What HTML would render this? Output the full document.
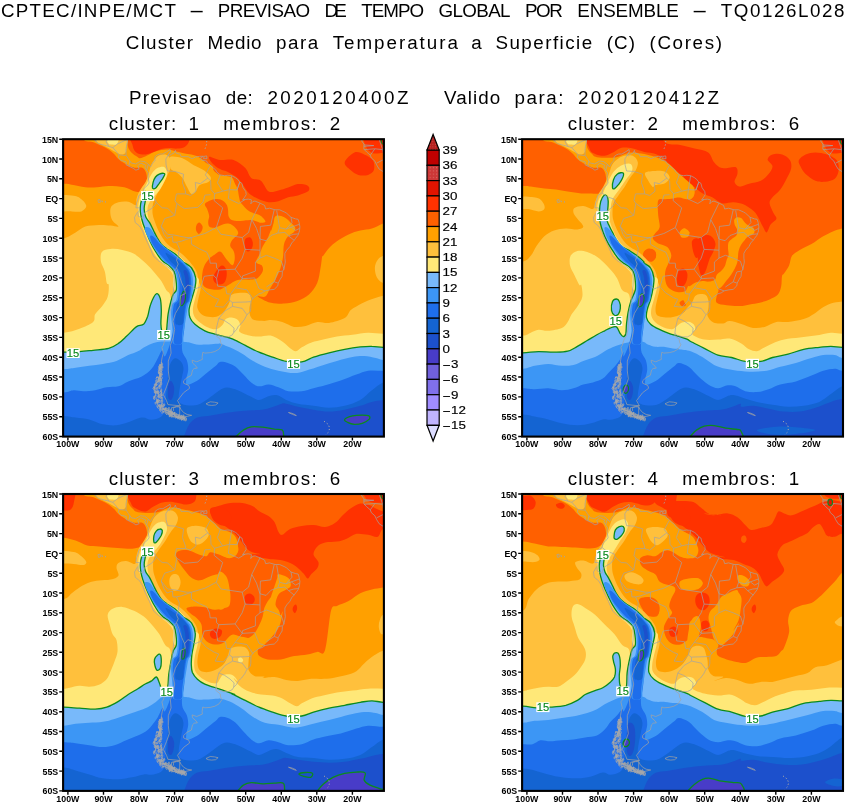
<!DOCTYPE html>
<html lang="pt"><head><meta charset="utf-8"><title>CPTEC/INPE/MCT - PREVISAO DE TEMPO GLOBAL POR ENSEMBLE</title>
<style>html,body{margin:0;padding:0;background:#fff}svg{display:block}text{font-family:"Liberation Sans",sans-serif;fill:#000}.t{font-size:18.8px}.tk{font-size:9.7px;font-weight:bold}.cb{font-size:10.8px;stroke:#000;stroke-width:0.15px}.cl{font-size:11.2px;fill:#0c8a1e;stroke:#0c8a1e;stroke-width:0.15px}</style></head><body>
<svg width="847" height="803" viewBox="0 0 847 803">
<rect width="847" height="803" fill="#fff"/>
<text class="t" x="1" y="16.5" textLength="174.9" lengthAdjust="spacing">CPTEC/INPE/MCT</text>
<text class="t" x="188.6" y="16.5" textLength="16.4" lengthAdjust="spacingAndGlyphs">-</text>
<text class="t" x="217.8" y="16.5" textLength="92.3" lengthAdjust="spacing">PREVISAO</text>
<text class="t" x="324.5" y="16.5" textLength="22.3" lengthAdjust="spacing">DE</text>
<text class="t" x="361.2" y="16.5" textLength="62.9" lengthAdjust="spacing">TEMPO</text>
<text class="t" x="438.5" y="16.5" textLength="72" lengthAdjust="spacing">GLOBAL</text>
<text class="t" x="524.9" y="16.5" textLength="38" lengthAdjust="spacing">POR</text>
<text class="t" x="577.3" y="16.5" textLength="101.5" lengthAdjust="spacing">ENSEMBLE</text>
<text class="t" x="691.6" y="16.5" textLength="16.4" lengthAdjust="spacingAndGlyphs">-</text>
<text class="t" x="720.7" y="16.5" textLength="123.8" lengthAdjust="spacing">TQ0126L028</text>
<text class="t" x="125.8" y="49" textLength="67.2" lengthAdjust="spacing">Cluster</text>
<text class="t" x="207.5" y="49" textLength="54" lengthAdjust="spacing">Medio</text>
<text class="t" x="276" y="49" textLength="42.2" lengthAdjust="spacing">para</text>
<text class="t" x="332.7" y="49" textLength="125.2" lengthAdjust="spacing">Temperatura</text>
<text class="t" x="476.6" y="49" text-anchor="middle">a</text>
<text class="t" x="495.4" y="49" textLength="96.8" lengthAdjust="spacing">Superficie</text>
<text class="t" x="606.7" y="49" textLength="28.3" lengthAdjust="spacing">(C)</text>
<text class="t" x="649.5" y="49" textLength="72.5" lengthAdjust="spacing">(Cores)</text>
<text class="t" x="128.9" y="104.2" textLength="82.4" lengthAdjust="spacing">Previsao</text>
<text class="t" x="225.8" y="104.2" textLength="27" lengthAdjust="spacing">de:</text>
<text class="t" x="267.4" y="104.2" textLength="141.1" lengthAdjust="spacing">2020120400Z</text>
<text class="t" x="444.1" y="104.2" textLength="56" lengthAdjust="spacing">Valido</text>
<text class="t" x="514.6" y="104.2" textLength="48.8" lengthAdjust="spacing">para:</text>
<text class="t" x="577.9" y="104.2" textLength="141.1" lengthAdjust="spacing">2020120412Z</text>
<text class="t" x="108.8" y="130.2" textLength="67.5" lengthAdjust="spacing">cluster:</text>
<text class="t" x="193.8" y="130.2" text-anchor="middle">1</text>
<text class="t" x="223.2" y="130.2" textLength="93.6" lengthAdjust="spacing">membros:</text>
<text class="t" x="334.9" y="130.2" text-anchor="middle">2</text>
<text class="t" x="567.8" y="130.2" textLength="67.5" lengthAdjust="spacing">cluster:</text>
<text class="t" x="652.8" y="130.2" text-anchor="middle">2</text>
<text class="t" x="682.2" y="130.2" textLength="93.6" lengthAdjust="spacing">membros:</text>
<text class="t" x="793.9" y="130.2" text-anchor="middle">6</text>
<text class="t" x="108.8" y="484.9" textLength="67.5" lengthAdjust="spacing">cluster:</text>
<text class="t" x="193.8" y="484.9" text-anchor="middle">3</text>
<text class="t" x="223.2" y="484.9" textLength="93.6" lengthAdjust="spacing">membros:</text>
<text class="t" x="334.9" y="484.9" text-anchor="middle">6</text>
<text class="t" x="567.8" y="484.9" textLength="67.5" lengthAdjust="spacing">cluster:</text>
<text class="t" x="652.8" y="484.9" text-anchor="middle">4</text>
<text class="t" x="682.2" y="484.9" textLength="93.6" lengthAdjust="spacing">membros:</text>
<text class="t" x="793.9" y="484.9" text-anchor="middle">1</text>
<clipPath id="cp1"><rect x="63.1" y="139.2" width="320.8" height="297.4"/></clipPath>
<g clip-path="url(#cp1)">
<rect x="60" y="135" width="330" height="310" fill="#ffa000"/>
<path d="M48.3,123.3C55.1,118.1 77.5,120.6 83.4,123.3C89.2,126 81.6,136.1 83.4,139.3C85.2,142.5 90.5,141 94.1,142.4C97.7,143.8 102,145.7 105.2,147.5C108.3,149.2 110.7,150.9 113,152.9C115.3,154.9 116.7,157.6 119,159.5C121.3,161.5 124.3,163.2 126.8,164.6C129.4,166 131.9,167.2 134.4,167.7C137,168.2 140.3,166.9 142.2,167.7C144.2,168.6 145.3,170.6 146.1,173C146.9,175.3 147.1,179 147.1,181.8C147,184.5 146.6,187.9 145.7,189.5C144.8,191.2 143.6,191.6 141.8,191.9C140,192.2 137.9,192.3 135,191.5C132.1,190.7 128.7,188.1 124.3,187.2C119.9,186.3 113.2,186 108.7,186C104.2,186 100.9,187 97,187.2C93.1,187.4 89.5,187.6 85.3,187.2C81.1,186.8 75.3,185.3 71.7,184.7C68.1,184.1 67.8,183.9 63.9,183.7C60,183.5 51.9,188.2 48.3,183.3C44.7,178.4 42.5,164.5 42.5,154.5C42.5,144.5 41.5,128.5 48.3,123.3Z" fill="#ff6000"/>
<path d="M127.2,123.3C82.6,126.6 127.3,138.4 127.6,142.8C127.9,147.2 128.2,147.7 129.2,149.6C130.1,151.5 131.6,152.8 133.1,154.1C134.5,155.4 136.8,156.5 137.9,157.2C139.1,157.9 138.5,158.5 140,158.3C141.5,158 144.7,156.5 147.1,155.4C149.4,154.4 151.8,152.8 154.2,151.9C156.5,151 158.9,150.4 161.3,150C163.6,149.6 166,149.3 168.3,149.5C170.7,149.7 173.1,150.6 175.4,151.2C177.8,151.7 180.1,152.3 182.5,152.9C184.9,153.4 187.2,153.7 189.6,154.3C191.9,154.8 194.5,155.2 196.7,156.1C198.8,157 200.7,158.5 202.3,159.7C204,160.8 204.9,162.1 206.6,163.2C208.2,164.3 211,164.8 212.3,166C213.5,167.3 212.7,169.2 213.9,170.7C215.1,172.1 217.5,174.1 219.6,174.9C221.6,175.8 224.1,175.5 226.2,175.9C228.2,176.3 230.4,176.1 231.8,177.3C233.3,178.5 233.7,181.1 234.7,182.9C235.6,184.8 236.8,186.4 237.5,188.6C238.2,190.8 238.4,194 238.9,196.2C239.4,198.4 239.6,200.3 240.3,201.8C241,203.4 241.9,204.2 243.2,205.6C244.4,207 246.2,209.1 247.9,210.3C249.6,211.6 251.7,212.4 253.6,213.2C255.4,214 257.7,214.3 259.2,215.1C260.8,215.8 262,216.8 263,217.9C264,219 265.7,220.9 265.4,221.7C265.1,222.5 262.8,222.9 261.1,222.8C259.5,222.7 257.2,221.4 255.4,220.9C253.7,220.4 252.3,220.1 250.7,220C249.2,219.9 247.7,220.2 246,220.3C244.3,220.5 242.2,220.9 240.3,220.9C238.4,221 236.2,220.9 234.7,220.7C233.1,220.5 231.9,220.4 230.9,219.6C229.9,218.8 229,217.5 228.5,216C228.1,214.5 228.3,212.1 228.1,210.3C227.8,208.6 227.7,207 227.1,205.6C226.5,204.2 225.4,202.9 224.3,201.8C223.2,200.8 221.9,199.9 220.5,199.5C219.1,199 217.5,198.8 215.8,199C214,199.2 211.8,199.8 210.1,200.4C208.5,201 206.7,202 205.9,202.8C205,203.6 204.7,204 204.9,205.1C205.2,206.2 206.6,207.6 207.3,209.4C208,211.2 209,214 209.2,216C209.3,218 208.2,219.9 208.2,221.7C208.2,223.4 208.2,225.4 209.2,226.4C210.1,227.4 212.3,227.8 213.9,227.8C215.5,227.8 217,226.8 218.6,226.2C220.2,225.6 221.8,224.8 223.3,224.3C224.9,223.9 226.5,223.4 228.1,223.6C229.6,223.7 231.4,224.5 232.8,225.4C234.2,226.4 235.7,227.8 236.6,229.2C237.4,230.6 238.7,232.2 238,233.9C237.3,235.7 233.7,237.8 232.4,239.8C231.1,241.7 229.9,243.8 230.2,245.8C230.4,247.7 233.2,249.5 233.9,251.7C234.7,254 234.9,257 234.7,259.2C234.4,261.4 233.8,265.2 232.4,265.2C231,265.2 228.4,261.4 226.4,259.2C224.4,257 222.5,252.5 220.5,251.7C218.5,251 216.2,253.7 214.5,254.7C212.7,255.7 210.8,257.2 210,257.7C209.2,258.2 210.8,256.6 210,257.8C209.1,258.9 206.1,262.2 204.8,264.7C203.6,267.2 202.8,269.9 202.4,273C201.9,276 201.7,280.4 202.4,282.9C203,285.4 203.9,286.7 206.5,287.9C209.1,289 214.8,290.1 218.1,289.8C221.4,289.6 223.6,287.6 226.3,286.2C229.1,284.8 232.1,282.3 234.6,281.2C237.1,280.1 238.4,279.9 241.2,279.6C244,279.3 248.4,279.9 251.1,279.6C253.9,279.3 255.8,279.3 257.7,277.9C259.7,276.6 262,273.4 262.7,271.3C263.4,269.3 263,267.1 261.9,265.5C260.8,264 256.5,264 256.1,262.2C255.7,260.4 258.3,257.4 259.4,254.8C260.5,252.2 261.3,249.3 262.7,246.5C264.1,243.8 266.3,241 267.6,238.3C269,235.5 270.3,231.2 271,230C271.6,228.8 270.8,231.9 271.3,230.8C271.7,229.7 272.8,225.8 273.5,223.3C274.3,220.8 273.9,216.9 275.8,215.9C277.6,214.9 282.1,216.1 284.7,217.4C287.3,218.6 289.7,221.6 291.4,223.3C293.2,225.1 294.8,226.3 295.2,227.8C295.6,229.3 294.9,230.8 293.7,232.3C292.4,233.8 289.3,234.8 287.7,236.8C286.1,238.8 284.7,241.3 284,244.3C283.2,247.2 283.6,251.5 283.2,254.7C282.9,258 282.5,260.7 281.7,263.7C281,266.7 280,269.7 278.7,272.7C277.5,275.6 275.8,278.9 274.3,281.6C272.8,284.4 271.3,286.6 269.8,289.1C268.3,291.6 267.3,295.4 265.3,296.6C263.3,297.7 258.2,295.6 257.7,296.1C257.3,296.6 260.5,298.3 262.7,299.4C264.9,300.5 267.4,302 271,302.7C274.5,303.4 279.8,303.8 284.2,303.6C288.6,303.3 293.3,302.6 297.4,301.1C301.5,299.6 305.7,297.5 309,294.5C312.3,291.4 315.3,287.3 317.2,282.9C319.2,278.5 319.7,272.4 320.5,268C321.4,263.6 321.7,258.5 322.2,256.4C322.6,254.4 322.1,257.2 323.2,255.8C324.4,254.4 326.8,250.4 329.1,248C331.4,245.6 333.6,243.4 336.9,241.2C340.1,238.9 344.7,236.1 348.6,234.4C352.5,232.6 356.4,231.4 360.3,230.5C364.2,229.5 368.1,229.6 371.9,228.5C375.7,227.4 379.2,225.3 383.1,223.6C386.9,222 391.3,227 395.3,218.8C399.3,210.5 407,189.9 407,174C407,158.1 442,131.8 395.3,123.3C348.7,114.9 171.8,120.1 127.2,123.3Z" fill="#ff6000"/>
<path d="M199.3,222.6C200.3,222.8 202.2,225 202.6,226.4C202.9,227.8 202.2,229.9 201.6,231.1C201,232.4 199.7,234.1 198.8,233.9C197.9,233.8 196.5,231.6 196.1,230.2C195.7,228.8 195.9,226.7 196.4,225.4C196.9,224.2 198.2,222.5 199.3,222.6Z" fill="#ff6000"/>
<path d="M133.1,129.2C123.6,131.9 132,141.8 132.7,145.7C133.3,149.7 134.8,151.5 136.9,152.9C139.1,154.4 143,154.6 145.7,154.5C148.5,154.4 150.9,153.1 153.5,152.1C156.1,151.2 158.7,149.7 161.3,149C163.9,148.3 166.5,147.9 169.1,147.9C171.7,147.8 174.3,148.8 176.9,148.6C179.5,148.5 182.6,148.5 184.7,147.1C186.8,145.6 188.7,142.9 189.5,139.9C190.4,136.9 199,130.9 189.5,129.2C180.1,127.4 142.5,126.4 133.1,129.2Z" fill="#ff3200"/>
<path d="M209.3,156.8C210.6,156.3 215.9,159.4 220,159.9C224.1,160.5 229.4,158.6 233.6,159.9C237.9,161.3 242.4,165.1 245.3,168.1C248.2,171.1 248.6,175.7 251.2,177.9C253.8,180 258,178.5 260.9,180.8C263.8,183.1 265.8,189.9 268.7,191.5C271.6,193.1 275.2,191.2 278.4,190.5C281.7,189.9 284.9,188.7 288.2,187.6C291.4,186.5 295,184.6 297.9,184.1C300.8,183.6 303.8,184.1 305.7,184.7C307.6,185.3 308.9,186.5 309.2,187.6C309.5,188.7 309.5,190.2 307.7,191.5C305.8,192.8 301.2,194.4 297.9,195.4C294.7,196.4 291.4,196.4 288.2,197.3C284.9,198.3 281.7,200.4 278.4,201.2C275.2,202 271.9,202.5 268.7,202.2C265.5,201.9 262.2,200.7 259,199.3C255.7,197.8 251.8,195.7 249.2,193.4C246.6,191.2 245.3,188.2 243.4,185.6C241.4,183.1 240.1,180.1 237.5,177.9C234.9,175.6 230.7,173.5 227.8,172C224.9,170.6 222.6,170.6 220,169.1C217.4,167.6 214,165.3 212.2,163.2C210.4,161.2 208,157.4 209.3,156.8Z" fill="#ff3200"/>
<path d="M344.7,162.3C345.3,159.4 351.2,153.8 354.4,152.5C357.7,151.2 361.1,153.2 364.2,154.5C367.2,155.8 371.3,157.7 372.9,160.3C374.5,162.9 374.7,167.6 373.9,170.1C373.1,172.5 370.6,174.1 368.1,174.9C365.5,175.7 361.2,175.7 358.3,174.9C355.4,174.1 352.8,172.2 350.5,170.1C348.2,168 344,165.2 344.7,162.3Z" fill="#ff3200"/>
<path d="M365.1,135C370,133.1 390.3,132.7 395.3,135C400.4,137.3 398.6,145.6 395.3,148.6C392.1,151.7 380.1,153 375.8,153.5C371.6,154 371.6,152.7 370,151.6C368.4,150.4 366.9,149.4 366.1,146.7C365.3,143.9 360.3,136.9 365.1,135Z" fill="#ff3200"/>
<path d="M213.1,277.9C213.2,275.6 215.7,271.7 217.2,269.7C218.7,267.6 220.7,265.5 222.2,265.5C223.7,265.5 225.6,267.6 226.3,269.7C227,271.7 226.9,275.6 226.3,277.9C225.8,280.3 224.7,282.8 223,283.7C221.4,284.7 218.1,284.7 216.4,283.7C214.8,282.8 213,280.3 213.1,277.9Z" fill="#ff3200"/>
<path d="M245.3,239.1C246.2,237.6 249,236.9 250.3,237.4C251.5,238 252.5,240.6 252.8,242.4C253,244.2 252.8,246.7 251.9,248.2C251.1,249.7 249,251.8 247.8,251.5C246.6,251.2 245.2,248.6 244.8,246.5C244.4,244.5 244.4,240.6 245.3,239.1Z" fill="#ff3200"/>
<path d="M395.3,251.9C393.3,246.7 386,254.5 383.1,255.8C380.1,257.1 379.2,257.7 377.8,259.7C376.4,261.6 375,264.5 374.9,267.5C374.7,270.4 375.5,274.6 376.8,277.2C378.2,279.8 380,281.4 383.1,283.1C386.1,284.7 393.3,292.1 395.3,286.9C397.4,281.8 397.4,257.1 395.3,251.9Z" fill="#ffc03c"/>
<path d="M91.2,129.2C86.1,131.1 94.3,138.2 96,140.8C97.8,143.4 99.8,143.5 101.9,144.7C104,146 106.4,147 108.7,148.2C111,149.5 113.5,151.1 115.5,152.1C117.5,153.2 119.2,154.4 120.8,154.5C122.4,154.6 124.3,154.2 125.3,152.9C126.2,151.6 126.5,150.6 126.6,146.7C126.8,142.7 132.1,132.1 126.2,129.2C120.3,126.2 96.2,127.2 91.2,129.2Z" fill="#ffc03c"/>
<path d="M105.2,129.2C103.2,131.4 106.5,139.9 107.7,142.4C109,144.9 111,144.2 112.6,144.4C114.2,144.5 116.3,145.7 117.5,143.2C118.6,140.6 121.5,131.5 119.4,129.2C117.4,126.8 107.1,126.9 105.2,129.2Z" fill="#ffe878"/>
<path d="M170.5,156.8C172.5,155.9 178.6,156.8 182.5,158.3C186.4,159.7 190.3,163.3 193.8,165.3C197.4,167.3 200.9,168.3 203.8,170.3C206.6,172.3 210.1,175.4 210.8,177.4C211.5,179.4 209.9,181 208,182.3C206.1,183.6 201.6,183.5 199.5,185.2C197.4,186.8 196.7,190.8 195.3,192.3C193.8,193.7 192.4,194.6 191,193.7C189.6,192.7 188.2,189.2 186.8,186.6C185.3,184 184.2,180.4 182.5,178.1C180.9,175.7 178.7,173.8 176.8,172.4C174.9,171 172.2,171 171.2,169.6C170.1,168.2 170.6,166 170.5,163.9C170.3,161.8 168.5,157.8 170.5,156.8Z" fill="#ffc03c"/>
<path d="M56.1,196.4C59,194 69.4,195.3 73.6,195.8C77.9,196.3 79.3,197.6 81.4,199.3C83.5,201 86.3,204.1 86.3,206.1C86.3,208.1 83.9,210.5 81.4,211.4C79,212.2 75.9,211.6 71.7,211.4C67.5,211.1 58.7,212.5 56.1,210C53.5,207.5 53.2,198.7 56.1,196.4Z" fill="#ffc03c"/>
<path d="M42.5,241.2C52.9,235.6 58.4,239.7 63.9,238.2C69.4,236.8 72,234.4 75.6,232.4C79.2,230.5 81.4,227.8 85.3,226.6C89.2,225.3 94.7,225.2 99,225C103.2,224.8 107.4,225.3 110.6,225.6C113.9,225.8 118.1,227.4 118.4,226.6C118.8,225.7 114,223 112.6,220.7C111.2,218.4 110.4,215.4 110.3,212.9C110.1,210.5 110.3,207.9 111.6,206.1C113,204.3 115.7,202.9 118.4,202.2C121.2,201.5 125.3,201.3 128.2,201.8C131.1,202.3 134.6,205.6 136,205.1C137.3,204.7 136,201.2 136.4,199.3C136.8,197.3 137.4,195.4 138.3,193.4C139.2,191.5 140.6,189.5 141.8,187.6C143.1,185.6 144.6,184 145.7,181.8C146.9,179.5 147.7,176.9 148.6,174C149.6,171 150.1,167.1 151.6,164.2C153,161.3 155.1,158.1 157.4,156.4C159.7,154.8 163.1,154.2 165.2,154.5C167.3,154.8 169.1,156.4 170.1,158.4C171,160.3 171.5,163.2 171,166.2C170.6,169.1 168.8,172.3 167.1,175.9C165.5,179.5 163.1,184.4 161.3,187.6C159.5,190.8 157.8,192.8 156.4,195.4C155.1,198 153.8,200.3 153.1,203.2C152.5,206.1 152.3,210 152.5,212.9C152.8,215.8 153.5,217.8 154.5,220.7C155.5,223.6 156.8,227.2 158.4,230.5C160,233.7 162.1,237.4 164.2,240.2C166.3,243 168.3,244.9 171,247C173.8,249.1 177.7,250.4 180.8,252.9C183.9,255.3 186.9,258.5 189.5,261.6C192.1,264.7 194.8,268.1 196.4,271.4C197.9,274.6 198,278.4 198.7,281.1C199.4,283.9 200.8,284.8 200.7,287.9C200.6,290.9 198.8,296.1 198.2,299.4C197.7,302.7 196.8,305.2 197.4,307.7C197.9,310.2 199.7,312.8 201.5,314.3C203.3,315.8 205.7,316.4 208.1,316.8C210.6,317.2 213.8,317.6 216.4,316.8C219,316 221.7,314.2 223.8,311.8C226,309.5 228.2,305.3 229.3,302.7C230.4,300.1 229.6,297.6 230.5,296.1C231.3,294.6 232.5,294.2 234.6,293.6C236.7,293.1 240.4,292.7 242.9,292.8C245.3,292.9 248.1,293.1 249.5,294.5C250.8,295.8 251.1,298.9 251.1,301.1C251.1,303.3 249.6,305.2 249.5,307.7C249.3,310.2 249.5,313.9 250.3,316C251.1,318 252.1,319.3 254.4,320.1C256.8,320.9 261.6,320.9 264.3,320.9C267,320.9 267.6,319.9 270.6,320.1C273.6,320.2 278.4,320.9 282.3,322C286.2,323.1 290.1,326.2 294,326.9C297.9,327.5 301.8,326.7 305.7,325.9C309.6,325.1 313.5,322.5 317.4,322C321.3,321.5 324.5,323.6 329.1,323C333.6,322.3 341.1,320.2 344.7,318.1C348.2,316 348.6,312.3 350.5,310.3C352.5,308.4 353.4,308.1 356.4,306.4C359.3,304.8 363.6,302.4 368.1,300.6C372.5,298.8 377.9,297 383.1,295.7C388.2,294.4 393.9,278.3 399.2,292.8C404.5,307.2 415.5,354.5 414.8,382.4C414.2,410.3 457,447.3 395.3,460.3C333.6,473.3 110.3,491.8 44.7,460.3C-21,428.8 1.9,307.9 1.6,271.4C1.2,234.8 32.1,246.7 42.5,241.2Z" fill="#ffc03c"/>
<path d="M101.9,251.9C103.5,249.8 107.2,249.3 110.6,249C114.1,248.6 118.4,249.1 122.3,249.9C126.2,250.7 130.5,251.9 134,253.8C137.6,255.8 140.5,258.7 143.8,261.6C147,264.5 150.6,268.1 153.5,271.4C156.4,274.6 159.2,278 161.3,281.1C163.4,284.2 164.7,287.8 166.2,290.1C167.6,292.3 169.3,291.7 170.1,294.7C170.9,297.8 171.2,303.5 171,308.4C170.9,313.2 169.7,319.4 169.1,324C168.4,328.5 167.5,329.2 167.1,335.6C166.8,342.1 184.4,358.4 167.1,362.9C149.9,367.5 84.7,362.9 63.9,362.9C43.1,362.9 46,368 42.5,362.9C38.9,357.9 38.9,337.8 42.5,332.7C46,327.7 57.7,333.4 63.9,332.7C70.1,332.1 74.6,330.6 79.5,328.8C84.4,327 90.5,324.4 93.1,322C95.7,319.6 93.6,316.8 95.1,314.2C96.5,311.6 99.8,309.4 101.9,306.4C104,303.5 106.6,300.3 107.7,296.7C108.9,293.1 108.9,287.3 108.7,285C108.5,282.7 107.4,285.3 106.8,283.1C106.1,280.8 105.8,274.9 104.8,271.4C103.8,267.8 101.4,264.9 100.9,261.6C100.4,258.4 100.3,254 101.9,251.9Z" fill="#ffe878"/>
<path d="M197.9,277.9C200,279.3 198.4,284.3 197.9,287.9C197.4,291.4 195.7,296 194.9,299.4C194.1,302.9 193.1,305.8 192.9,308.5C192.8,311.3 193.1,313.7 194.1,316C195.1,318.2 196.7,319.8 199,321.7C201.4,323.7 205.2,326.3 208.1,327.5C211,328.8 213.9,329.7 216.4,329.2C218.9,328.6 221.5,325.9 223,324.2C224.5,322.6 224.1,320.4 225.5,319.3C226.9,318.2 229.2,317.5 231.3,317.6C233.3,317.7 236.4,318.7 237.9,320.1C239.4,321.5 240.1,323.9 240.4,325.9C240.6,327.8 238,330.1 239.5,331.8C241,333.4 246,334.8 249.2,335.6C252.5,336.5 255.4,336.6 259,336.6C262.5,336.6 266.8,334.8 270.6,335.6C274.5,336.5 279.1,339.4 282.3,341.5C285.6,343.6 287.9,346.7 290.1,348.3C292.4,349.9 294,351.4 296,351.2C297.9,351.1 299.2,348.8 301.8,347.3C304.4,345.9 308,343.8 311.6,342.5C315.1,341.2 319,340.5 323.2,339.5C327.5,338.6 332,337.4 336.9,336.6C341.8,335.8 347.3,335.3 352.5,334.7C357.7,334 363,332.9 368.1,332.7C373.1,332.6 377.9,333.5 383.1,333.7C388.2,333.9 396.5,325.6 399.2,333.7C401.9,341.8 429.1,374.3 399.2,382.4C369.4,390.5 255.7,394 220,382.4C184.3,370.8 190.8,329.8 185,312.6C179.2,295.5 182.9,285.4 185,279.6C187.1,273.8 195.7,276.6 197.9,277.9Z" fill="#ffe878"/>
<path d="M142.8,191.5C144,188.9 145.2,186.6 146.7,183.7C148.1,180.8 149.8,176.6 151.6,174C153.3,171.4 155.3,169.3 157.4,168.1C159.5,167 162.6,166.2 164.2,167.1C165.8,168.1 167.3,171.2 167.1,174C167,176.7 164.7,180.8 163.2,183.7C161.8,186.6 160.3,188.9 158.4,191.5C156.4,194.1 153.3,196.7 151.6,199.3C149.8,201.9 148.2,204.2 147.7,207.1C147.1,210 147.4,213.6 148.1,216.8C148.7,220.1 150.3,223.3 151.6,226.6C152.9,229.8 154.1,233.4 155.8,236.3C157.6,239.2 160.1,242 162.3,244.1C164.5,246.2 166.7,247.3 169.1,249C171.5,250.6 174.3,251.7 176.9,253.8C179.5,255.9 182.2,259 184.7,261.6C187.1,264.2 189.7,266.5 191.5,269.4C193.3,272.3 194.6,275.7 195.4,279.2C196.2,282.6 199.8,288.2 196.4,290.1C193,291.9 178.8,292.5 174.9,290.1C171,287.6 174.1,278.9 173,275.3C171.9,271.7 169.9,270.4 168.1,268.4C166.3,266.5 164.2,265.5 162.3,263.6C160.3,261.6 158.2,259.2 156.4,256.8C154.6,254.3 153,251.7 151.6,249C150.1,246.2 148.9,243.1 147.7,240.2C146.4,237.3 145.2,234.2 144.2,231.4C143.1,228.7 142.3,226.4 141.4,223.6C140.6,220.9 139.4,217.6 138.9,214.9C138.4,212.1 138.2,209.7 138.3,207.1C138.4,204.5 138.7,201.9 139.5,199.3C140.2,196.7 141.6,194.1 142.8,191.5Z" fill="#ffe878"/>
<path d="M144.9,191.5C144.1,192.1 142.6,196.7 141.8,199.3C141,201.9 140.4,204.5 140.3,207.1C140.1,209.7 140.4,212.3 140.8,214.9C141.3,217.5 142,220.1 142.8,222.7C143.6,225.3 144.6,227.5 145.7,230.5C146.9,233.4 148.3,237.3 149.6,240.2C150.9,243.1 152,245.4 153.5,248C155,250.6 156.8,253.5 158.4,255.8C160,258.1 161.5,260 163.2,261.6C165,263.2 167.3,263.9 169.1,265.5C170.9,267.1 172.8,269.1 174,271.4C175.1,273.6 175.5,276 175.9,279.2C176.3,282.3 176.8,287.5 176.3,290.1C175.8,292.7 174,292.3 173,294.7C171.9,297.1 170.9,301.2 170.1,304.5C169.3,307.7 168.6,311 168.1,314.2C167.6,317.5 167.4,321.2 167.1,324C166.9,326.7 166.9,329.1 166.4,330.8C165.9,332.5 165,334 164.2,334.1C163.5,334.2 162.4,333.1 161.9,331.4C161.3,329.7 161,327.5 160.9,324C160.8,320.5 161.4,314.5 161.3,310.3C161.2,306.1 161.1,301.4 160.3,298.6C159.5,295.9 158.1,292.8 156.4,293.8C154.8,294.7 152,300.7 150.6,304.5C149.1,308.2 148.8,312.9 147.7,316.2C146.5,319.4 145.4,322.3 143.8,324C142.1,325.6 139.5,325.1 137.9,325.9C136.3,326.7 136,327 134,328.8C132.1,330.6 128.8,334.2 126.2,336.6C123.6,339.1 121.4,341.5 118.4,343.4C115.5,345.4 112.9,347.2 108.7,348.3C104.5,349.4 98,349.7 93.1,350.3C88.2,350.8 84.4,351.3 79.5,351.6C74.6,351.9 70.1,352 63.9,352.2C57.7,352.4 52.9,344.3 42.5,352.6C32.1,360.9 1.6,383.9 1.6,401.9C1.6,419.8 3.5,450.6 42.5,460.3C81.4,470.1 173.3,470.1 235.3,460.3C297.4,450.6 387.5,420.6 414.8,401.9C442.1,383.1 404.5,356.8 399.2,347.7C393.9,338.6 387.6,347.6 383.1,347.3C378.5,347.1 375.7,346.4 371.9,346.4C368.1,346.3 364.8,346.5 360.3,346.9C355.7,347.4 349.9,348.3 344.7,349.3C339.5,350.3 334.3,351.5 329.1,352.8C323.9,354.1 318.1,355.6 313.5,357.1C309,358.6 306.4,361.2 301.8,361.9C297.3,362.7 291.1,362.2 286.2,361.4C281.4,360.6 277.1,358.6 272.6,357.1C268.1,355.6 263.5,354.2 259,352.2C254.4,350.3 249.7,347.6 245.3,345.4C241,343.2 236.4,340.6 232.9,339.1C229.5,337.6 227.7,337.4 224.7,336.6C221.6,335.8 218.1,335.1 214.8,334.1C211.4,333.2 208.1,332.5 204.8,330.8C201.5,329.2 197.4,326.4 194.9,324.2C192.4,322 190.9,320.1 190,317.6C189,315.1 188.9,312.4 189.1,309.3C189.4,306.3 190.6,303 191.6,299.4C192.6,295.8 194.2,291.4 194.9,287.9C195.6,284.3 196.3,281.2 195.7,277.9C195.2,274.6 193.4,270.5 191.6,268C189.8,265.5 186.5,264.1 185,263.1C183.5,262 184.4,263.2 182.7,261.6C181,260.1 177.5,255.9 174.9,253.8C172.3,251.7 169.4,250.6 167.1,249C164.9,247.3 162.9,245.9 161.3,244.1C159.7,242.3 158.7,240.5 157.4,238.2C156.1,236 154.8,233.1 153.5,230.5C152.2,227.9 150.9,224.9 149.6,222.7C148.3,220.4 146.6,219.1 145.7,216.8C144.8,214.5 144.2,211.6 144.2,209C144.1,206.4 144.8,203.5 145.3,201.2C145.8,199 147.1,197 147.1,195.4C147,193.8 145.8,190.8 144.9,191.5Z" fill="#78b9fa" stroke="#0c8a1e" stroke-width="1.3"/>
<path d="M152.5,188C152.2,187 152.6,184.2 153.1,182.3C153.6,180.5 154.5,178.3 155.5,177C156.6,175.6 158,174.7 159.3,174.1C160.7,173.5 162.7,173.2 163.6,173.3C164.5,173.4 164.9,173.7 164.7,174.7C164.5,175.6 163.4,177.4 162.5,178.9C161.5,180.4 160.1,182.2 158.9,183.8C157.7,185.3 156.4,187.6 155.4,188.3C154.3,189 152.9,189 152.5,188Z" fill="#78b9fa" stroke="#0c8a1e" stroke-width="1.3"/>
<path d="M42.5,369.2C52.9,363.7 58.4,369.4 63.9,369.2C69.4,368.9 71.4,368.3 75.6,367.8C79.8,367.2 84.7,366.5 89.2,365.8C93.8,365.2 98.3,364.7 102.9,363.9C107.4,363.1 112.3,362.4 116.5,361C120.7,359.5 124.6,356.8 128.2,355.1C131.8,353.5 135,352.7 137.9,351.2C140.8,349.8 143.1,347.7 145.7,346.4C148.3,345 150.9,343.9 153.5,343.1C156.1,342.2 158.7,341.8 161.3,341.5C163.9,341.2 166.5,341.6 169.1,341.5C171.7,341.4 174.3,341 176.9,341.1C179.5,341.2 182.6,341.7 184.7,341.9C186.8,342.1 187.6,342 189.5,342.5C191.5,342.9 193.6,344.1 196.4,344.4C199.1,344.8 202.9,344.7 206.1,344.6C209.4,344.5 213.5,344 215.8,343.8C218.1,343.6 219.2,343.5 219.9,343.4C220.6,343.4 218.4,342.8 220,343.4C221.6,344.1 226.2,345.7 229.7,347.3C233.3,349 237.5,350.9 241.4,353.2C245.3,355.5 249.2,358.7 253.1,361C257,363.2 260.6,365.2 264.8,366.8C269,368.4 273.6,369.7 278.4,370.7C283.3,371.8 289.5,373.1 294,373.1C298.6,373.1 301.2,371.9 305.7,370.7C310.3,369.5 316.1,367.5 321.3,365.8C326.5,364.2 331.7,362.4 336.9,361C342.1,359.5 347.9,357.9 352.5,357.1C357,356.3 360.3,355.9 364.2,356.1C368.1,356.3 372.7,357.4 375.8,358.1C379,358.7 379.2,359.5 383.1,360C386.9,360.5 393.9,350.7 399.2,361C404.5,371.2 415.5,404.8 414.8,421.4C414.2,437.9 457,453.8 395.3,460.3C333.6,466.8 110.3,470.1 44.7,460.3C-21,450.6 1.9,417.1 1.6,401.9C1.2,386.7 32.1,374.6 42.5,369.2Z" fill="#3c96f5"/>
<path d="M42.5,393.1C52.9,388.3 58.7,393 63.9,392.5C69.1,392 70.4,390.4 73.6,390.2C76.9,390 79.8,391.2 83.4,391.2C86.9,391.2 91.2,390.8 95.1,390.2C99,389.5 102.9,387.9 106.8,387.3C110.6,386.6 114.9,387.3 118.4,386.3C122,385.3 124.3,383.1 128.2,381.4C132.1,379.8 137.9,378.7 141.8,376.6C145.7,374.4 149,371.7 151.6,368.8C154.2,365.8 155.6,362.1 157.4,359C159.2,355.9 161.1,350.7 162.3,350.3C163.5,349.8 163.5,356.7 164.6,356.4C165.6,356.2 167.2,351.7 168.3,348.9C169.4,346.1 170.4,342.6 171.2,339.4C172,336.3 172.6,332.8 173.1,330C173.5,327.2 172.3,323.7 174,322.4C175.7,321.2 181.7,321.2 183.4,322.4C185.1,323.7 184.3,327.5 184.2,330C184.1,332.5 183.4,335 183.1,337.6C182.7,340.1 182,342.6 181.9,345.1C181.9,347.6 181.9,350.1 182.7,352.7C183.5,355.2 185.9,357.4 186.8,360.2C187.8,363.1 188.3,366.5 188.2,369.7C188.1,372.8 186.4,376.6 186.3,379.1C186.1,381.6 185.5,384.5 187.2,384.8C189,385.1 193.5,382.9 196.7,381C199.8,379.1 203,376 206.1,373.4C209.3,370.9 213.2,367.8 215.6,365.9C217.9,364 218,362.4 220,361.9C222,361.5 225.2,362.1 227.8,362.9C230.4,363.7 233,364.9 235.6,366.8C238.2,368.8 240.8,372 243.4,374.6C246,377.2 248.6,380.5 251.2,382.4C253.8,384.4 256,386 259,386.3C261.9,386.6 265.5,384.2 268.7,384.4C271.9,384.5 275.2,386.1 278.4,387.3C281.7,388.4 284.3,390.5 288.2,391.2C292.1,391.8 297.6,391.7 301.8,391.2C306,390.7 309.6,389.2 313.5,388.2C317.4,387.3 320.6,386.6 325.2,385.3C329.7,384 335.6,382.2 340.8,380.5C346,378.7 351.8,376.2 356.4,374.6C360.9,373 363.6,371.4 368.1,370.7C372.5,370.1 377.9,370.7 383.1,370.7C388.2,370.7 393.9,362.3 399.2,370.7C404.5,379.2 415.5,406.4 414.8,421.4C414.2,436.3 457,453.8 395.3,460.3C333.6,466.8 110.3,466.8 44.7,460.3C-21,453.8 1.9,432.6 1.6,421.4C1.2,410.2 32.1,397.9 42.5,393.1Z" fill="#1e6eeb"/>
<path d="M42.5,415.9C52.9,411.8 58.4,415.6 63.9,415.9C69.4,416.2 71.4,416.9 75.6,417.5C79.8,418.1 84.7,418.3 89.2,419.4C93.8,420.6 98.3,423.3 102.9,424.3C107.4,425.3 112.3,425.6 116.5,425.3C120.7,424.9 124,423.6 128.2,422.3C132.4,421 138,417.9 141.8,417.5C145.7,417 148.2,419.8 151.3,419.7C154.5,419.6 158.6,418.3 160.8,416.9C163,415.5 163.8,413.7 164.6,411.2C165.3,408.7 165.2,404.9 165.5,401.8C165.8,398.6 166.1,395.5 166.4,392.3C166.8,389.2 167.1,386 167.4,382.9C167.7,379.7 167.9,376.6 168.3,373.4C168.8,370.3 169.1,366.5 170.2,364C171.3,361.5 173.2,358.8 174.9,358.3C176.7,357.9 179.2,359.6 180.6,361.2C182,362.7 183.2,365.1 183.4,367.8C183.7,370.5 182.5,374.1 181.9,377.2C181.4,380.4 180.6,383.5 180,386.7C179.5,389.8 178.8,393.4 178.7,396.1C178.7,398.8 177.9,401.2 179.7,402.7C181.4,404.3 185.7,405.4 189.1,405.6C192.6,405.7 196.7,405.2 200.4,403.7C204.2,402.1 208.6,398.3 211.8,396.1C214.9,393.9 216.8,391.9 219.3,390.4C221.9,389 223.7,387.6 226.9,387.6C230,387.6 234.5,389 238.2,390.4C242,391.9 246.1,394.5 249.6,396.1C253,397.7 255.9,399.9 259,399.9C262,400 264.8,397.2 267.7,396.4C270.6,395.6 273.4,394.5 276.5,395.1C279.6,395.6 282.7,398.5 286.2,399.9C289.8,401.4 293.4,402.9 297.9,403.8C302.5,404.8 308.3,405.1 313.5,405.8C318.7,406.4 323.9,407.7 329.1,407.7C334.3,407.7 339.5,407.1 344.7,405.8C349.9,404.5 355.7,402.5 360.3,399.9C364.8,397.3 368.1,393.1 371.9,390.2C375.7,387.3 378.5,384.4 383.1,382.4C387.6,380.5 393.9,368.8 399.2,378.5C404.5,388.2 415.5,427.2 414.8,440.8C414.2,454.5 457,457.1 395.3,460.3C333.6,463.6 110.3,463.6 44.7,460.3C-21,457.1 1.9,448.2 1.6,440.8C1.2,433.4 32.1,420.1 42.5,415.9Z" fill="#1464d2"/>
<path d="M177.8,450.9C178.7,440.5 181.6,442.1 183.4,437.7C185.3,433.3 186.9,427.8 189.1,424.5C191.3,421.1 193.5,419.3 196.7,417.8C199.8,416.4 204.2,416.6 208,416C211.8,415.3 215.6,414.7 219.3,414.1C223.1,413.4 226.9,412.7 230.7,412.2C234.5,411.6 238.2,411.2 242,410.9C245.8,410.5 249.6,410.5 253.3,410.3C257.1,410 261.2,410 264.7,409.3C268.1,408.7 271.3,407.4 274.1,406.5C277,405.6 279.7,404.1 281.7,403.7C283.7,403.2 283.5,403.3 286.2,403.8C288.9,404.3 293.4,405.8 297.9,406.8C302.5,407.7 308.3,408.9 313.5,409.7C318.7,410.5 323.9,411.6 329.1,411.6C334.3,411.6 339.5,410.6 344.7,409.7C349.9,408.7 355.7,407.1 360.3,405.8C364.8,404.5 368.1,402.9 371.9,401.9C375.7,400.9 378.5,400.4 383.1,399.9C387.6,399.4 393.9,392.1 399.2,399C404.5,405.8 415.5,430.6 414.8,440.8C414.2,451.1 434.8,450.5 395.3,460.3C355.8,470.2 214,501.6 177.8,500C141.5,498.4 176.8,461.3 177.8,450.9Z" fill="#1c50cc"/>
<path d="M171.2,381C172.1,381.5 173.6,384.5 174,386.7C174.4,388.9 174.1,392 173.6,394.2C173.2,396.4 172.1,399.3 171.2,399.9C170.3,400.5 168.9,399.6 168.3,398C167.8,396.4 167.9,392.8 168,390.4C168,388.1 168.2,385.4 168.7,383.8C169.2,382.3 170.3,380.5 171.2,381Z" fill="#1c50cc"/>
<path d="M231.7,440.8C228,438.4 234.6,437.8 236.6,436C238.5,434.2 240.9,431.7 243.4,430.1C245.8,428.6 247.9,427.3 251.2,426.8C254.4,426.3 259,426.8 262.9,427.2C266.8,427.6 271.3,428.7 274.5,429.2C277.8,429.6 280.8,429 282.3,430.1C283.9,431.3 283.4,434.2 283.7,436C284,437.8 288.4,438.4 284.3,440.8C280.2,443.3 267.7,450.6 259,450.6C250.2,450.6 235.4,443.3 231.7,440.8Z" fill="#483cc8" stroke="#0c8a1e" stroke-width="1.3"/>
<path d="M344.7,419.4C345.5,418.3 349.5,416.6 352.5,415.9C355.4,415.2 359.4,415.1 362.2,415.1C365,415.1 367.9,415.2 369,415.9C370.2,416.6 370.2,418.2 369,419.4C367.9,420.6 364.6,422.5 362.2,423.3C359.8,424.1 356.9,424.4 354.4,424.3C352,424.1 349.2,423.1 347.6,422.3C346,421.5 343.9,420.5 344.7,419.4Z" fill="#483cc8" stroke="#0c8a1e" stroke-width="1.3"/>
<path d="M144.6,228C144.2,229.4 146.3,233.7 147.5,236.6C148.8,239.4 150.3,242.3 152.1,245.1C153.8,248 155.8,251.1 157.8,253.7C159.8,256.4 161.8,258.9 163.9,260.9C165.9,262.9 168.2,264.2 170.1,265.9C171.9,267.6 173.8,268.9 175,270.9C176.1,273 176.6,275.2 177.1,278.1C177.5,281 177.9,284.5 177.7,288.1C177.6,291.8 177.2,297.3 176.3,300C175.3,302.7 173,302.1 172.1,304.5C171.2,306.9 171.1,311 171,314.2C171,317.5 171.6,320.7 171.9,324C172.2,327.2 172.5,330.5 172.8,333.7C173,336.9 171.6,341.8 173.2,343.4C174.8,345.1 180.8,345.1 182.5,343.4C184.2,341.8 182.9,336.9 183.4,333.7C183.8,330.5 184.4,327.2 185,324C185.5,320.7 186,317.5 186.6,314.2C187.2,311 187.7,306.9 188.5,304.5C189.2,302.1 190.4,302.7 191.2,300C191.9,297.3 192.6,291.8 192.8,288.1C193.1,284.5 193.1,281 192.8,278.1C192.5,275.2 191.9,273 191,270.9C190.1,268.9 188.7,267.6 187.3,265.9C185.9,264.2 185,262.9 182.8,260.9C180.5,258.9 177.2,256.4 173.8,253.7C170.4,251.1 165.4,248 162.4,245.1C159.4,242.3 158,239.4 155.9,236.6C153.8,233.7 151.6,229.4 149.8,228C147.9,226.5 145,226.5 144.6,228Z" fill="#3c96f5"/>
<path d="M150.1,236.6C150,238 151.6,242.3 153.2,245.1C154.8,248 157.5,251.1 159.6,253.7C161.7,256.4 163.9,258.9 166,260.9C168.1,262.9 170.2,264.2 172,265.9C173.8,267.6 175.6,268.9 176.8,270.9C177.9,273 178.4,275.2 178.8,278.1C179.3,281 179.6,284.5 179.4,288.1C179.3,291.8 178.8,297.3 177.9,300C177,302.7 174.8,302.1 174,304.5C173.1,306.9 172.9,311 172.8,314.2C172.7,317.5 173.2,320.7 173.4,324C173.6,327.2 173.8,330.5 173.9,333.7C174.1,336.9 173,341.8 174.2,343.4C175.5,345.1 180.2,345.1 181.5,343.4C182.8,341.8 181.8,336.9 182.2,333.7C182.5,330.5 183.1,327.2 183.5,324C184,320.7 184.4,317.5 184.9,314.2C185.4,311 185.9,306.9 186.6,304.5C187.4,302.1 188.7,302.7 189.5,300C190.2,297.3 190.9,291.8 191.1,288.1C191.4,284.5 191.3,281 191,278.1C190.7,275.2 190.1,273 189.2,270.9C188.3,268.9 186.8,267.6 185.4,265.9C183.9,264.2 182.9,262.9 180.6,260.9C178.4,258.9 175.3,256.4 172,253.7C168.8,251.1 164.3,248 161.2,245.1C158.1,242.3 155.2,238 153.3,236.6C151.5,235.1 150.1,235.1 150.1,236.6Z" fill="#1e6eeb"/>
<path d="M165.7,253.7C166,254.9 168.6,258.9 170.2,260.9C171.8,262.9 173.7,264.2 175.3,265.9C176.9,267.6 178.7,268.9 179.8,270.9C180.9,273 181.4,275.2 181.8,278.1C182.2,281 182.4,284.5 182.3,288.1C182.1,291.8 181.6,297.3 180.7,300C179.9,302.7 177.9,302.1 177,304.5C176.2,306.9 175.9,311 175.7,314.2C175.5,317.5 174.7,322.3 175.8,324C177,325.6 181.4,325.6 182.7,324C184,322.3 183.4,317.5 183.9,314.2C184.4,311 184.8,306.9 185.6,304.5C186.4,302.1 187.8,302.7 188.5,300C189.3,297.3 189.9,291.8 190.2,288.1C190.4,284.5 190.4,281 190,278.1C189.7,275.2 189.2,273 188.2,270.9C187.2,268.9 185.8,267.6 184.3,265.9C182.7,264.2 181.5,262.9 178.8,260.9C176.1,258.9 170.1,254.9 167.9,253.7C165.8,252.5 165.3,252.5 165.7,253.7Z" fill="#1464d2"/>
<path d="M183.4,270.9C183.2,272.1 184.8,275.2 185.1,278.1C185.5,281 185.7,284.5 185.5,288.1C185.3,291.8 184.7,297.3 183.9,300C183.1,302.7 180.4,303.7 180.5,304.5C180.5,305.2 183.1,305.2 184.2,304.5C185.3,303.7 186.5,302.7 187.2,300C188,297.3 188.6,291.8 188.9,288.1C189.1,284.5 189,281 188.7,278.1C188.3,275.2 187.4,272.1 186.6,270.9C185.7,269.7 183.7,269.7 183.4,270.9Z" fill="#1c50cc"/>
<path d="M180.4,304.5C180.2,303 180.6,298.9 181.2,296.7C181.7,294.5 183,291.6 183.7,291.2C184.4,290.9 185.5,293 185.6,294.7C185.8,296.5 185.2,299.8 184.7,301.6C184.1,303.3 183.1,305 182.3,305.5C181.6,305.9 180.6,305.9 180.4,304.5Z" fill="#483cc8" stroke="#0c8a1e" stroke-width="1.1"/>
<path d="M148.4,164.3L150.5,167.0L152.6,163.1L154.8,160.7L155.1,156.7L157.6,154.8L159.7,154.0L162.9,154.0L166.9,151.6L170.1,149.6L170.4,152.0L167.9,155.2L169.3,155.9L171.1,154.4L174.0,153.2L175.4,150.4L176.1,153.2L180.4,154.4L181.1,156.7L188.2,156.7L192.1,158.7L195.3,157.1L199.6,156.3L203.5,156.3L200.6,157.9L201.3,159.9L206.7,161.1L207.4,163.1L210.2,165.0L211.0,166.2L215.6,169.8L216.6,171.8L220.2,174.9L224.5,175.7L227.7,175.3L231.6,175.7L235.5,177.7L237.6,179.3L239.8,182.1L241.9,183.3L243.0,187.6L245.8,191.6L246.2,194.7L244.4,197.5L242.6,199.9L245.1,199.5L248.3,199.1L251.5,199.9L250.8,203.8L252.9,201.5L255.0,201.1L260.0,203.1L264.6,205.4L265.7,209.0L269.6,208.2L275.0,209.8L279.6,209.8L284.9,212.2L286.7,213.3L291.0,217.3L295.6,218.9L298.1,219.3L299.1,222.5L299.9,226.8L299.5,230.8L298.1,235.1L295.6,238.3L294.2,240.3L291.7,243.0L289.9,246.6L286.7,250.2L284.9,253.3L284.9,258.1L285.3,262.0L284.2,268.0L282.4,271.9L282.1,276.3L280.3,279.1L278.2,283.0L277.8,285.8L274.2,289.4L270.0,289.8L265.0,290.9L262.2,292.9L259.0,293.7L253.6,297.7L251.1,300.8L250.8,304.8L250.8,308.8L250.1,311.9L246.9,314.7L244.7,319.1L241.5,323.4L238.3,326.2L236.6,329.7L233.7,332.5L232.3,334.9L228.4,336.9L223.8,336.9L218.1,335.3L215.9,333.3L215.9,335.7L220.2,339.2L220.6,342.4L222.0,344.8L219.1,349.1L214.9,351.5L210.2,352.7L204.9,353.1L202.8,352.3L202.1,357.1L202.4,359.4L196.7,361.8L192.1,360.2L192.5,363.0L196.0,366.2L197.4,368.1L194.2,368.5L192.5,370.1L191.4,375.3L187.1,377.6L183.6,380.8L183.6,383.2L188.9,385.6L189.6,388.3L183.6,392.7L180.0,397.4L177.5,400.6L180.4,405.8L176.5,406.5L171.5,407.7L171.5,411.7L167.6,410.9L162.9,408.5L158.7,405.8L156.9,400.6L155.8,396.6L155.1,390.7L154.8,384.8L158.7,380.8L160.5,374.9L162.2,368.9L161.2,365.0L161.5,361.0L162.2,357.1L163.3,353.1L161.9,347.2L163.3,345.2L164.7,340.4L167.6,335.3L169.0,329.3L169.3,321.4L169.7,317.1L170.1,311.5L171.5,305.6L172.5,299.7L173.3,292.1L174.0,285.8L174.3,278.7L173.6,271.9L170.1,268.8L165.1,264.8L158.7,260.9L153.7,256.5L152.3,253.3L149.4,246.6L147.3,242.2L144.5,236.3L142.7,231.2L139.5,226.0L135.2,222.5L134.5,217.3L137.3,212.6L139.1,210.6L139.5,207.8L135.9,207.8L136.6,202.7L137.7,200.3L138.8,195.5L143.0,192.8L144.1,188.4L148.0,184.8L149.1,182.9L148.0,176.9L148.4,173.0L146.6,170.2ZM146.6,170.2L144.8,167.0L145.9,165.4L140.9,163.1L137.7,165.8L139.1,169.0L135.9,170.2L133.1,168.2L128.8,166.2L126.0,164.7L126.3,161.9L122.4,160.7L121.0,160.7L118.5,157.5L118.9,154.8L116.0,151.2L112.8,147.6L108.9,146.4L104.3,145.3L98.6,143.7L95.7,141.3L91.1,136.9L87.6,134.6M148.4,164.3L144.5,161.5L140.5,161.1L135.6,163.9L131.3,163.1L128.5,159.1L126.0,155.2L126.0,149.2L127.0,143.3L127.7,139.3L124.9,136.9L121.3,135.8M179.7,406.9L181.1,409.7L183.6,412.5L187.1,414.5L191.7,415.3L187.1,416.4L181.8,417.6L176.5,417.6L171.1,415.7L167.6,413.7L171.1,412.5L173.6,410.5L173.3,407.7L176.5,406.9L179.7,406.9M206.0,403.8L210.2,401.8L214.5,402.2L218.1,403.0L215.6,405.0L211.7,405.4L208.1,405.0L206.0,403.8M288.5,412.5L292.0,413.3L295.6,414.9L296.3,415.7L292.7,414.5L288.5,412.5M364.9,135.4L363.9,139.3L361.4,140.5L363.9,144.1L363.9,149.2L366.7,152.0L370.3,155.2L371.3,157.9L374.9,161.1L376.7,165.0L379.1,169.0L382.7,171.4L386.3,174.2M203.5,158.7L207.0,158.7L206.7,155.9L204.2,156.3L203.5,158.7M97.9,199.9L100.0,199.5L100.4,202.3L98.6,202.7L97.9,199.9M101.8,200.7L102.8,201.5L102.1,201.9L101.8,200.7M105.0,201.5L106.0,201.9L105.0,202.3M170.1,152.0L165.8,159.1L166.1,165.0L167.6,171.0L174.7,171.4L183.6,174.2L182.5,182.9L185.3,190.8L185.7,193.9M185.7,193.9L176.5,193.9L175.0,200.7L176.8,203.5L174.7,215.3M143.0,192.8L148.0,196.7L155.1,199.1L156.2,202.3L162.2,207.8L167.6,208.2L174.7,215.3M138.1,212.2L138.1,216.1L142.7,218.5L144.8,212.6L151.6,208.6L155.1,204.6L156.2,202.3M174.7,215.3L164.7,218.5L161.2,226.4L164.0,234.3L166.9,238.3L172.5,236.3L172.9,242.2L176.5,242.2M176.5,242.2L179.3,248.2L178.2,256.1L176.5,260.1L178.2,264.0L176.5,268.0L173.6,271.1M176.5,242.2L181.8,241.1L191.4,237.5L191.4,244.2L199.6,249.0L206.7,252.1L209.5,258.1L210.2,263.2L216.3,263.2L216.6,268.0L218.8,270.0L217.0,277.1L216.6,278.7M216.6,278.7L213.4,275.1L204.2,276.3L201.0,286.6M201.0,286.6L194.9,289.0L191.7,286.2L187.8,285.0L184.6,289.0M184.6,289.0L181.8,283.0L180.0,277.9L178.9,273.9L176.5,268.0M184.6,289.0L185.3,293.7L180.4,295.7L180.0,305.6L175.4,313.5L172.9,321.4L174.7,329.3L173.3,337.3L170.4,345.2L171.1,353.1L168.3,361.0L168.3,370.9L169.3,378.8L166.5,386.8L163.3,394.7L166.5,400.6L167.9,404.6L180.4,405.8M201.0,286.6L206.7,292.9L214.5,297.7L218.8,299.3L215.2,306.4L223.4,307.2L229.4,300.1M216.6,278.7L217.7,286.2L225.5,287.0L226.6,293.7L230.5,294.1L229.4,300.1M229.4,300.1L232.3,302.4L232.6,306.4L225.2,310.7L218.8,318.3M218.8,318.3L224.5,320.6L229.8,324.2L234.1,328.2L233.7,332.5M218.8,318.3L216.6,327.4L215.9,333.3M185.7,193.9L190.7,195.5L196.0,191.2L195.3,182.5L200.3,183.7L207.8,178.1M207.8,178.1L205.3,174.9L210.2,165.8M207.8,178.1L210.6,180.9L211.0,189.6L214.5,193.6L222.7,191.2M222.7,191.2L217.4,182.9L220.2,174.9M222.7,191.2L229.4,189.6M229.4,189.6L231.6,175.7M229.4,189.6L236.9,190.0L239.8,182.1M179.7,406.9L179.7,416.0M128.8,166.2L129.9,161.1M118.9,154.8L126.0,155.5M112.8,147.6L117.8,143.7L127.7,139.3M108.9,146.4L106.0,141.7L110.0,136.5M95.7,141.3L98.2,135.0M239.8,182.1L236.9,190.0M229.4,189.6L228.4,198.7L238.7,203.5L245.1,199.5M214.5,193.6L214.2,200.7L222.7,207.8L216.3,227.6L204.9,233.5L191.4,237.5M216.3,227.6L220.9,234.3L242.2,237.5L245.1,249.4L242.2,258.1L235.1,269.2L218.8,270.0M242.2,237.5L248.6,232.4L251.8,219.7L260.0,203.1M251.8,219.7L256.5,228.4L260.0,239.1L260.0,250.2L245.1,249.4M260.0,239.1L266.1,240.7L271.0,235.5L277.8,233.1L279.6,227.6L276.7,210.6M260.0,239.1L260.4,226.4L270.7,225.2L274.2,209.8M277.8,233.1L284.9,232.4L288.5,235.9L294.2,240.3M279.6,227.6L286.0,229.2L291.3,227.2L299.1,224.4M286.0,229.2L292.0,222.5L291.0,217.3M291.3,227.2L295.6,230.4L299.5,228.4M288.5,235.9L293.8,234.3L298.4,233.9M260.0,250.2L260.0,258.1L266.4,255.3L274.2,258.1L281.4,261.3L284.2,269.6M260.0,258.1L255.4,262.0L255.4,271.1L242.6,275.9L242.2,278.7M235.1,269.2L242.2,278.7L235.1,287.8L230.5,294.1M242.2,278.7L254.7,277.9L259.0,288.6L265.0,290.9M266.4,287.0L274.2,281.8L277.8,283.0M274.2,281.8L277.8,271.9L282.4,271.1M235.1,287.8L246.9,289.8L252.9,298.9M232.3,302.4L245.8,302.0L250.8,301.6M232.6,306.4L242.2,308.4L246.9,314.7M161.2,226.4L167.6,234.3L174.7,235.1L186.1,237.5L191.4,237.5M176.8,203.5L184.3,208.6L197.8,207.4L203.1,201.9L204.9,195.1L210.6,194.7M364.9,135.4L372.0,133.0L379.1,139.3L382.7,149.6L374.9,148.8L370.3,155.2M363.9,144.9L373.8,145.6L363.9,146.4M374.9,148.8L364.2,149.6M376.7,163.1L384.5,159.1L386.3,165.8L382.7,171.4M384.5,159.1L382.7,149.6" fill="none" stroke="#a4a4a4" stroke-width="0.7" stroke-linejoin="round"/><path d="M204.6,134.6L205.3,137.7L206.7,140.9L206.7,143.7L206.0,146.4L204.2,150.8M324.0,421.2L328.3,424.4L329.7,428.3L328.3,432.3L325.8,434.7" fill="none" stroke="#a8a8a8" stroke-width="1" stroke-dasharray="1.2,2.2"/><path d="M161.1,365.2L160.6,365.7L160.4,364.8L160.6,364.3L161.1,364.3ZM161.3,362.3L162.5,363.2L161.7,364.8ZM161.0,365.7L160.5,365.7L160.4,364.4L161.1,364.8ZM161.2,364.7L162.7,364.5L162.1,366.7ZM161.5,366.2L161.7,368.1L160.7,367.8ZM163.1,367.9L162.0,367.6L162.8,366.4ZM160.0,365.4L160.5,367.3L160.0,368.8L158.9,368.5L158.7,366.3ZM160.8,367.1L159.0,367.6L159.6,364.3ZM161.0,367.0L160.2,369.2L159.6,366.6ZM160.8,369.3L159.9,369.9L159.5,368.0L160.7,367.5ZM160.5,368.3L160.2,369.3L159.6,368.7L159.9,367.6ZM160.8,368.2L161.3,367.7L161.5,368.4L161.1,369.1ZM161.5,369.2L162.0,370.3L161.5,371.2L160.7,371.2L160.9,369.9ZM160.1,369.4L159.0,369.1L159.7,367.2ZM158.8,370.5L158.3,369.8L158.6,368.8L159.3,368.3L159.7,370.0ZM160.4,368.7L161.0,369.4L160.5,370.3L160.1,369.5ZM159.4,373.9L159.0,372.0L159.4,369.7L160.7,370.8L160.9,373.4ZM159.3,373.3L158.2,372.6L158.5,370.5L159.6,370.2L160.1,371.9ZM159.8,372.2L158.7,373.3L158.7,371.6ZM160.2,373.2L159.6,374.9L158.7,374.0L159.2,372.4ZM161.4,373.3L161.3,375.9L159.6,375.4L160.3,373.1ZM161.2,371.1L162.2,373.2L160.6,375.1L160.0,372.3ZM162.6,374.9L161.7,375.4L161.8,373.8ZM159.5,374.2L160.8,373.8L160.6,377.1ZM160.1,375.6L160.1,377.4L159.2,376.5ZM160.8,375.3L159.4,375.7L160.0,373.4ZM158.5,376.9L160.0,376.4L159.9,378.9ZM156.6,376.9L157.1,376.9L157.3,378.0L156.5,378.0ZM160.7,379.1L160.5,377.8L161.2,378.0ZM161.0,376.8L161.7,376.4L162.4,377.6L161.8,379.3L160.8,378.4ZM160.0,378.2L160.2,380.1L159.1,380.8L158.3,379.2L159.0,377.6ZM159.0,377.3L158.7,379.0L158.0,377.3ZM160.8,380.9L161.1,379.0L161.8,380.8ZM158.3,379.9L158.3,378.4L159.1,379.5ZM159.5,379.3L160.1,377.6L160.9,379.5L159.9,381.2ZM157.4,376.5L158.6,378.7L157.3,380.5L156.1,378.5ZM159.3,381.0L158.4,381.8L158.3,379.8L159.1,379.7ZM159.8,382.3L159.0,382.4L159.3,381.3ZM160.9,379.5L161.6,380.0L161.4,381.0L160.9,381.2L160.4,380.5ZM158.8,381.8L158.2,381.3L158.0,380.3L158.6,380.0L159.4,380.6ZM155.7,380.2L157.5,381.8L155.8,383.7ZM160.8,382.9L160.9,380.9L161.7,382.0ZM156.7,380.6L157.6,381.2L157.1,381.9ZM157.3,384.8L156.2,383.9L156.7,382.0L157.8,381.6L158.1,383.6ZM161.1,384.5L160.5,384.0L160.9,383.1L161.4,383.6ZM156.5,385.4L155.7,384.8L156.3,384.1ZM154.3,383.9L156.3,385.5L154.5,387.1ZM161.6,385.1L160.3,385.0L160.0,383.0L160.9,381.9L161.9,382.8ZM160.8,384.4L161.0,387.3L159.5,385.8ZM156.2,383.9L155.9,384.9L155.4,384.3L155.7,383.6ZM155.8,383.9L156.5,385.8L155.1,385.9ZM159.3,386.3L158.9,385.5L159.2,384.6L159.7,385.3ZM154.1,387.4L155.0,387.9L154.5,388.9ZM158.5,386.7L159.8,384.8L159.7,387.3ZM157.1,388.3L157.4,386.9L158.0,388.0L157.7,389.5ZM155.0,388.1L154.2,390.5L152.8,388.3L154.1,387.0ZM159.7,386.6L160.2,387.8L159.6,389.0L159.0,388.1L158.8,386.7ZM153.4,388.4L153.7,386.5L154.7,386.8L154.4,388.3ZM156.1,387.4L156.9,389.2L155.9,389.6ZM161.4,388.7L161.9,390.1L161.3,390.9L160.6,390.1ZM155.2,392.9L154.1,392.4L154.6,390.3L155.8,391.2ZM161.7,393.1L160.6,393.4L159.9,392.4L160.5,391.2L161.5,391.0ZM160.5,392.0L160.3,390.8L161.2,390.4L161.1,391.8ZM155.8,391.3L156.7,391.7L155.8,393.3ZM157.7,392.6L156.8,392.4L156.7,390.5L157.8,390.9ZM156.4,391.4L156.9,393.6L155.7,394.1L154.9,392.9L155.2,390.7ZM157.5,391.1L158.6,391.4L159.0,392.8L158.4,393.8L157.6,393.2ZM162.0,395.6L160.1,394.9L161.7,392.2ZM158.6,390.7L158.6,393.2L157.7,394.1L157.0,393.1L157.1,391.1ZM162.3,395.9L161.1,395.8L160.8,394.4L161.9,393.6ZM159.0,394.5L159.9,394.9L160.2,396.1L159.7,397.3L158.8,396.4ZM156.0,395.3L155.7,395.9L155.2,395.3L155.7,394.8ZM158.2,394.8L157.7,394.0L158.2,392.8L158.9,393.4L158.8,394.7ZM161.4,394.5L161.9,395.0L161.5,395.6L161.2,395.3ZM154.6,397.2L154.0,396.0L154.9,396.0ZM158.4,395.6L158.4,396.9L157.5,396.7L157.9,395.4ZM158.0,398.0L158.8,394.7L159.9,397.4ZM161.8,396.7L162.3,396.9L162.1,397.9L161.5,398.0L161.4,397.0ZM153.4,396.7L154.6,396.6L154.2,398.5ZM160.0,398.6L160.6,395.9L161.6,397.5ZM155.1,399.0L154.3,399.8L153.2,398.1L154.7,397.3ZM162.6,399.1L161.9,400.0L161.2,399.3L161.6,398.1L162.3,397.8ZM161.7,401.5L160.9,401.2L161.3,400.0ZM162.6,401.9L161.9,401.4L162.1,400.0L162.9,400.6ZM157.9,400.2L157.3,401.1L156.9,399.9L157.3,399.1L157.8,399.3ZM157.5,403.4L156.9,401.4L158.5,401.4ZM159.2,399.7L159.4,401.0L158.5,401.7L157.9,400.4L158.4,399.0ZM157.5,401.4L156.9,400.9L157.2,399.9L158.1,400.2ZM156.7,401.1L157.8,400.1L158.9,400.6L158.4,402.4L157.6,402.6ZM157.3,402.9L156.5,402.3L157.1,400.7L157.7,402.0ZM160.3,401.1L160.3,402.6L159.3,402.7L159.1,401.1L159.8,400.1ZM158.0,401.1L157.9,403.2L156.8,403.3L156.4,401.9L156.9,400.5ZM156.2,403.8L155.2,404.2L155.0,402.2L156.0,402.4ZM161.5,403.6L161.5,402.2L162.5,402.6L162.1,404.1ZM162.6,403.6L163.2,404.6L162.8,406.7L161.8,404.9ZM159.9,406.3L159.0,405.9L159.8,404.1ZM161.7,407.1L160.3,406.2L161.7,404.0ZM160.2,408.1L160.1,404.8L162.0,405.3ZM161.6,405.0L162.1,405.1L162.5,405.8L162.1,406.3L161.6,406.0ZM164.8,404.5L164.6,405.6L164.1,405.0L164.2,403.6ZM159.8,407.7L158.7,408.4L157.6,407.9L157.9,405.7L159.2,405.5ZM160.4,407.3L160.4,406.0L160.9,405.6L161.8,406.0L161.2,407.4ZM162.5,408.1L162.5,406.2L163.8,406.5L163.8,409.2ZM163.4,406.3L163.3,405.4L163.5,404.5L164.2,404.9L164.0,406.0ZM158.1,404.8L159.0,406.1L158.0,407.3L156.9,406.9L157.0,404.6ZM165.0,408.2L165.5,408.1L165.6,409.1L164.9,409.3ZM160.3,410.4L159.8,409.3L160.1,408.3L160.8,408.3L160.9,409.4ZM165.3,409.9L164.5,410.0L164.5,408.8L165.3,408.4ZM163.7,408.9L164.3,408.6L164.4,409.6L164.1,410.5L163.6,409.8ZM166.4,408.2L166.3,409.1L165.7,409.0L165.4,407.9L166.0,407.2ZM168.3,411.2L166.8,409.9L168.1,408.2ZM161.2,409.0L159.8,409.3L160.2,406.9ZM163.0,408.2L163.6,408.4L163.8,409.6L163.0,409.3ZM159.7,410.8L160.0,409.0L161.3,408.8L161.0,411.5ZM165.3,409.7L165.9,408.5L166.7,408.8L166.8,410.3L165.9,411.0ZM169.6,408.4L169.4,409.6L168.5,410.1L168.2,408.4L169.0,407.1ZM163.1,409.6L162.1,410.6L162.0,408.8ZM164.7,411.8L164.9,411.2L165.3,411.1L165.3,411.8L165.1,412.3ZM167.3,410.3L168.8,410.5L168.8,413.3L167.1,413.1ZM170.8,412.0L170.5,412.6L170.0,412.4L170.0,411.3L170.6,411.1ZM170.9,409.8L170.8,411.3L170.0,411.4L169.7,410.3L170.2,409.5ZM162.4,411.6L162.9,412.7L162.1,413.5L161.9,412.3ZM163.3,411.1L163.8,411.8L163.1,412.4ZM163.8,412.4L162.3,410.7L163.0,408.2L164.6,409.4ZM170.3,411.9L169.3,411.9L170.1,410.3ZM171.8,413.4L170.7,412.7L171.5,411.6ZM166.0,410.0L167.1,412.2L165.1,413.4ZM172.5,412.9L172.1,413.2L171.7,412.6L172.2,412.3ZM171.4,414.4L170.6,414.1L170.7,412.1L172.1,412.6ZM170.2,412.3L168.8,414.8L168.6,411.3ZM165.9,413.9L167.3,412.0L167.1,415.0ZM172.9,415.1L171.3,415.6L171.1,413.0L172.4,412.8ZM168.7,412.7L169.0,411.2L169.8,412.1L169.8,413.4L169.1,413.9ZM172.2,413.7L173.1,412.8L173.7,414.1L172.9,414.9ZM172.0,413.2L172.5,412.1L173.1,412.7L172.8,413.7ZM174.3,411.9L174.8,413.1L174.0,413.2ZM170.5,415.1L169.4,417.1L168.7,413.5ZM174.4,413.6L174.5,414.8L173.8,414.8L173.7,413.9L173.8,412.9ZM170.3,416.6L169.4,415.9L170.2,414.6ZM172.7,413.2L173.0,415.8L171.4,416.5L171.3,413.7ZM170.5,414.5L170.4,413.5L170.9,413.0L171.2,414.1ZM175.2,414.3L174.2,415.3L173.5,413.9L174.4,412.6ZM173.3,414.0L171.7,414.6L171.9,411.5ZM174.3,415.4L173.7,414.6L173.3,413.0L174.3,412.8L174.8,414.1ZM173.9,416.2L174.6,416.5L174.1,417.5L173.7,417.3L173.5,416.5ZM170.4,414.0L171.1,414.6L171.3,415.7L170.6,416.3L169.8,415.4ZM179.3,418.1L177.9,417.4L179.0,415.7ZM175.0,412.8L176.8,413.7L176.2,416.4L174.4,416.2ZM176.7,417.9L176.3,416.1L177.4,416.2ZM171.9,415.8L172.8,416.5L171.9,417.6ZM179.7,415.4L178.7,416.3L178.3,414.5L179.2,414.2ZM177.5,414.3L178.0,414.7L177.6,415.2ZM178.9,415.2L179.4,416.1L178.7,416.7L178.3,415.5ZM179.3,417.4L180.4,416.2L180.8,419.2ZM174.5,415.6L175.4,414.3L175.8,416.7ZM177.5,415.8L176.7,417.1L175.7,416.5L175.7,414.7L176.8,414.0ZM177.5,418.8L177.6,418.0L177.9,417.7L178.3,417.9L178.2,419.1ZM177.3,417.3L175.6,418.3L176.0,415.5ZM178.3,418.2L177.9,416.3L178.9,416.7ZM178.9,416.4L178.8,417.7L178.1,417.9L178.2,416.6ZM181.2,414.9L182.0,417.7L179.7,416.9ZM177.6,416.1L177.7,417.4L177.1,416.7ZM180.5,416.1L181.1,416.4L181.0,417.4L180.5,417.9L180.2,417.0ZM178.9,416.1L178.5,417.1L178.0,416.0ZM181.8,416.9L181.2,417.8L180.8,416.5L181.6,415.4ZM180.2,417.5L181.8,417.0L181.9,419.0L181.0,419.9ZM183.4,418.7L184.1,417.8L184.8,419.5L183.6,420.4ZM179.4,419.5L178.2,417.5L180.0,417.0ZM182.1,416.2L183.2,418.7L181.7,420.6L181.1,418.2ZM184.1,416.9L183.8,418.7L182.8,418.3L182.7,415.5ZM183.7,418.6L182.9,418.2L182.9,417.1L183.4,416.5L183.9,417.2ZM184.5,416.4L184.1,418.8L182.8,417.2L183.4,414.7ZM183.0,419.2L182.0,419.8L181.5,418.1L182.5,417.7ZM184.6,417.9L186.0,417.9L186.3,419.6L185.2,420.1ZM182.8,419.3L181.9,417.7L182.9,415.9L184.0,418.0ZM186.2,420.9L184.6,420.7L184.3,418.4L185.3,416.7L186.3,418.3Z" fill="none" stroke="#a9a9a9" stroke-width="0.65" stroke-linejoin="round"/>
<circle cx="385.3" cy="140.6" r="4.2" fill="#e11400" stroke="#0c8a1e" stroke-width="1.2"/>
<rect x="141" y="191" width="13.2" height="9.8" fill="#fff"/><text class="cl" x="147.6" y="199.9" text-anchor="middle">15</text>
<rect x="157.1" y="330" width="13.2" height="9.8" fill="#fff"/><text class="cl" x="163.7" y="338.9" text-anchor="middle">15</text>
<rect x="66.5" y="348.2" width="13.2" height="9.8" fill="#fff"/><text class="cl" x="73.1" y="357.1" text-anchor="middle">15</text>
<rect x="286.9" y="359" width="13.2" height="9.8" fill="#fff"/><text class="cl" x="293.5" y="367.9" text-anchor="middle">15</text>
</g>
<rect x="63.1" y="139.2" width="320.8" height="297.4" fill="none" stroke="#000" stroke-width="2.1"/>
<text class="tk" text-anchor="end" transform="translate(58.2,142.7) scale(0.91,1)">15N</text>
<text class="tk" text-anchor="end" transform="translate(58.2,162.5) scale(0.91,1)">10N</text>
<text class="tk" text-anchor="end" transform="translate(58.2,182.3) scale(0.91,1)">5N</text>
<text class="tk" text-anchor="end" transform="translate(58.2,202.1) scale(0.91,1)">EQ</text>
<text class="tk" text-anchor="end" transform="translate(58.2,221.9) scale(0.91,1)">5S</text>
<text class="tk" text-anchor="end" transform="translate(58.2,241.8) scale(0.91,1)">10S</text>
<text class="tk" text-anchor="end" transform="translate(58.2,261.6) scale(0.91,1)">15S</text>
<text class="tk" text-anchor="end" transform="translate(58.2,281.4) scale(0.91,1)">20S</text>
<text class="tk" text-anchor="end" transform="translate(58.2,301.2) scale(0.91,1)">25S</text>
<text class="tk" text-anchor="end" transform="translate(58.2,321.1) scale(0.91,1)">30S</text>
<text class="tk" text-anchor="end" transform="translate(58.2,340.9) scale(0.91,1)">35S</text>
<text class="tk" text-anchor="end" transform="translate(58.2,360.7) scale(0.91,1)">40S</text>
<text class="tk" text-anchor="end" transform="translate(58.2,380.5) scale(0.91,1)">45S</text>
<text class="tk" text-anchor="end" transform="translate(58.2,400.4) scale(0.91,1)">50S</text>
<text class="tk" text-anchor="end" transform="translate(58.2,420.2) scale(0.91,1)">55S</text>
<text class="tk" text-anchor="end" transform="translate(58.2,440) scale(0.91,1)">60S</text>
<text class="tk" text-anchor="middle" transform="translate(67.9,447.4) scale(0.91,1)">100W</text>
<text class="tk" text-anchor="middle" transform="translate(103.5,447.4) scale(0.91,1)">90W</text>
<text class="tk" text-anchor="middle" transform="translate(139,447.4) scale(0.91,1)">80W</text>
<text class="tk" text-anchor="middle" transform="translate(174.6,447.4) scale(0.91,1)">70W</text>
<text class="tk" text-anchor="middle" transform="translate(210.1,447.4) scale(0.91,1)">60W</text>
<text class="tk" text-anchor="middle" transform="translate(245.7,447.4) scale(0.91,1)">50W</text>
<text class="tk" text-anchor="middle" transform="translate(281.3,447.4) scale(0.91,1)">40W</text>
<text class="tk" text-anchor="middle" transform="translate(316.8,447.4) scale(0.91,1)">30W</text>
<text class="tk" text-anchor="middle" transform="translate(352.4,447.4) scale(0.91,1)">20W</text>
<path d="M62.2,139.2h-3.0M62.2,159h-3.0M62.2,178.8h-3.0M62.2,198.6h-3.0M62.2,218.4h-3.0M62.2,238.3h-3.0M62.2,258.1h-3.0M62.2,277.9h-3.0M62.2,297.7h-3.0M62.2,317.6h-3.0M62.2,337.4h-3.0M62.2,357.2h-3.0M62.2,377h-3.0M62.2,396.9h-3.0M62.2,416.7h-3.0M62.2,436.5h-3.0M67.9,437.4v3.0M103.5,437.4v3.0M139,437.4v3.0M174.6,437.4v3.0M210.1,437.4v3.0M245.7,437.4v3.0M281.3,437.4v3.0M316.8,437.4v3.0M352.4,437.4v3.0" stroke="#000" stroke-width="1.4" fill="none"/>
<clipPath id="cp2"><rect x="522.1" y="139.2" width="320.9" height="297.4"/></clipPath>
<g clip-path="url(#cp2)">
<rect x="519" y="135" width="330" height="310" fill="#ffa000"/>
<path d="M507.3,123.3C514.1,118.1 536.5,120.6 542.4,123.3C548.2,126 540.6,136.1 542.4,139.3C544.2,142.5 549.5,141 553.1,142.4C556.7,143.8 561,145.7 564.2,147.5C567.3,149.2 569.7,150.9 572,152.9C574.3,154.9 575.7,157.6 578,159.5C580.3,161.5 583.3,163.2 585.8,164.6C588.4,166 590.9,167.2 593.4,167.7C596,168.2 599.3,166.9 601.2,167.7C603.2,168.6 604.3,170.6 605.1,173C605.9,175.3 606.3,179 606.1,181.8C605.9,184.5 604.9,187.6 603.7,189.5C602.5,191.5 601,192.8 598.9,193.4C596.8,194.1 594,193.4 591.1,193.4C588.2,193.4 585.2,193.8 581.3,193.4C577.4,193.1 571.9,192.1 567.7,191.5C563.5,190.8 559.9,190 556,189.5C552.1,189.1 548.5,189.1 544.3,188.6C540.1,188.1 534.3,187 530.7,186.6C527.1,186.2 526.8,186.2 522.9,186C519,185.9 510.9,190.9 507.3,185.6C503.7,180.4 501.5,164.9 501.5,154.5C501.5,144.1 500.5,128.5 507.3,123.3Z" fill="#ff6000"/>
<path d="M586.2,123.3C541.6,126.6 586.3,138.4 586.6,142.8C586.9,147.2 587.2,147.7 588.2,149.6C589.1,151.5 590.6,152.8 592.1,154.1C593.5,155.4 593.1,156.6 596.9,157.2C600.8,157.8 609.7,158.2 615.1,157.5C620.5,156.7 624.8,153.3 629.1,152.7C633.5,152 637.2,152.9 641.2,153.5C645.2,154.1 649.5,155.1 653.2,156.3C656.9,157.4 659.9,158.5 663.3,160.3C666.6,162.1 670.3,164.6 673.3,167.1C676.3,169.6 678.6,172.8 681.3,175.1C684,177.5 687.2,178.8 689.4,181.2C691.5,183.5 693.7,186.6 694.4,189.2C695,191.8 694.5,195.1 693.4,196.8C692.2,198.5 689.7,199.1 687.3,199.2C685,199.4 681.7,197.8 679.3,197.6C677,197.5 675.6,198.2 673.3,198.4C671,198.7 667.8,198.9 665.3,199.2C662.8,199.6 659.4,197.8 658.2,200.4C657.1,203.1 658,210.8 658.2,215.3C658.5,219.8 660.2,224.3 659.6,227.3C659.1,230.3 656.4,231.5 655.2,233.3C654.1,235.2 652.3,236.7 652.8,238.4C653.3,240 655.8,241.9 658.2,243.4C660.7,244.8 665.1,245 667.3,247C669.5,249 671.1,252.7 671.3,255.4C671.5,258.2 669.3,260.8 668.3,263.5C667.3,266.1 665.7,268.5 665.3,271.5C664.8,274.4 664.9,278.5 665.5,281.2C666.1,284 666.9,286.1 668.8,287.9C670.7,289.6 674.3,291.4 677.1,292C679.8,292.5 682.6,292.1 685.3,291.2C688.1,290.2 691.4,287.5 693.6,286.2C695.8,284.9 696.3,283.5 698.5,283.2C700.7,282.9 704.3,284.3 706.8,284.5C709.3,284.8 711.5,283.7 713.4,284.5C715.3,285.4 717.8,287.6 718.4,289.5C718.9,291.4 717,293.9 716.7,296.1C716.5,298.3 715.1,301.2 716.7,302.7C718.4,304.2 722.8,304.7 726.6,305.2C730.5,305.8 736,306.2 739.9,306C743.7,305.9 746.5,304.9 749.8,304.4C753.1,303.8 756.4,303.6 759.7,302.7C763,301.9 766.6,300.8 769.6,299.4C772.7,298 776,296.7 777.9,294.5C779.8,292.3 780.5,289.2 781.2,286.2C781.9,283.2 781.5,278.4 782,276.3C782.5,274.1 783,275.1 784.2,273.3C785.4,271.5 787.8,268.4 789.1,265.5C790.4,262.6 790.2,258.4 792,255.8C793.8,253.2 796.5,251.9 799.8,249.9C803,248 807.6,246.4 811.5,244.1C815.4,241.8 819.6,238.4 823.2,236.3C826.7,234.2 829.7,232.7 832.9,231.4C836,230.1 838.5,229.6 842.1,228.5C845.6,227.4 850.3,233.7 854.3,224.6C858.3,215.5 866,190.8 866,174C866,157.1 901,131.8 854.3,123.3C807.7,114.9 630.8,120.1 586.2,123.3Z" fill="#ff6000"/>
<path d="M644.2,252.4C644.9,251 647.4,249.2 649.2,249C651.1,248.8 654.2,250 655.2,251.4C656.3,252.8 656.5,256 655.6,257.4C654.8,258.8 652,259.8 650.2,259.8C648.5,259.8 646.2,258.7 645.2,257.4C644.2,256.2 643.5,253.8 644.2,252.4Z" fill="#ff6000"/>
<path d="M644,251.5C645,250.2 647.2,248.7 649,248.5C650.7,248.4 653.6,249.2 654.7,250.7C655.9,252.1 656.3,255.5 655.9,257.3C655.5,259.1 653.8,260.9 652.3,261.4C650.7,262 648,261.4 646.5,260.6C645,259.8 643.6,258 643.2,256.4C642.8,254.9 643,252.8 644,251.5Z" fill="#ff6000"/>
<path d="M679.5,302.7C679.7,301.8 681.7,300.2 682.8,300.2C683.9,300.2 685.7,301.8 686.1,302.7C686.6,303.6 686.1,305.2 685.3,305.7C684.6,306.3 682.7,306.5 681.7,306C680.7,305.5 679.3,303.7 679.5,302.7Z" fill="#ff6000"/>
<path d="M736.7,217.4C737.8,217.1 739.7,217.2 741.1,218.1C742.4,218.9 743.5,221.2 744.8,222.4C746,223.7 747.1,224.6 748.5,225.5C750,226.5 752.6,226.8 753.5,228C754.4,229.3 755,231.7 754.1,233C753.3,234.4 750.1,235 748.5,236.1C747,237.3 746,238.4 744.8,239.9C743.5,241.3 742.1,243 741.1,244.8C740,246.7 739.1,249 738.6,251.1C738,253.1 738.2,255.4 737.9,257.3C737.7,259.2 737.8,260.4 737.3,262.3C736.8,264.1 735.9,266.4 734.8,268.5C733.8,270.6 732.5,272.6 731.1,274.7C729.6,276.8 727.8,278.9 726.1,280.9C724.5,283 722.6,285.7 721.1,287.2C719.7,288.6 718.4,288.4 717.4,289.7C716.4,290.9 715.7,292.9 714.9,294.6C714.1,296.4 713.5,297.9 712.4,300C711.4,302.1 712.4,305.9 708.7,307.1C704.9,308.3 694.2,308.3 690,307.1C685.8,305.9 684.2,302.9 683.8,299.6C683.4,296.3 686.5,289.5 687.5,287.2C688.5,284.9 688.5,286.8 690,285.9C691.5,285.1 694.2,283 696.2,282.2C698.3,281.4 700.4,281.1 702.5,280.9C704.5,280.8 706.6,281.8 708.7,281.6C710.8,281.4 713.6,280.8 714.9,279.7C716.3,278.6 715.7,276.2 716.8,274.7C717.8,273.3 719.8,272.4 721.1,271C722.5,269.5 723.9,267.9 724.9,266C725.8,264.1 726.1,261.6 726.7,259.8C727.4,257.9 728.4,256.7 728.6,254.8C728.8,252.9 728,250.6 728,248.6C728,246.5 727.9,244 728.6,242.3C729.3,240.7 731,239.9 732.3,238.6C733.7,237.4 735.9,236.3 736.7,234.9C737.5,233.4 737.6,231.5 737.3,229.9C737,228.2 735.4,226.6 734.8,224.9C734.3,223.2 733.9,221.2 734.2,219.9C734.5,218.7 735.6,217.7 736.7,217.4Z" fill="#ffa000"/>
<path d="M679.7,232.3C680.2,230.8 682.7,228.3 684.3,228.3C685.9,228.3 688.8,230.9 689.4,232.3C689.9,233.8 689,236.1 687.7,237C686.5,237.8 683.1,238.1 681.7,237.4C680.4,236.6 679.3,233.8 679.7,232.3Z" fill="#ffa000"/>
<path d="M679,178.8C680.6,176.9 684.5,177.1 686.8,178.2C689.1,179.4 691.4,183.1 692.6,185.6C693.9,188.2 694.5,191.2 694.2,193.4C693.9,195.7 692.2,198.6 690.7,199.3C689.1,199.9 686.5,198.6 684.8,197.3C683.2,196 682.2,192.8 680.9,191.5C679.6,190.2 677.4,191.7 677.1,189.5C676.7,187.4 677.4,180.7 679,178.8Z" fill="#ffa000"/>
<path d="M589.4,129.3C577.2,132.5 588.5,144.1 589.4,148.2C590.4,152.3 592.6,152.6 595.1,153.9C597.6,155.1 601.4,156.1 604.6,155.8C607.7,155.5 611.2,153.3 614,152C616.8,150.7 618.4,148.4 621.6,147.8C624.7,147.3 629.1,147.9 632.9,148.6C636.7,149.3 640.4,151.1 644.2,152C648,152.9 652.4,152.8 655.6,153.9C658.7,155 660.6,156.7 663.1,158.6C665.6,160.5 668.2,162.9 670.7,165.2C673.2,167.6 675.7,170.4 678.2,172.8C680.7,175.1 683.3,177.2 685.8,179.4C688.3,181.6 690.5,183.6 693.3,186C696.2,188.4 699.6,191.7 702.8,193.6C705.9,195.4 709.1,195.7 712.2,197.3C715.4,198.9 718.3,202.4 721.9,203.2C725.4,204 730,202 733.5,202.2C737.1,202.4 740.4,203 743.3,204.2C746.2,205.3 748.8,207.2 751.1,209C753.4,210.8 755,211.9 756.9,214.9C758.9,217.8 761.1,223.6 762.8,226.6C764.4,229.5 765.4,232.7 766.7,232.4C768,232.1 768.9,226.9 770.6,224.6C772.2,222.3 775.9,220.7 776.4,218.8C776.9,216.8 774.6,215.5 773.5,212.9C772.3,210.3 769.7,205.8 769.6,203.2C769.4,200.6 770.7,199.6 772.5,197.3C774.3,195.1 778,192.5 780.3,189.5C782.6,186.6 784.4,183.2 786.1,179.8C787.9,176.4 790.4,172.3 791,169.1C791.7,165.8 791.5,162.8 790,160.3C788.6,157.9 785.2,155.5 782.2,154.5C779.3,153.5 774.9,153.7 772.5,154.5C770.1,155.3 767.6,157.4 767.6,159.4C767.6,161.3 772.3,163.7 772.5,166.2C772.7,168.6 770.6,171.5 768.6,174C766.7,176.4 764.1,179.2 760.8,180.8C757.6,182.4 752.7,182.7 749.1,183.7C745.6,184.7 741.8,186.9 739.4,186.6C737,186.3 734.8,183.9 734.5,181.8C734.2,179.6 737.3,176.4 737.4,174C737.6,171.5 738.1,168.1 735.5,167.1C732.9,166.2 725.4,168.9 721.9,168.1C718.3,167.3 716.3,164.9 714.1,162.3C711.8,159.7 711.5,154.8 708.2,152.5C705,150.3 699.5,149.9 694.6,148.6C689.7,147.3 683.3,145.5 679,144.7C674.7,144 671.4,144.9 668.8,144.1C666.1,143.2 664.1,142.2 663.1,139.7C662.2,137.3 675.4,131.1 663.1,129.3C650.8,127.6 601.7,126.2 589.4,129.3Z" fill="#ff3200"/>
<path d="M798.8,160.3C799.6,158.2 802.9,155.8 805.6,154.5C808.4,153.2 811.8,152.5 815.4,152.5C818.9,152.5 823.5,153.2 827.1,154.5C830.6,155.8 834.8,157.7 836.8,160.3C838.7,162.9 839.1,167 838.7,170.1C838.4,173.1 837.1,176.9 834.8,178.8C832.6,180.8 828.4,181.4 825.1,181.8C821.9,182.1 818.6,182.1 815.4,180.8C812.1,179.5 808.1,176.2 805.6,174C803.2,171.7 801.9,169.4 800.8,167.1C799.6,164.9 798,162.4 798.8,160.3Z" fill="#ff3200"/>
<path d="M824.1,135C829,133.1 849.3,132.7 854.3,135C859.4,137.3 857.6,145.6 854.3,148.6C851.1,151.7 839.1,153 834.8,153.5C830.6,154 830.6,152.7 829,151.6C827.4,150.4 825.9,149.4 825.1,146.7C824.3,143.9 819.3,136.9 824.1,135Z" fill="#ff3200"/>
<path d="M704.4,235.4C707.1,234.5 709.6,235 711.4,236.4C713.3,237.7 715.1,240.9 715.4,243.4C715.8,245.9 714.4,248.7 713.4,251.4C712.4,254.1 710.8,256.1 709.4,259.4C708.1,262.8 706.7,268.8 705.4,271.5C704.1,274.2 702.6,276.5 701.4,275.5C700.2,274.5 699.1,268.8 698.4,265.5C697.7,262.1 698.2,258.4 697.4,255.4C696.5,252.4 693.7,249.7 693.4,247.4C693,245.1 693.5,243.4 695.4,241.4C697.2,239.4 701.7,236.2 704.4,235.4Z" fill="#ff3200"/>
<path d="M678.3,271.5C679.3,269 681.8,268.1 683.3,268.5C684.8,268.8 686.8,271.3 687.3,273.5C687.8,275.7 687.2,279.3 686.3,281.5C685.5,283.7 683.8,286.2 682.3,286.5C680.8,286.9 678,286 677.3,283.5C676.6,281 677.3,274 678.3,271.5Z" fill="#ff3200"/>
<path d="M691.9,241.6C692.5,239.1 695.4,238 696.9,238.3C698.4,238.5 700.5,241 701,243.2C701.6,245.4 700.9,249 700.2,251.5C699.5,254 698,257.8 696.9,258.1C695.8,258.4 694.4,255.9 693.6,253.1C692.8,250.4 691.4,244 691.9,241.6Z" fill="#ff3200"/>
<path d="M550.2,129.2C545.1,131.1 553.3,138.2 555,140.8C556.8,143.4 558.8,143.5 560.9,144.7C563,146 565.4,147 567.7,148.2C570,149.5 572.5,151.1 574.5,152.1C576.5,153.2 578.2,154.4 579.8,154.5C581.4,154.6 583.3,154.2 584.3,152.9C585.2,151.6 585.5,150.6 585.6,146.7C585.8,142.7 591.1,132.1 585.2,129.2C579.3,126.2 555.2,127.2 550.2,129.2Z" fill="#ffc03c"/>
<path d="M564.2,129.2C562.2,131.4 565.5,139.9 566.7,142.4C568,144.9 570,144.2 571.6,144.4C573.2,144.5 575.3,145.7 576.5,143.2C577.6,140.6 580.5,131.5 578.4,129.2C576.4,126.8 566.1,126.9 564.2,129.2Z" fill="#ffe878"/>
<path d="M645.2,172.8C646.4,171.2 652.3,171 655.6,170.9C658.9,170.7 662.6,170.7 665,171.8C667.4,172.9 669.7,175.6 669.7,177.5C669.7,179.4 667.4,181.9 665,183.2C662.6,184.4 657.6,184.4 655.6,185.1C653.5,185.7 654,187.7 652.7,186.9C651.5,186.2 649.3,182.7 648,180.3C646.7,178 643.9,174.4 645.2,172.8Z" fill="#ffc03c"/>
<path d="M515.1,197.3C518.7,195.6 531.8,196.8 536.5,197.7C541.2,198.7 542.1,201.3 543.4,203.2C544.6,205.1 545.1,207.7 544.3,209C543.5,210.4 541.1,211.4 538.5,211.4C535.9,211.4 532.6,209.6 528.7,209C524.8,208.5 517.4,210 515.1,208.1C512.8,206.1 511.5,199.1 515.1,197.3Z" fill="#ffc03c"/>
<path d="M501.5,263.6C511.9,258.7 518,262.9 522.9,261.6C527.8,260.3 528.4,258.4 530.7,255.8C533,253.2 534.3,249.3 536.5,246C538.8,242.8 541.4,238.9 544.3,236.3C547.2,233.7 550.5,231.8 554.1,230.5C557.6,229.2 561.9,228.7 565.8,228.5C569.6,228.3 574.5,229.8 577.4,229.5C580.4,229.2 583.3,228.3 583.3,226.6C583.3,224.8 579.1,221 577.4,218.8C575.8,216.5 574,214.7 573.5,212.9C573.1,211.1 572.9,209.2 574.5,208.1C576.1,206.9 580.2,205.9 583.3,206.1C586.4,206.3 591,209.8 593,209C595,208.2 594.4,203.8 595.4,201.2C596.3,198.6 597.6,195.7 598.9,193.4C600.1,191.2 601.5,189.9 602.8,187.6C604.1,185.3 605.5,182.4 606.7,179.8C607.8,177.2 608.6,174.6 609.6,172C610.6,169.4 611,166.5 612.5,164.2C614,161.9 616.1,159.8 618.4,158.4C620.6,156.9 623.5,155.8 626.1,155.5C628.7,155.1 632,155.3 633.9,156.4C635.9,157.6 637.5,160 637.8,162.3C638.2,164.5 637.2,167.5 635.9,170.1C634.6,172.7 632,174.9 630,177.9C628.1,180.8 626.1,184.7 624.2,187.6C622.2,190.5 620.1,192.8 618.4,195.4C616.6,198 614.5,200.3 613.5,203.2C612.5,206.1 612.5,210 612.5,212.9C612.5,215.8 612.7,217.8 613.5,220.7C614.3,223.6 615.8,227.2 617.4,230.5C619,233.7 621.1,237.4 623.2,240.2C625.3,243 627.3,244.9 630,247C632.8,249.1 636.7,250.4 639.8,252.9C642.9,255.3 645.9,258.5 648.5,261.6C651.1,264.7 653.8,268.1 655.4,271.4C656.9,274.6 657,278.4 657.7,281.1C658.4,283.9 659.8,284.8 659.7,287.9C659.6,290.9 657.9,296.1 657.2,299.4C656.5,302.7 655.7,305.2 655.6,307.7C655.4,310.2 655.6,312.8 656.4,314.3C657.2,315.8 658.5,316.2 660.5,316.8C662.6,317.3 666,317.7 668.8,317.6C671.5,317.5 674.6,316.8 677.1,316C679.5,315.1 682,314 683.7,312.6C685.4,311.3 685.9,309.3 687.3,307.7C688.7,306 690.6,304.7 691.9,302.7C693.3,300.8 693.9,297.5 695.2,296.1C696.6,294.7 698.4,294.3 700.2,294.1C702,294 704.6,294.1 706,295.3C707.4,296.4 708,299 708.5,301.1C708.9,303.1 708.6,305.2 708.5,307.7C708.3,310.2 706.8,313.5 707.6,316C708.5,318.4 710.8,321.3 713.4,322.6C716,323.8 720.6,323.6 723.3,323.4C726,323.1 726.6,320.9 729.6,321C732.6,321.1 737.4,322.8 741.3,324C745.2,325.1 749.1,327.4 753,327.9C756.9,328.3 760.8,327.9 764.7,326.9C768.6,325.9 772.5,322.8 776.4,322C780.3,321.2 783.5,322.5 788.1,322C792.6,321.5 799.5,320.4 803.7,319.1C807.9,317.8 810.5,316 813.4,314.2C816.3,312.4 818.3,310.2 821.2,308.4C824.1,306.6 827.5,304.6 830.9,303.5C834.4,302.4 837.5,302.4 842.1,301.6C846.6,300.7 852.9,285.2 858.2,298.6C863.5,312.1 874.5,355.5 873.8,382.4C873.2,409.4 916,447.3 854.3,460.3C792.6,473.3 569.3,488.6 503.7,460.3C438,432.1 460.9,323.6 460.6,290.8C460.2,258.1 491.1,268.4 501.5,263.6Z" fill="#ffc03c"/>
<path d="M570.6,255.8C571.9,253.3 574.7,251.6 577.4,250.9C580.2,250.3 583.9,250.9 587.2,251.9C590.4,252.9 593.7,254.5 596.9,256.8C600.2,259 603.4,262.1 606.7,265.5C609.9,268.9 613.8,273.1 616.4,277.2C619,281.3 620.1,287.1 622.2,290.1C624.4,293 627.8,291.7 629.1,294.7C630.4,297.8 630.2,303.5 630,308.4C629.9,313.2 628.7,319.4 628.1,324C627.4,328.5 626.5,329.2 626.1,335.6C625.8,342.1 643.4,358.4 626.1,362.9C608.9,367.5 543.7,362.9 522.9,362.9C502.1,362.9 505,367.4 501.5,362.9C497.9,358.4 497.9,340.6 501.5,336C505,331.5 518,336.2 522.9,335.6C527.8,335.1 528.1,333.7 530.7,332.7C533.3,331.8 535.6,330.1 538.5,329.8C541.4,329.5 544.3,331.1 548.2,330.8C552.1,330.5 558.6,329.3 561.9,327.9C565.1,326.4 566.1,324.3 567.7,322C569.3,319.7 570,316.8 571.6,314.2C573.2,311.6 575.7,309.4 577.4,306.4C579.2,303.5 581.7,300.3 582.3,296.7C583,293.1 581.8,286.9 581.3,285C580.9,283.1 580.5,286.6 579.4,285C578.3,283.4 576.1,278.5 574.5,275.3C573,272 570.7,268.8 570,265.5C569.4,262.3 569.4,258.2 570.6,255.8Z" fill="#ffe878"/>
<path d="M656.9,277.9C659,279.3 657.4,284.3 656.9,287.9C656.4,291.4 654.8,296 653.9,299.4C653,302.9 651.9,305.8 651.4,308.5C651,311.3 650.7,313.6 651.4,316C652.1,318.3 653.5,320.6 655.6,322.6C657.6,324.5 661.1,326.4 663.8,327.5C666.6,328.6 669.9,329.4 672.1,329.2C674.3,328.9 675.4,327 677.1,325.9C678.7,324.8 680.1,323.3 682,322.6C683.9,321.9 686.7,321.5 688.6,321.7C690.6,322 692.5,323 693.6,324.2C694.7,325.5 695.4,327.4 695.2,329.2C695.1,330.9 691.1,332.9 692.6,334.7C694.2,336.4 700.1,338.7 704.3,339.5C708.5,340.4 713.7,339.7 718,339.5C722.2,339.4 725.8,337.9 729.6,338.6C733.5,339.2 738.1,341.7 741.3,343.4C744.6,345.2 746.5,348 749.1,349.3C751.7,350.6 754.6,351.4 756.9,351.2C759.2,351.1 760.2,349.6 762.8,348.3C765.4,347 768.9,344.9 772.5,343.4C776.1,342 779.6,340.5 784.2,339.5C788.7,338.6 794.6,338.2 799.8,337.6C805,336.9 810.2,336.5 815.4,335.6C820.6,334.8 826.5,333.1 830.9,332.7C835.4,332.4 837.5,333.5 842.1,333.7C846.6,333.9 855.5,325.6 858.2,333.7C860.9,341.8 888.1,374.3 858.2,382.4C828.4,390.5 714.7,394 679,382.4C643.3,370.8 649.8,329.8 644,312.6C638.2,295.5 641.9,285.4 644,279.6C646.1,273.8 654.7,276.6 656.9,277.9Z" fill="#ffe878"/>
<path d="M602.8,193.4C604.1,191 605.2,187.8 606.7,184.7C608.1,181.6 609.7,177.7 611.5,174.9C613.3,172.2 615.3,169.9 617.4,168.1C619.5,166.3 621.9,164.9 624.2,164.2C626.5,163.6 629.7,163.1 631,164.2C632.3,165.4 633,168.3 632,171C631,173.8 627.3,177.7 625.2,180.8C623.1,183.9 621.4,186.5 619.3,189.5C617.2,192.6 614,196 612.5,199.3C611,202.5 611,205.8 610.6,209C610.1,212.3 609.4,215.8 609.6,218.8C609.7,221.7 610.6,223.8 611.5,226.6C612.5,229.3 613.8,232.4 615.4,235.3C617.1,238.2 619.2,241.8 621.3,244.1C623.4,246.4 625.7,247.3 628.1,249C630.5,250.6 633.3,251.7 635.9,253.8C638.5,255.9 641.2,259 643.7,261.6C646.1,264.2 648.7,266.5 650.5,269.4C652.3,272.3 653.6,275.7 654.4,279.2C655.2,282.6 658.8,288.2 655.4,290.1C652,291.9 637.8,292.5 633.9,290.1C630,287.6 633.1,278.9 632,275.3C630.9,271.7 628.9,270.4 627.1,268.4C625.3,266.5 623.2,265.5 621.3,263.6C619.3,261.6 617.2,259.2 615.4,256.8C613.6,254.3 612,251.7 610.6,249C609.1,246.2 607.9,243.1 606.7,240.2C605.4,237.3 604.3,234.2 603.2,231.4C602,228.7 600.8,226.4 599.8,223.6C598.9,220.9 597.9,217.6 597.5,214.9C597.1,212.1 597.1,209.7 597.3,207.1C597.5,204.5 598,201.6 598.9,199.3C599.8,197 601.5,195.9 602.8,193.4Z" fill="#ffe878"/>
<path d="M603.9,195.4C602.9,196.2 601.6,198.6 600.8,201.2C600.1,203.8 599.6,207.7 599.5,211C599.3,214.2 599.5,217.8 599.8,220.7C600.2,223.6 601,225.9 601.8,228.5C602.6,231.1 603.6,233.7 604.7,236.3C605.9,238.9 607.1,241.5 608.6,244.1C610.1,246.7 611.9,249.4 613.5,251.9C615.1,254.3 616.6,256.8 618.4,258.7C620.1,260.6 622.2,262.1 624.2,263.6C626.1,265 628.4,265.8 630,267.5C631.7,269.1 633.1,271 633.9,273.3C634.8,275.6 635.1,278.3 635.3,281.1C635.5,283.9 636,286.8 635.3,290.1C634.6,293.3 632.2,296.9 631,300.6C629.8,304.3 628.8,308.4 628.1,312.3C627.3,316.2 626.9,320.4 626.5,324C626.1,327.5 626.3,331.6 625.8,333.7C625.2,335.8 624.1,336.6 623.2,336.6C622.3,336.6 621.4,335.3 620.3,333.7C619.2,332.1 618,327.9 616.4,326.9C614.8,325.9 612.5,327.2 610.6,327.9C608.6,328.5 607,329.6 604.7,330.8C602.4,331.9 599.8,333.1 596.9,334.7C594,336.3 590.4,338.6 587.2,340.5C583.9,342.5 580.7,344.6 577.4,346.4C574.2,348.1 571.6,350.3 567.7,351.2C563.8,352.2 558.9,352.1 554.1,352.2C549.2,352.3 543.7,351.5 538.5,351.6C533.3,351.7 529.1,352.5 522.9,352.8C516.7,353.1 511.9,345 501.5,353.2C491.1,361.4 460.6,384 460.6,401.9C460.6,419.7 462.5,450.6 501.5,460.3C540.4,470.1 632.3,470.1 694.3,460.3C756.4,450.6 846.5,420.6 873.8,401.9C901.1,383.1 863.5,356.8 858.2,347.7C852.9,338.6 846.6,347.6 842.1,347.3C837.5,347.1 834.7,346.4 830.9,346.4C827.1,346.4 823.8,346.9 819.3,347.3C814.7,347.8 808.9,348.1 803.7,349.3C798.5,350.4 793.3,352.8 788.1,354.2C782.9,355.5 777.1,356.3 772.5,357.5C768,358.7 765.4,360.7 760.8,361.4C756.3,362 750.1,362 745.2,361.4C740.4,360.7 736.1,358.5 731.6,357.5C727.1,356.4 722.5,356.7 718,355.1C713.4,353.6 708.9,350.6 704.3,348.3C699.8,346 693.6,343 690.7,341.5C687.8,340 689.2,340 687,339.1C684.7,338.1 680.1,336.7 677.1,335.8C674,334.8 671.8,334.4 668.8,333.3C665.8,332.2 661.9,330.7 658.9,329.2C655.8,327.7 652.7,326.1 650.6,324.2C648.5,322.3 647,320.1 646.5,317.6C645.9,315.1 646.6,312.4 647.3,309.3C648,306.3 649.6,303 650.6,299.4C651.6,295.8 652.5,291.4 653.1,287.9C653.6,284.3 654.3,281.2 653.9,277.9C653.5,274.6 652.3,270.5 650.6,268C649,265.5 645.2,264.1 644,263.1C642.8,262 645,263 643.7,261.6C642.3,260.2 638.5,256.8 635.9,254.8C633.3,252.9 630.5,251.4 628.1,249.9C625.7,248.5 623.2,247.7 621.3,246C619.3,244.4 617.9,242.5 616.4,240.2C614.9,237.9 613.8,235 612.5,232.4C611.2,229.8 609.6,226.9 608.6,224.6C607.6,222.3 606.8,221 606.7,218.8C606.5,216.5 607.4,213.9 607.6,211C607.9,208.1 608.3,203.7 608.2,201.2C608.1,198.8 607.8,197.3 607.1,196.4C606.3,195.4 605,194.6 603.9,195.4Z" fill="#78b9fa" stroke="#0c8a1e" stroke-width="1.3"/>
<path d="M612.5,187.6C612.3,186.1 612.7,182.1 613.5,179.8C614.3,177.5 615.8,175.1 617.4,174C619,172.8 622.4,172.2 623.2,173C624,173.8 623.1,176.9 622.2,178.8C621.4,180.8 619.6,183.1 618.4,184.7C617.1,186.3 615.4,188.1 614.5,188.6C613.5,189.1 612.7,189.1 612.5,187.6Z" fill="#78b9fa" stroke="#0c8a1e" stroke-width="1.3"/>
<path d="M612.5,301.6C613.3,299.7 615.3,299 616.4,299C617.5,299 618.7,300 619.3,301.6C620,303.1 620.5,306.3 620.3,308.4C620.1,310.5 619.3,313.1 618.4,314.2C617.4,315.4 615.6,315.8 614.5,315.2C613.3,314.5 611.9,312.6 611.5,310.3C611.2,308.1 611.7,303.4 612.5,301.6Z" fill="#78b9fa" stroke="#0c8a1e" stroke-width="1.3"/>
<path d="M501.5,369.2C511.9,363.6 517.4,369.3 522.9,368.8C528.4,368.2 530.4,366.7 534.6,365.8C538.8,365 543.7,363.9 548.2,363.9C552.8,363.9 557.6,365.7 561.9,365.8C566.1,366 570,365.7 573.5,364.9C577.1,364.1 579.7,362.3 583.3,361C586.9,359.7 591.4,358.7 595,357.1C598.5,355.5 601.8,352.9 604.7,351.2C607.6,349.6 609.9,348.5 612.5,347.3C615.1,346.2 617.7,345.2 620.3,344.4C622.9,343.6 625.5,343 628.1,342.5C630.7,341.9 633.3,341.2 635.9,341.1C638.5,341 641.6,341.3 643.7,341.9C645.8,342.5 646.6,344 648.5,344.8C650.5,345.6 652.6,346.4 655.4,346.8C658.1,347.1 661.9,346.6 665.1,346.9C668.4,347.3 672.5,348.5 674.8,348.7C677.1,348.9 678.2,348.2 678.9,348.3C679.6,348.4 677,348.8 679,349.3C681,349.8 686.8,349.9 690.7,351.2C694.6,352.5 698.5,354.8 702.4,357.1C706.3,359.4 710.2,362.9 714.1,364.9C718,366.8 721.9,367.8 725.8,368.8C729.6,369.7 732.9,370.2 737.4,370.7C742,371.2 748.2,371.7 753,371.7C757.9,371.7 762.1,371.5 766.7,370.7C771.2,369.9 775.4,368.1 780.3,366.8C785.2,365.5 790.7,364.4 795.9,362.9C801.1,361.5 806.9,359.4 811.5,358.1C816,356.8 819.3,355.6 823.2,355.1C827.1,354.6 831.7,354.6 834.8,355.1C838,355.6 838.2,357.1 842.1,358.1C845.9,359 852.9,350.4 858.2,361C863.5,371.5 874.5,404.8 873.8,421.4C873.2,437.9 916,453.8 854.3,460.3C792.6,466.8 569.3,470.1 503.7,460.3C438,450.6 460.9,417.1 460.6,401.9C460.2,386.7 491.1,374.7 501.5,369.2Z" fill="#3c96f5"/>
<path d="M501.5,388.2C511.9,382.7 517.4,388.1 522.9,388.2C528.4,388.4 530.4,389.2 534.6,389.2C538.8,389.2 543.7,388.1 548.2,388.2C552.8,388.4 557.6,390.2 561.9,390.2C566.1,390.2 570,389.2 573.5,388.2C577.1,387.3 580,385.3 583.3,384.4C586.5,383.4 589.8,383.4 593,382.4C596.3,381.4 600.2,380.1 602.8,378.5C605.4,376.9 606.7,374.6 608.6,372.7C610.6,370.7 612.5,369.1 614.5,366.8C616.4,364.5 618.8,361.5 620.3,359C621.8,356.6 622.7,352.6 623.2,352.2C623.8,351.8 622.9,357 623.6,356.4C624.2,355.9 626.2,351.7 627.3,348.9C628.4,346.1 629.4,342.6 630.2,339.4C631,336.3 631.6,332.8 632.1,330C632.5,327.2 631.3,323.7 633,322.4C634.7,321.2 640.7,321.2 642.4,322.4C644.1,323.7 643.3,327.5 643.2,330C643.1,332.5 642.4,335 642.1,337.6C641.7,340.1 641,342.6 640.9,345.1C640.9,347.6 640.9,350.1 641.7,352.7C642.5,355.2 644.9,357.4 645.8,360.2C646.8,363.1 647.3,366.5 647.2,369.7C647.1,372.8 645.4,376.6 645.3,379.1C645.1,381.6 644.5,384.5 646.2,384.8C648,385.1 652.5,382.9 655.7,381C658.8,379.1 662,376 665.1,373.4C668.3,370.9 672.2,367.6 674.6,365.9C676.9,364.1 676.6,362.8 679,362.9C681.4,363.1 685.5,364.5 688.7,366.8C692,369.1 695.2,373.6 698.5,376.6C701.7,379.5 705,382.4 708.2,384.4C711.5,386.3 714.7,388.1 718,388.2C721.2,388.4 724.8,385.6 727.7,385.3C730.6,385 732.6,385.3 735.5,386.3C738.4,387.3 741.7,390.2 745.2,391.2C748.8,392.1 753,392.5 756.9,392.1C760.8,391.8 764.7,390.5 768.6,389.2C772.5,387.9 775.8,385.6 780.3,384.4C784.8,383.1 790.7,382.9 795.9,381.4C801.1,380 806.9,377.4 811.5,375.6C816,373.8 819.3,371.9 823.2,370.7C827.1,369.6 831.7,368.8 834.8,368.8C838,368.8 838.2,370.4 842.1,370.7C845.9,371 852.9,362.3 858.2,370.7C863.5,379.2 874.5,406.4 873.8,421.4C873.2,436.3 916,453.8 854.3,460.3C792.6,466.8 569.3,466.8 503.7,460.3C438,453.8 460.9,433.4 460.6,421.4C460.2,409.4 491.1,393.8 501.5,388.2Z" fill="#1e6eeb"/>
<path d="M501.5,414.5C511.9,410.2 517.4,414.2 522.9,414.5C528.4,414.9 530.4,415.7 534.6,416.5C538.8,417.3 543.7,418.3 548.2,419.4C552.8,420.6 557,422.3 561.9,423.3C566.7,424.3 572.6,425.3 577.4,425.3C582.3,425.3 586.9,424.3 591.1,423.3C595.3,422.3 599.6,420 602.8,419.4C606,418.8 607.5,420.1 610.3,419.7C613.2,419.3 617.6,418.3 619.8,416.9C622,415.5 622.8,413.7 623.6,411.2C624.3,408.7 624.2,404.9 624.5,401.8C624.8,398.6 625.1,395.5 625.4,392.3C625.8,389.2 626.1,386 626.4,382.9C626.7,379.7 626.9,376.6 627.3,373.4C627.8,370.3 628.1,366.5 629.2,364C630.3,361.5 632.2,358.8 633.9,358.3C635.7,357.9 638.2,359.6 639.6,361.2C641,362.7 642.2,365.1 642.4,367.8C642.7,370.5 641.5,374.1 640.9,377.2C640.4,380.4 639.6,383.5 639,386.7C638.5,389.8 637.8,393.4 637.7,396.1C637.7,398.8 636.9,401.2 638.7,402.7C640.4,404.3 644.7,405.4 648.1,405.6C651.6,405.7 655.7,405.2 659.4,403.7C663.2,402.1 667.6,398.3 670.8,396.1C673.9,393.9 675.8,391.9 678.3,390.4C680.9,389 682.7,387.6 685.9,387.6C689,387.6 693.5,389 697.2,390.4C701,391.9 705.1,394.5 708.6,396.1C712,397.7 714.9,399.9 718,399.9C721,400 724.1,397.2 726.7,396.4C729.3,395.6 730.8,394.8 733.5,395.1C736.3,395.3 739.4,396.9 743.3,398C747.2,399.1 752.1,400.7 756.9,401.9C761.8,403 767.3,404 772.5,404.8C777.7,405.6 782.9,406.6 788.1,406.8C793.3,406.9 798.5,406.6 803.7,405.8C808.9,405 814.7,403.8 819.3,401.9C823.8,399.9 827.1,396.7 830.9,394.1C834.7,391.5 837.5,388.2 842.1,386.3C846.6,384.4 852.9,373.3 858.2,382.4C863.5,391.5 874.5,427.9 873.8,440.8C873.2,453.8 916,457.1 854.3,460.3C792.6,463.6 569.3,463.6 503.7,460.3C438,457.1 460.9,448.5 460.6,440.8C460.2,433.2 491.1,418.9 501.5,414.5Z" fill="#1464d2"/>
<path d="M636.8,450.9C637.7,440.5 640.6,442.1 642.4,437.7C644.3,433.3 645.9,427.8 648.1,424.5C650.3,421.1 652.5,419.3 655.7,417.8C658.8,416.4 663.2,416.6 667,416C670.8,415.3 674.6,414.7 678.3,414.1C682.1,413.4 685.9,412.7 689.7,412.2C693.5,411.6 697.2,411.2 701,410.9C704.8,410.5 708.6,410.5 712.3,410.3C716.1,410 720.2,410 723.7,409.3C727.1,408.7 730.3,407.4 733.1,406.5C736,405.6 739.3,403.6 740.7,403.7C742,403.7 739.3,406.4 741.3,406.8C743.4,407.1 748.5,405.5 753,405.8C757.6,406.1 763.4,407.7 768.6,408.7C773.8,409.7 779,411.1 784.2,411.6C789.4,412.1 794.6,412.3 799.8,411.6C805,411 810.2,409.4 815.4,407.7C820.6,406.1 826.5,403.3 830.9,401.9C835.4,400.4 837.5,399.4 842.1,399C846.6,398.5 852.9,392 858.2,399C863.5,405.9 874.5,430.6 873.8,440.8C873.2,451.1 893.8,450.5 854.3,460.3C814.8,470.2 673,501.6 636.8,500C600.5,498.4 635.8,461.3 636.8,450.9Z" fill="#1c50cc"/>
<path d="M630.2,381C631.1,381.5 632.6,384.5 633,386.7C633.4,388.9 633.1,392 632.6,394.2C632.2,396.4 631.1,399.3 630.2,399.9C629.3,400.5 627.9,399.6 627.3,398C626.8,396.4 626.9,392.8 627,390.4C627,388.1 627.2,385.4 627.7,383.8C628.2,382.3 629.3,380.5 630.2,381Z" fill="#1c50cc"/>
<path d="M623.6,387.3C624.1,386.3 625.3,384.9 626.1,384.9C627,384.9 628.2,386.1 628.5,387.3C628.7,388.4 628.3,390.7 627.7,391.8C627.1,392.8 625.9,393.5 625.2,393.3C624.4,393.1 623.5,391.8 623.2,390.8C623,389.8 623.1,388.2 623.6,387.3Z" fill="#483cc8" stroke="#0c8a1e" stroke-width="1.1"/>
<path d="M756.9,430.1C757.6,428.8 769.9,427.3 776.4,426.8C782.9,426.3 789.4,426.7 795.9,427.2C802.4,427.8 815.4,429 815.4,430.1C815.4,431.3 803,433.3 795.9,434C788.7,434.8 779,435.3 772.5,434.6C766,434 756.3,431.4 756.9,430.1Z" fill="#1464d2"/>
<path d="M686.8,440.8C682.2,438.4 689.1,437.8 690.7,436C692.3,434.2 694.3,431.8 696.5,430.1C698.8,428.5 701.4,427 704.3,426.2C707.2,425.5 710.5,425.3 714.1,425.6C717.6,426 721.9,427.5 725.8,428.2C729.6,428.8 734.9,429.1 737.4,429.5C740,430 740.2,429.2 740.9,431.1C741.7,433 745.6,437.6 741.7,440.8C737.9,444.1 727.1,450.6 718,450.6C708.8,450.6 691.3,443.3 686.8,440.8Z" fill="#483cc8" stroke="#0c8a1e" stroke-width="1.3"/>
<path d="M604.4,228C604.2,229.4 605.4,233.7 606.5,236.6C607.6,239.4 609.3,242.3 611.1,245.1C612.8,248 614.8,251.1 616.8,253.7C618.8,256.4 620.8,258.9 622.9,260.9C624.9,262.9 627.2,264.2 629.1,265.9C630.9,267.6 632.8,268.9 634,270.9C635.1,273 635.6,275.2 636.1,278.1C636.5,281 636.9,284.5 636.7,288.1C636.6,291.8 636.2,297.3 635.3,300C634.3,302.7 632,302.1 631.1,304.5C630.2,306.9 630.1,311 630,314.2C630,317.5 630.6,320.7 630.9,324C631.2,327.2 631.5,330.5 631.8,333.7C632,336.9 630.6,341.8 632.2,343.4C633.8,345.1 639.8,345.1 641.5,343.4C643.2,341.8 641.9,336.9 642.4,333.7C642.8,330.5 643.4,327.2 644,324C644.5,320.7 645,317.5 645.6,314.2C646.2,311 646.7,306.9 647.5,304.5C648.2,302.1 649.4,302.7 650.2,300C650.9,297.3 651.6,291.8 651.8,288.1C652.1,284.5 652.1,281 651.8,278.1C651.5,275.2 650.9,273 650,270.9C649.1,268.9 647.7,267.6 646.3,265.9C644.9,264.2 644,262.9 641.8,260.9C639.5,258.9 636.2,256.4 632.8,253.7C629.4,251.1 624.4,248 621.4,245.1C618.4,242.3 617.1,239.4 614.9,236.6C612.6,233.7 609.7,229.4 607.9,228C606.2,226.5 604.7,226.5 604.4,228Z" fill="#3c96f5"/>
<path d="M609.4,236.6C609.5,238 610.7,242.3 612.2,245.1C613.7,248 616.5,251.1 618.6,253.7C620.7,256.4 622.9,258.9 625,260.9C627.1,262.9 629.2,264.2 631,265.9C632.8,267.6 634.6,268.9 635.8,270.9C636.9,273 637.4,275.2 637.8,278.1C638.3,281 638.6,284.5 638.4,288.1C638.3,291.8 637.8,297.3 636.9,300C636,302.7 633.8,302.1 633,304.5C632.1,306.9 631.9,311 631.8,314.2C631.7,317.5 632.2,320.7 632.4,324C632.6,327.2 632.8,330.5 632.9,333.7C633.1,336.9 632,341.8 633.2,343.4C634.5,345.1 639.2,345.1 640.5,343.4C641.8,341.8 640.8,336.9 641.2,333.7C641.5,330.5 642.1,327.2 642.5,324C643,320.7 643.4,317.5 643.9,314.2C644.4,311 644.9,306.9 645.6,304.5C646.4,302.1 647.7,302.7 648.5,300C649.2,297.3 649.9,291.8 650.1,288.1C650.4,284.5 650.3,281 650,278.1C649.7,275.2 649.1,273 648.2,270.9C647.3,268.9 645.8,267.6 644.4,265.9C642.9,264.2 641.9,262.9 639.6,260.9C637.4,258.9 634.3,256.4 631,253.7C627.8,251.1 623.4,248 620.2,245.1C617,242.3 613.8,238 612,236.6C610.2,235.1 609.4,235.1 609.4,236.6Z" fill="#1e6eeb"/>
<path d="M624.7,253.7C625,254.9 627.6,258.9 629.2,260.9C630.8,262.9 632.7,264.2 634.3,265.9C635.9,267.6 637.7,268.9 638.8,270.9C639.9,273 640.4,275.2 640.8,278.1C641.2,281 641.4,284.5 641.3,288.1C641.1,291.8 640.6,297.3 639.7,300C638.9,302.7 636.9,302.1 636,304.5C635.2,306.9 634.9,311 634.7,314.2C634.5,317.5 633.7,322.3 634.8,324C636,325.6 640.4,325.6 641.7,324C643,322.3 642.4,317.5 642.9,314.2C643.4,311 643.8,306.9 644.6,304.5C645.4,302.1 646.8,302.7 647.5,300C648.3,297.3 648.9,291.8 649.2,288.1C649.4,284.5 649.4,281 649,278.1C648.7,275.2 648.2,273 647.2,270.9C646.2,268.9 644.8,267.6 643.3,265.9C641.7,264.2 640.5,262.9 637.8,260.9C635.1,258.9 629.1,254.9 626.9,253.7C624.8,252.5 624.3,252.5 624.7,253.7Z" fill="#1464d2"/>
<path d="M642.4,270.9C642.2,272.1 643.8,275.2 644.1,278.1C644.5,281 644.7,284.5 644.5,288.1C644.3,291.8 643.7,297.3 642.9,300C642.1,302.7 639.4,303.7 639.5,304.5C639.5,305.2 642.1,305.2 643.2,304.5C644.3,303.7 645.5,302.7 646.2,300C647,297.3 647.6,291.8 647.9,288.1C648.1,284.5 648,281 647.6,278.1C647.3,275.2 646.4,272.1 645.6,270.9C644.7,269.7 642.7,269.7 642.4,270.9Z" fill="#1c50cc"/>
<path d="M638.2,305.5C638.2,303.9 638.7,299.6 639.4,297.7C640,295.7 641.3,293.8 642.1,293.8C642.9,293.8 644,295.9 644.1,297.7C644.2,299.4 643.4,303 642.7,304.5C642,306 640.5,306.7 639.8,306.8C639,307 638.3,307 638.2,305.5Z" fill="#483cc8" stroke="#0c8a1e" stroke-width="1.1"/>
<path d="M607.4,164.3L609.5,167.0L611.6,163.1L613.8,160.7L614.1,156.7L616.6,154.8L618.7,154.0L621.9,154.0L625.9,151.6L629.1,149.6L629.4,152.0L626.9,155.2L628.3,155.9L630.1,154.4L633.0,153.2L634.4,150.4L635.1,153.2L639.4,154.4L640.1,156.7L647.2,156.7L651.1,158.7L654.3,157.1L658.6,156.3L662.5,156.3L659.6,157.9L660.4,159.9L665.7,161.1L666.4,163.1L669.2,165.0L670.0,166.2L674.6,169.8L675.6,171.8L679.2,174.9L683.5,175.7L686.7,175.3L690.6,175.7L694.5,177.7L696.6,179.3L698.8,182.1L700.9,183.3L702.0,187.6L704.8,191.6L705.2,194.7L703.4,197.5L701.6,199.9L704.1,199.5L707.3,199.1L710.5,199.9L709.8,203.8L711.9,201.5L714.0,201.1L719.0,203.1L723.6,205.4L724.7,209.0L728.6,208.2L734.0,209.8L738.6,209.8L743.9,212.2L745.7,213.3L750.0,217.3L754.6,218.9L757.1,219.3L758.1,222.5L758.9,226.8L758.5,230.8L757.1,235.1L754.6,238.3L753.2,240.3L750.7,243.0L748.9,246.6L745.7,250.2L743.9,253.3L743.9,258.1L744.3,262.0L743.2,268.0L741.4,271.9L741.1,276.3L739.3,279.1L737.2,283.0L736.8,285.8L733.2,289.4L729.0,289.8L724.0,290.9L721.2,292.9L718.0,293.7L712.6,297.7L710.1,300.8L709.8,304.8L709.8,308.8L709.1,311.9L705.9,314.7L703.7,319.1L700.5,323.4L697.3,326.2L695.6,329.7L692.7,332.5L691.3,334.9L687.4,336.9L682.8,336.9L677.1,335.3L674.9,333.3L674.9,335.7L679.2,339.2L679.6,342.4L681.0,344.8L678.1,349.1L673.9,351.5L669.2,352.7L663.9,353.1L661.8,352.3L661.1,357.1L661.4,359.4L655.7,361.8L651.1,360.2L651.5,363.0L655.0,366.2L656.4,368.1L653.2,368.5L651.5,370.1L650.4,375.3L646.1,377.6L642.6,380.8L642.6,383.2L647.9,385.6L648.6,388.3L642.6,392.7L639.0,397.4L636.5,400.6L639.4,405.8L635.5,406.5L630.5,407.7L630.5,411.7L626.6,410.9L621.9,408.5L617.7,405.8L615.9,400.6L614.8,396.6L614.1,390.7L613.8,384.8L617.7,380.8L619.5,374.9L621.2,368.9L620.2,365.0L620.5,361.0L621.2,357.1L622.3,353.1L620.9,347.2L622.3,345.2L623.7,340.4L626.6,335.3L628.0,329.3L628.3,321.4L628.7,317.1L629.1,311.5L630.5,305.6L631.5,299.7L632.3,292.1L633.0,285.8L633.3,278.7L632.6,271.9L629.1,268.8L624.1,264.8L617.7,260.9L612.7,256.5L611.3,253.3L608.4,246.6L606.3,242.2L603.5,236.3L601.7,231.2L598.5,226.0L594.2,222.5L593.5,217.3L596.3,212.6L598.1,210.6L598.5,207.8L594.9,207.8L595.6,202.7L596.7,200.3L597.8,195.5L602.0,192.8L603.1,188.4L607.0,184.8L608.1,182.9L607.0,176.9L607.4,173.0L605.6,170.2ZM605.6,170.2L603.8,167.0L604.9,165.4L599.9,163.1L596.7,165.8L598.1,169.0L594.9,170.2L592.1,168.2L587.8,166.2L585.0,164.7L585.3,161.9L581.4,160.7L580.0,160.7L577.5,157.5L577.9,154.8L575.0,151.2L571.8,147.6L567.9,146.4L563.3,145.3L557.6,143.7L554.7,141.3L550.1,136.9L546.6,134.6M607.4,164.3L603.5,161.5L599.5,161.1L594.6,163.9L590.3,163.1L587.5,159.1L585.0,155.2L585.0,149.2L586.0,143.3L586.7,139.3L583.9,136.9L580.3,135.8M638.7,406.9L640.1,409.7L642.6,412.5L646.1,414.5L650.7,415.3L646.1,416.4L640.8,417.6L635.5,417.6L630.1,415.7L626.6,413.7L630.1,412.5L632.6,410.5L632.3,407.7L635.5,406.9L638.7,406.9M665.0,403.8L669.2,401.8L673.5,402.2L677.1,403.0L674.6,405.0L670.7,405.4L667.1,405.0L665.0,403.8M747.5,412.5L751.0,413.3L754.6,414.9L755.3,415.7L751.7,414.5L747.5,412.5M823.9,135.4L822.9,139.3L820.4,140.5L822.9,144.1L822.9,149.2L825.7,152.0L829.3,155.2L830.3,157.9L833.9,161.1L835.7,165.0L838.1,169.0L841.7,171.4L845.3,174.2M662.5,158.7L666.0,158.7L665.7,155.9L663.2,156.3L662.5,158.7M556.9,199.9L559.0,199.5L559.4,202.3L557.6,202.7L556.9,199.9M560.8,200.7L561.8,201.5L561.1,201.9L560.8,200.7M564.0,201.5L565.0,201.9L564.0,202.3M629.1,152.0L624.8,159.1L625.1,165.0L626.6,171.0L633.7,171.4L642.6,174.2L641.5,182.9L644.3,190.8L644.7,193.9M644.7,193.9L635.5,193.9L634.0,200.7L635.8,203.5L633.7,215.3M602.0,192.8L607.0,196.7L614.1,199.1L615.2,202.3L621.2,207.8L626.6,208.2L633.7,215.3M597.1,212.2L597.1,216.1L601.7,218.5L603.8,212.6L610.6,208.6L614.1,204.6L615.2,202.3M633.7,215.3L623.7,218.5L620.2,226.4L623.0,234.3L625.9,238.3L631.5,236.3L631.9,242.2L635.5,242.2M635.5,242.2L638.3,248.2L637.2,256.1L635.5,260.1L637.2,264.0L635.5,268.0L632.6,271.1M635.5,242.2L640.8,241.1L650.4,237.5L650.4,244.2L658.6,249.0L665.7,252.1L668.5,258.1L669.2,263.2L675.3,263.2L675.6,268.0L677.8,270.0L676.0,277.1L675.6,278.7M675.6,278.7L672.4,275.1L663.2,276.3L660.0,286.6M660.0,286.6L653.9,289.0L650.7,286.2L646.8,285.0L643.6,289.0M643.6,289.0L640.8,283.0L639.0,277.9L637.9,273.9L635.5,268.0M643.6,289.0L644.3,293.7L639.4,295.7L639.0,305.6L634.4,313.5L631.9,321.4L633.7,329.3L632.3,337.3L629.4,345.2L630.1,353.1L627.3,361.0L627.3,370.9L628.3,378.8L625.5,386.8L622.3,394.7L625.5,400.6L626.9,404.6L639.4,405.8M660.0,286.6L665.7,292.9L673.5,297.7L677.8,299.3L674.2,306.4L682.4,307.2L688.4,300.1M675.6,278.7L676.7,286.2L684.5,287.0L685.6,293.7L689.5,294.1L688.4,300.1M688.4,300.1L691.3,302.4L691.6,306.4L684.2,310.7L677.8,318.3M677.8,318.3L683.5,320.6L688.8,324.2L693.1,328.2L692.7,332.5M677.8,318.3L675.6,327.4L674.9,333.3M644.7,193.9L649.7,195.5L655.0,191.2L654.3,182.5L659.3,183.7L666.8,178.1M666.8,178.1L664.3,174.9L669.2,165.8M666.8,178.1L669.6,180.9L670.0,189.6L673.5,193.6L681.7,191.2M681.7,191.2L676.4,182.9L679.2,174.9M681.7,191.2L688.4,189.6M688.4,189.6L690.6,175.7M688.4,189.6L695.9,190.0L698.8,182.1M638.7,406.9L638.7,416.0M587.8,166.2L588.9,161.1M577.9,154.8L585.0,155.5M571.8,147.6L576.8,143.7L586.7,139.3M567.9,146.4L565.0,141.7L569.0,136.5M554.7,141.3L557.2,135.0M698.8,182.1L695.9,190.0M688.4,189.6L687.4,198.7L697.7,203.5L704.1,199.5M673.5,193.6L673.2,200.7L681.7,207.8L675.3,227.6L663.9,233.5L650.4,237.5M675.3,227.6L679.9,234.3L701.2,237.5L704.1,249.4L701.2,258.1L694.1,269.2L677.8,270.0M701.2,237.5L707.6,232.4L710.8,219.7L719.0,203.1M710.8,219.7L715.5,228.4L719.0,239.1L719.0,250.2L704.1,249.4M719.0,239.1L725.1,240.7L730.0,235.5L736.8,233.1L738.6,227.6L735.7,210.6M719.0,239.1L719.4,226.4L729.7,225.2L733.2,209.8M736.8,233.1L743.9,232.4L747.5,235.9L753.2,240.3M738.6,227.6L745.0,229.2L750.3,227.2L758.1,224.4M745.0,229.2L751.0,222.5L750.0,217.3M750.3,227.2L754.6,230.4L758.5,228.4M747.5,235.9L752.8,234.3L757.4,233.9M719.0,250.2L719.0,258.1L725.4,255.3L733.2,258.1L740.4,261.3L743.2,269.6M719.0,258.1L714.4,262.0L714.4,271.1L701.6,275.9L701.2,278.7M694.1,269.2L701.2,278.7L694.1,287.8L689.5,294.1M701.2,278.7L713.7,277.9L718.0,288.6L724.0,290.9M725.4,287.0L733.2,281.8L736.8,283.0M733.2,281.8L736.8,271.9L741.4,271.1M694.1,287.8L705.9,289.8L711.9,298.9M691.3,302.4L704.8,302.0L709.8,301.6M691.6,306.4L701.2,308.4L705.9,314.7M620.2,226.4L626.6,234.3L633.7,235.1L645.1,237.5L650.4,237.5M635.8,203.5L643.3,208.6L656.8,207.4L662.1,201.9L663.9,195.1L669.6,194.7M823.9,135.4L831.0,133.0L838.1,139.3L841.7,149.6L833.9,148.8L829.3,155.2M822.9,144.9L832.8,145.6L822.9,146.4M833.9,148.8L823.2,149.6M835.7,163.1L843.5,159.1L845.3,165.8L841.7,171.4M843.5,159.1L841.7,149.6" fill="none" stroke="#a4a4a4" stroke-width="0.7" stroke-linejoin="round"/><path d="M663.6,134.6L664.3,137.7L665.7,140.9L665.7,143.7L665.0,146.4L663.2,150.8M783.0,421.2L787.3,424.4L788.7,428.3L787.3,432.3L784.8,434.7" fill="none" stroke="#a8a8a8" stroke-width="1" stroke-dasharray="1.2,2.2"/><path d="M620.1,365.2L619.6,365.7L619.4,364.8L619.6,364.3L620.1,364.3ZM620.3,362.3L621.5,363.2L620.7,364.8ZM620.0,365.7L619.5,365.7L619.4,364.4L620.1,364.8ZM620.2,364.7L621.7,364.5L621.1,366.7ZM620.5,366.2L620.7,368.1L619.7,367.8ZM622.1,367.9L621.0,367.6L621.8,366.4ZM619.0,365.4L619.5,367.3L619.0,368.8L617.9,368.5L617.7,366.3ZM619.8,367.1L618.0,367.6L618.6,364.3ZM620.0,367.0L619.2,369.2L618.6,366.6ZM619.8,369.3L618.9,369.9L618.5,368.0L619.7,367.5ZM619.5,368.3L619.2,369.3L618.6,368.7L618.9,367.6ZM619.8,368.2L620.3,367.7L620.5,368.4L620.1,369.1ZM620.5,369.2L621.0,370.3L620.5,371.2L619.7,371.2L619.9,369.9ZM619.1,369.4L618.0,369.1L618.7,367.2ZM617.8,370.5L617.3,369.8L617.6,368.8L618.3,368.3L618.7,370.0ZM619.4,368.7L620.0,369.4L619.5,370.3L619.1,369.5ZM618.4,373.9L618.0,372.0L618.4,369.7L619.7,370.8L619.9,373.4ZM618.3,373.3L617.2,372.6L617.5,370.5L618.6,370.2L619.1,371.9ZM618.8,372.2L617.7,373.3L617.7,371.6ZM619.2,373.2L618.6,374.9L617.7,374.0L618.2,372.4ZM620.4,373.3L620.3,375.9L618.6,375.4L619.3,373.1ZM620.2,371.1L621.2,373.2L619.6,375.1L619.0,372.3ZM621.6,374.9L620.7,375.4L620.8,373.8ZM618.5,374.2L619.8,373.8L619.6,377.1ZM619.1,375.6L619.1,377.4L618.2,376.5ZM619.8,375.3L618.4,375.7L619.0,373.4ZM617.5,376.9L619.0,376.4L618.9,378.9ZM615.6,376.9L616.1,376.9L616.3,378.0L615.5,378.0ZM619.7,379.1L619.5,377.8L620.2,378.0ZM620.0,376.8L620.7,376.4L621.4,377.6L620.8,379.3L619.8,378.4ZM619.0,378.2L619.2,380.1L618.1,380.8L617.3,379.2L618.0,377.6ZM618.0,377.3L617.7,379.0L617.0,377.3ZM619.8,380.9L620.1,379.0L620.8,380.8ZM617.3,379.9L617.3,378.4L618.1,379.5ZM618.5,379.3L619.1,377.6L619.9,379.5L618.9,381.2ZM616.4,376.5L617.6,378.7L616.3,380.5L615.1,378.5ZM618.3,381.0L617.4,381.8L617.3,379.8L618.1,379.7ZM618.8,382.3L618.0,382.4L618.3,381.3ZM619.9,379.5L620.6,380.0L620.4,381.0L619.9,381.2L619.4,380.5ZM617.8,381.8L617.2,381.3L617.0,380.3L617.6,380.0L618.4,380.6ZM614.7,380.2L616.5,381.8L614.8,383.7ZM619.8,382.9L619.9,380.9L620.7,382.0ZM615.7,380.6L616.6,381.2L616.1,381.9ZM616.3,384.8L615.2,383.9L615.7,382.0L616.8,381.6L617.1,383.6ZM620.1,384.5L619.5,384.0L619.9,383.1L620.4,383.6ZM615.5,385.4L614.7,384.8L615.3,384.1ZM613.3,383.9L615.3,385.5L613.5,387.1ZM620.6,385.1L619.3,385.0L619.0,383.0L619.9,381.9L620.9,382.8ZM619.8,384.4L620.0,387.3L618.5,385.8ZM615.2,383.9L614.9,384.9L614.4,384.3L614.7,383.6ZM614.8,383.9L615.5,385.8L614.1,385.9ZM618.3,386.3L617.9,385.5L618.2,384.6L618.7,385.3ZM613.1,387.4L614.0,387.9L613.5,388.9ZM617.5,386.7L618.8,384.8L618.7,387.3ZM616.1,388.3L616.4,386.9L617.0,388.0L616.7,389.5ZM614.0,388.1L613.2,390.5L611.8,388.3L613.1,387.0ZM618.7,386.6L619.2,387.8L618.6,389.0L618.0,388.1L617.8,386.7ZM612.4,388.4L612.7,386.5L613.7,386.8L613.4,388.3ZM615.1,387.4L615.9,389.2L614.9,389.6ZM620.4,388.7L620.9,390.1L620.3,390.9L619.6,390.1ZM614.2,392.9L613.1,392.4L613.6,390.3L614.8,391.2ZM620.7,393.1L619.6,393.4L618.9,392.4L619.5,391.2L620.5,391.0ZM619.5,392.0L619.3,390.8L620.2,390.4L620.1,391.8ZM614.8,391.3L615.7,391.7L614.8,393.3ZM616.7,392.6L615.8,392.4L615.7,390.5L616.8,390.9ZM615.4,391.4L615.9,393.6L614.7,394.1L613.9,392.9L614.2,390.7ZM616.5,391.1L617.6,391.4L618.0,392.8L617.4,393.8L616.6,393.2ZM621.0,395.6L619.1,394.9L620.7,392.2ZM617.6,390.7L617.6,393.2L616.7,394.1L616.0,393.1L616.1,391.1ZM621.3,395.9L620.1,395.8L619.8,394.4L620.9,393.6ZM618.0,394.5L618.9,394.9L619.2,396.1L618.7,397.3L617.8,396.4ZM615.0,395.3L614.7,395.9L614.2,395.3L614.7,394.8ZM617.2,394.8L616.7,394.0L617.2,392.8L617.9,393.4L617.8,394.7ZM620.4,394.5L620.9,395.0L620.5,395.6L620.2,395.3ZM613.6,397.2L613.0,396.0L613.9,396.0ZM617.4,395.6L617.4,396.9L616.5,396.7L616.9,395.4ZM617.0,398.0L617.8,394.7L618.9,397.4ZM620.8,396.7L621.3,396.9L621.1,397.9L620.5,398.0L620.4,397.0ZM612.4,396.7L613.6,396.6L613.2,398.5ZM619.0,398.6L619.6,395.9L620.6,397.5ZM614.1,399.0L613.3,399.8L612.2,398.1L613.7,397.3ZM621.6,399.1L620.9,400.0L620.2,399.3L620.6,398.1L621.3,397.8ZM620.7,401.5L619.9,401.2L620.3,400.0ZM621.6,401.9L620.9,401.4L621.1,400.0L621.9,400.6ZM616.9,400.2L616.3,401.1L615.9,399.9L616.3,399.1L616.8,399.3ZM616.5,403.4L615.9,401.4L617.5,401.4ZM618.2,399.7L618.4,401.0L617.5,401.7L616.9,400.4L617.4,399.0ZM616.5,401.4L615.9,400.9L616.2,399.9L617.1,400.2ZM615.7,401.1L616.8,400.1L617.9,400.6L617.4,402.4L616.6,402.6ZM616.3,402.9L615.5,402.3L616.1,400.7L616.7,402.0ZM619.3,401.1L619.3,402.6L618.3,402.7L618.1,401.1L618.8,400.1ZM617.0,401.1L616.9,403.2L615.8,403.3L615.4,401.9L615.9,400.5ZM615.2,403.8L614.2,404.2L614.0,402.2L615.0,402.4ZM620.5,403.6L620.5,402.2L621.5,402.6L621.1,404.1ZM621.6,403.6L622.2,404.6L621.8,406.7L620.8,404.9ZM618.9,406.3L618.0,405.9L618.8,404.1ZM620.7,407.1L619.3,406.2L620.7,404.0ZM619.2,408.1L619.1,404.8L621.0,405.3ZM620.6,405.0L621.1,405.1L621.5,405.8L621.1,406.3L620.6,406.0ZM623.8,404.5L623.6,405.6L623.1,405.0L623.2,403.6ZM618.8,407.7L617.7,408.4L616.6,407.9L616.9,405.7L618.2,405.5ZM619.4,407.3L619.4,406.0L619.9,405.6L620.8,406.0L620.2,407.4ZM621.5,408.1L621.5,406.2L622.8,406.5L622.8,409.2ZM622.4,406.3L622.3,405.4L622.5,404.5L623.2,404.9L623.0,406.0ZM617.1,404.8L618.0,406.1L617.0,407.3L615.9,406.9L616.0,404.6ZM624.0,408.2L624.5,408.1L624.6,409.1L623.9,409.3ZM619.3,410.4L618.8,409.3L619.1,408.3L619.8,408.3L619.9,409.4ZM624.3,409.9L623.5,410.0L623.5,408.8L624.3,408.4ZM622.7,408.9L623.3,408.6L623.4,409.6L623.1,410.5L622.6,409.8ZM625.4,408.2L625.3,409.1L624.7,409.0L624.4,407.9L625.0,407.2ZM627.3,411.2L625.8,409.9L627.1,408.2ZM620.2,409.0L618.8,409.3L619.2,406.9ZM622.0,408.2L622.6,408.4L622.8,409.6L622.0,409.3ZM618.7,410.8L619.0,409.0L620.3,408.8L620.0,411.5ZM624.3,409.7L624.9,408.5L625.7,408.8L625.8,410.3L624.9,411.0ZM628.6,408.4L628.4,409.6L627.5,410.1L627.2,408.4L628.0,407.1ZM622.1,409.6L621.1,410.6L621.0,408.8ZM623.7,411.8L623.9,411.2L624.3,411.1L624.3,411.8L624.1,412.3ZM626.3,410.3L627.8,410.5L627.8,413.3L626.1,413.1ZM629.8,412.0L629.5,412.6L629.0,412.4L629.0,411.3L629.6,411.1ZM629.9,409.8L629.8,411.3L629.0,411.4L628.7,410.3L629.2,409.5ZM621.4,411.6L621.9,412.7L621.1,413.5L620.9,412.3ZM622.3,411.1L622.8,411.8L622.1,412.4ZM622.8,412.4L621.3,410.7L622.0,408.2L623.6,409.4ZM629.3,411.9L628.3,411.9L629.1,410.3ZM630.8,413.4L629.7,412.7L630.5,411.6ZM625.0,410.0L626.1,412.2L624.1,413.4ZM631.5,412.9L631.1,413.2L630.7,412.6L631.2,412.3ZM630.4,414.4L629.6,414.1L629.7,412.1L631.1,412.6ZM629.2,412.3L627.8,414.8L627.6,411.3ZM624.9,413.9L626.3,412.0L626.1,415.0ZM631.9,415.1L630.3,415.6L630.1,413.0L631.4,412.8ZM627.7,412.7L628.0,411.2L628.8,412.1L628.8,413.4L628.1,413.9ZM631.2,413.7L632.1,412.8L632.7,414.1L631.9,414.9ZM631.0,413.2L631.5,412.1L632.1,412.7L631.8,413.7ZM633.3,411.9L633.8,413.1L633.0,413.2ZM629.5,415.1L628.4,417.1L627.7,413.5ZM633.4,413.6L633.5,414.8L632.8,414.8L632.7,413.9L632.8,412.9ZM629.3,416.6L628.4,415.9L629.2,414.6ZM631.7,413.2L632.0,415.8L630.4,416.5L630.3,413.7ZM629.5,414.5L629.4,413.5L629.9,413.0L630.2,414.1ZM634.2,414.3L633.2,415.3L632.5,413.9L633.4,412.6ZM632.3,414.0L630.7,414.6L630.9,411.5ZM633.3,415.4L632.7,414.6L632.3,413.0L633.3,412.8L633.8,414.1ZM632.9,416.2L633.6,416.5L633.1,417.5L632.7,417.3L632.5,416.5ZM629.4,414.0L630.1,414.6L630.3,415.7L629.6,416.3L628.8,415.4ZM638.3,418.1L636.9,417.4L638.0,415.7ZM634.0,412.8L635.8,413.7L635.2,416.4L633.4,416.2ZM635.7,417.9L635.3,416.1L636.4,416.2ZM630.9,415.8L631.8,416.5L630.9,417.6ZM638.7,415.4L637.7,416.3L637.3,414.5L638.2,414.2ZM636.5,414.3L637.0,414.7L636.6,415.2ZM637.9,415.2L638.4,416.1L637.7,416.7L637.3,415.5ZM638.3,417.4L639.4,416.2L639.8,419.2ZM633.5,415.6L634.4,414.3L634.8,416.7ZM636.5,415.8L635.7,417.1L634.7,416.5L634.7,414.7L635.8,414.0ZM636.5,418.8L636.6,418.0L636.9,417.7L637.3,417.9L637.2,419.1ZM636.3,417.3L634.6,418.3L635.0,415.5ZM637.3,418.2L636.9,416.3L637.9,416.7ZM637.9,416.4L637.8,417.7L637.1,417.9L637.2,416.6ZM640.2,414.9L641.0,417.7L638.7,416.9ZM636.6,416.1L636.7,417.4L636.1,416.7ZM639.5,416.1L640.1,416.4L640.0,417.4L639.5,417.9L639.2,417.0ZM637.9,416.1L637.5,417.1L637.0,416.0ZM640.8,416.9L640.2,417.8L639.8,416.5L640.6,415.4ZM639.2,417.5L640.8,417.0L640.9,419.0L640.0,419.9ZM642.4,418.7L643.1,417.8L643.8,419.5L642.6,420.4ZM638.4,419.5L637.2,417.5L639.0,417.0ZM641.1,416.2L642.2,418.7L640.7,420.6L640.1,418.2ZM643.1,416.9L642.8,418.7L641.8,418.3L641.7,415.5ZM642.7,418.6L641.9,418.2L641.9,417.1L642.4,416.5L642.9,417.2ZM643.5,416.4L643.1,418.8L641.8,417.2L642.4,414.7ZM642.0,419.2L641.0,419.8L640.5,418.1L641.5,417.7ZM643.6,417.9L645.0,417.9L645.3,419.6L644.2,420.1ZM641.8,419.3L640.9,417.7L641.9,415.9L643.0,418.0ZM645.2,420.9L643.6,420.7L643.3,418.4L644.3,416.7L645.3,418.3Z" fill="none" stroke="#a9a9a9" stroke-width="0.65" stroke-linejoin="round"/>
<circle cx="844.3" cy="140.6" r="4.2" fill="#e11400" stroke="#0c8a1e" stroke-width="1.2"/>
<rect x="596.2" y="211.3" width="13.2" height="9.8" fill="#fff"/><text class="cl" x="602.8" y="220.2" text-anchor="middle">15</text>
<rect x="609.2" y="316.1" width="13.2" height="9.8" fill="#fff"/><text class="cl" x="615.8" y="325" text-anchor="middle">15</text>
<rect x="745.8" y="358.8" width="13.2" height="9.8" fill="#fff"/><text class="cl" x="752.4" y="367.7" text-anchor="middle">15</text>
</g>
<rect x="522.1" y="139.2" width="320.9" height="297.4" fill="none" stroke="#000" stroke-width="2.1"/>
<text class="tk" text-anchor="end" transform="translate(517.2,142.7) scale(0.91,1)">15N</text>
<text class="tk" text-anchor="end" transform="translate(517.2,162.5) scale(0.91,1)">10N</text>
<text class="tk" text-anchor="end" transform="translate(517.2,182.3) scale(0.91,1)">5N</text>
<text class="tk" text-anchor="end" transform="translate(517.2,202.1) scale(0.91,1)">EQ</text>
<text class="tk" text-anchor="end" transform="translate(517.2,221.9) scale(0.91,1)">5S</text>
<text class="tk" text-anchor="end" transform="translate(517.2,241.8) scale(0.91,1)">10S</text>
<text class="tk" text-anchor="end" transform="translate(517.2,261.6) scale(0.91,1)">15S</text>
<text class="tk" text-anchor="end" transform="translate(517.2,281.4) scale(0.91,1)">20S</text>
<text class="tk" text-anchor="end" transform="translate(517.2,301.2) scale(0.91,1)">25S</text>
<text class="tk" text-anchor="end" transform="translate(517.2,321.1) scale(0.91,1)">30S</text>
<text class="tk" text-anchor="end" transform="translate(517.2,340.9) scale(0.91,1)">35S</text>
<text class="tk" text-anchor="end" transform="translate(517.2,360.7) scale(0.91,1)">40S</text>
<text class="tk" text-anchor="end" transform="translate(517.2,380.5) scale(0.91,1)">45S</text>
<text class="tk" text-anchor="end" transform="translate(517.2,400.4) scale(0.91,1)">50S</text>
<text class="tk" text-anchor="end" transform="translate(517.2,420.2) scale(0.91,1)">55S</text>
<text class="tk" text-anchor="end" transform="translate(517.2,440) scale(0.91,1)">60S</text>
<text class="tk" text-anchor="middle" transform="translate(526.9,447.4) scale(0.91,1)">100W</text>
<text class="tk" text-anchor="middle" transform="translate(562.5,447.4) scale(0.91,1)">90W</text>
<text class="tk" text-anchor="middle" transform="translate(598,447.4) scale(0.91,1)">80W</text>
<text class="tk" text-anchor="middle" transform="translate(633.6,447.4) scale(0.91,1)">70W</text>
<text class="tk" text-anchor="middle" transform="translate(669.1,447.4) scale(0.91,1)">60W</text>
<text class="tk" text-anchor="middle" transform="translate(704.7,447.4) scale(0.91,1)">50W</text>
<text class="tk" text-anchor="middle" transform="translate(740.3,447.4) scale(0.91,1)">40W</text>
<text class="tk" text-anchor="middle" transform="translate(775.8,447.4) scale(0.91,1)">30W</text>
<text class="tk" text-anchor="middle" transform="translate(811.4,447.4) scale(0.91,1)">20W</text>
<path d="M521.2,139.2h-3.0M521.2,159h-3.0M521.2,178.8h-3.0M521.2,198.6h-3.0M521.2,218.4h-3.0M521.2,238.3h-3.0M521.2,258.1h-3.0M521.2,277.9h-3.0M521.2,297.7h-3.0M521.2,317.6h-3.0M521.2,337.4h-3.0M521.2,357.2h-3.0M521.2,377h-3.0M521.2,396.9h-3.0M521.2,416.7h-3.0M521.2,436.5h-3.0M526.9,437.4v3.0M562.5,437.4v3.0M598,437.4v3.0M633.6,437.4v3.0M669.1,437.4v3.0M704.7,437.4v3.0M740.3,437.4v3.0M775.8,437.4v3.0M811.4,437.4v3.0" stroke="#000" stroke-width="1.4" fill="none"/>
<clipPath id="cp3"><rect x="63.1" y="494" width="320.8" height="296.9"/></clipPath>
<g clip-path="url(#cp3)">
<rect x="60" y="490" width="330" height="310" fill="#ffa000"/>
<path d="M48.3,478.3C55.1,473.1 77.5,475.6 83.4,478.3C89.2,481 81.6,491.1 83.4,494.3C85.2,497.5 90.5,496 94.1,497.4C97.7,498.8 102,500.7 105.2,502.5C108.3,504.2 110.7,505.9 113,507.9C115.3,509.9 116.7,512.6 119,514.5C121.3,516.5 124.3,518.2 126.8,519.6C129.4,521 131.9,522.2 134.4,522.7C137,523.2 140.3,521.9 142.2,522.7C144.2,523.6 145.3,525.5 146.1,528C146.9,530.5 147.6,534.8 147.1,537.7C146.5,540.6 145,543.7 142.8,545.5C140.6,547.3 137.1,548 134,548.4C130.9,548.9 128.2,548.6 124.3,548.4C120.4,548.3 114.9,547.8 110.6,547.5C106.4,547.1 102.9,546.8 99,546.5C95.1,546.2 91.2,546.5 87.3,545.5C83.4,544.5 79.5,541.9 75.6,540.6C71.7,539.4 68.4,538.4 63.9,537.7C59.4,537.1 51.9,541.5 48.3,536.8C44.7,532 42.5,519.2 42.5,509.5C42.5,499.7 41.5,483.5 48.3,478.3Z" fill="#ff6000"/>
<path d="M127.2,478.3C82.6,481.6 127.3,493.4 127.6,497.8C127.9,502.2 128.2,502.7 129.2,504.6C130.1,506.5 131.6,507.8 133.1,509.1C134.5,510.4 134.1,511.6 137.9,512.2C141.8,512.8 150.7,513.3 156.1,512.5C161.5,511.7 165.8,508 170.1,507.5C174.5,506.9 177.8,508.5 182.2,509.3C186.5,510.1 192.2,511.1 196.2,512.3C200.2,513.4 203.3,514.5 206.3,516.3C209.3,518.1 211.6,520.8 214.3,523.1C217,525.4 219.6,528.1 222.3,530.1C225,532.1 228,533.2 230.4,535.2C232.7,537.2 235,539.7 236.4,542.2C237.7,544.7 238.7,547.9 238.4,550.2C238,552.6 236.4,555.1 234.4,556.2C232.4,557.4 229,557.6 226.3,557.2C223.7,556.9 221,555.1 218.3,554.2C215.6,553.4 212.3,551.9 210.3,552.2C208.3,552.6 208.3,555.9 206.3,556.2C204.3,556.6 201.3,555.2 198.2,554.2C195.2,553.2 191.6,550.7 188.2,550.2C184.9,549.7 180.2,550.2 178.2,551.2C176.2,552.2 175.8,554.1 176.2,556.2C176.5,558.4 178.5,561.6 180.2,564.3C181.8,566.9 184.2,569.9 186.2,572.3C188.2,574.6 189.9,577 192.2,578.3C194.6,579.6 197.2,580.7 200.2,580.3C203.3,580 207.3,577.3 210.3,576.3C213.3,575.3 216,574 218.3,574.3C220.7,574.6 222.7,576.3 224.3,578.3C226,580.3 227.3,583.7 228.3,586.3C229.4,589 230.2,591.2 230.4,594.4C230.5,597.5 230.6,603.1 229.4,605.4C228.1,607.7 225.4,607.4 223,608.1C220.6,608.9 217.8,609.9 214.8,609.8C211.7,609.7 208.1,607.9 204.8,607.3C201.5,606.8 197.9,606.3 194.9,606.5C191.9,606.6 187.5,607 186.7,608.1C185.8,609.2 188.3,611.4 190,613.1C191.6,614.8 194.6,616.1 196.6,618.1C198.5,620 200.6,621.9 201.5,624.7C202.5,627.4 201.5,631.8 202.4,634.6C203.2,637.3 204.4,639.5 206.5,641.2C208.6,642.9 212,644.2 214.8,644.5C217.5,644.8 220.8,644 223,642.9C225.2,641.7 226.3,639.3 228,637.9C229.6,636.5 231,634.9 232.9,634.6C234.9,634.3 237.1,635.7 239.5,636.2C242,636.8 245.3,637.3 247.8,637.9C250.3,638.4 252.5,638.4 254.4,639.5C256.3,640.6 258.8,642.6 259.4,644.5C259.9,646.4 257.7,649.2 257.7,651.1C257.7,653 257.7,654.7 259.4,656.1C261,657.5 264.1,658.8 267.6,659.4C271.2,659.9 276.5,659.9 280.9,659.4C285.3,658.8 289.7,656.9 294.1,656.1C298.5,655.2 303.5,655.1 307.3,654.4C311.2,653.7 314.3,652.6 317.2,651.9C320.2,651.3 322.7,657.1 325,650.3C327.3,643.4 329.1,618.2 331,610.8C333,603.4 334,607.5 336.9,605.9C339.8,604.3 344.7,603.1 348.6,601C352.5,598.9 356.4,595.2 360.3,593.2C364.2,591.3 368.1,590.3 371.9,589.4C375.7,588.4 379.2,588.1 383.1,587.4C386.9,586.8 391.3,595.2 395.3,585.5C399.3,575.7 407,546.8 407,529C407,511.1 442,486.8 395.3,478.3C348.7,469.9 171.8,475.1 127.2,478.3Z" fill="#ff6000"/>
<path d="M278.5,574.3C280.4,574.3 286.6,576.3 288.6,578.3C290.6,580.3 291.2,584.3 290.6,586.3C289.9,588.3 286.6,589 284.5,590.4C282.5,591.7 280,592 278.5,594.4C277,596.7 275.4,601.7 275.5,604.4C275.6,607.1 278.1,608.1 278.9,610.4C279.8,612.8 280.9,615.4 280.5,618.5C280.1,621.5 276.2,629.7 276.5,628.5C276.8,627.3 281.8,612.6 282.5,611.4C283.2,610.3 281.7,618.3 280.9,621.4C280,624.4 279.2,626.9 277.6,629.6C275.9,632.4 273.4,635.1 271,637.9C268.5,640.6 265.2,644 262.7,646.2C260.2,648.4 257.5,649.2 256.1,651.1C254.7,653 255.8,655.8 254.4,657.7C253,659.7 251.1,661.6 247.8,662.7C244.5,663.8 238.2,664.9 234.6,664.3C231,663.8 228.1,661.6 226.3,659.4C224.5,657.2 224,653.9 223.8,651.1C223.7,648.4 224.8,645.1 225.5,642.9C226.2,640.6 227.1,639.2 228.3,637.9C229.5,636.6 231.1,635.1 232.9,634.9C234.8,634.7 237.1,636 239.5,636.6C242,637.1 245.3,638.8 247.8,638.2C250.3,637.7 252.5,635.5 254.4,633.3C256.3,631 258,627.5 259.4,624.7C260.8,621.9 261.9,619.2 262.7,616.4C263.5,613.7 263.5,610.6 264.3,608.1C265.2,605.7 266.3,603.7 267.6,601.5C269,599.3 271,596.8 272.6,594.9C274.3,593 278.2,587.7 277.6,590C276.9,592.2 269.7,607 268.5,608.4C267.3,609.8 269.5,602.1 270.5,598.4C271.5,594.7 273.4,589.7 274.5,586.3C275.6,583 276.5,580.3 277.1,578.3C277.8,576.3 276.6,574.3 278.5,574.3Z" fill="#ffa000"/>
<path d="M220,531.9C221.6,529 225.4,530.6 227.8,531.3C230.2,531.9 232.9,533.6 234.6,535.8C236.3,538 237.6,541.5 237.9,544.5C238.2,547.6 237.9,552 236.6,554.3C235.2,556.6 232.2,558 229.7,558.2C227.3,558.3 223.9,556.9 221.9,555.3C220,553.6 218.4,552.3 218.1,548.4C217.7,544.5 218.4,534.7 220,531.9Z" fill="#ffa000"/>
<path d="M218.1,573.8C219.4,568.6 224,573.4 225.8,575.7C227.7,578 228.9,583.5 229.4,587.4C229.8,591.3 229.4,595.8 228.8,599.1C228.2,602.3 227.6,605.6 225.8,606.9C224.1,608.2 219.4,612.4 218.1,606.9C216.8,601.4 216.8,579 218.1,573.8Z" fill="#ffa000"/>
<path d="M130.1,484.2C119.3,487.4 129.8,499.4 131.1,503.6C132.4,507.9 135.5,508.2 137.9,509.5C140.4,510.8 143.1,511.9 145.7,511.4C148.3,510.9 150.9,508 153.5,506.6C156.1,505.1 158.7,503.5 161.3,502.7C163.9,501.9 166.5,501.7 169.1,501.7C171.7,501.7 174,502.2 176.9,502.7C179.8,503.1 183.7,504.8 186.6,504.6C189.5,504.4 192.8,503.3 194.4,501.7C196,500.1 196,497.8 196.4,494.9C196.7,491.9 207.4,485.9 196.4,484.2C185.3,482.4 141,480.9 130.1,484.2Z" fill="#ff3200"/>
<path d="M54.2,484.2C57.6,479.9 71.3,481.2 74.6,484.2C77.9,487.1 74.7,497.5 74,501.7C73.4,505.9 72.4,508 70.7,509.5C69,510.9 66.7,510.5 63.9,510.5C61.1,510.5 55.8,513.9 54.2,509.5C52.5,505.1 50.7,488.4 54.2,484.2Z" fill="#ff3200"/>
<path d="M210.3,510.1C211.3,508.4 215,507.2 218.3,506.1C221.7,504.9 226.3,503.5 230.4,503C234.4,502.5 238.7,502.5 242.4,503C246.1,503.5 249.4,504.6 252.4,506.1C255.4,507.6 257.8,510.4 260.5,512.1C263.1,513.8 266.1,514.4 268.5,516.1C270.8,517.8 272.8,519.4 274.5,522.1C276.2,524.8 277.2,530 278.5,532.1C279.8,534.3 280.4,535.3 282.3,534.8C284.3,534.3 286.9,530.4 290.1,529C293.4,527.5 297.9,526.7 301.8,526C305.7,525.4 309.6,524.9 313.5,525.1C317.4,525.2 321.6,527.3 325.2,527C328.8,526.7 332,525.1 334.9,523.1C337.9,521.2 340.1,517.8 342.7,515.3C345.3,512.9 347.6,510.5 350.5,508.5C353.4,506.6 357.3,504.3 360.3,503.6C363.2,503 365.5,503.8 368.1,504.6C370.6,505.4 373.3,507.4 375.8,508.5C378.3,509.6 379.8,510.6 383.1,511.4C386.3,512.2 393.3,510.5 395.3,513.4C397.4,516.3 397.4,526.4 395.3,529C393.3,531.6 386,527.7 383.1,529C380.1,530.3 380.3,535.8 377.8,536.8C375.3,537.7 371.6,535.3 368.1,534.8C364.5,534.3 359.9,533.2 356.4,533.8C352.8,534.5 349.9,537.4 346.6,538.7C343.4,540 340.5,541 336.9,541.6C333.3,542.3 328.4,541.8 325.2,542.6C321.9,543.4 319.4,544.5 317.4,546.5C315.5,548.4 313.3,551.7 313.5,554.3C313.7,556.9 317.7,559.8 318.4,562.1C319,564.4 318.5,566 317.4,567.9C316.3,569.9 313.2,572 311.6,573.8C309.9,575.6 309,578.6 307.7,578.6C306.4,578.6 305.4,575.6 303.8,573.8C302.1,572 300.2,569.7 297.9,567.9C295.6,566.1 293.1,564.4 290.1,563.1C287.2,561.8 283.6,560.8 280.4,560.1C277.1,559.5 274.2,559.6 270.6,559.2C267.1,558.7 262.5,558 259,557.2C255.4,556.4 249,554.8 249.2,554.3C249.5,553.8 259.9,554.6 260.5,554.2C261,553.9 254.8,553.2 252.4,552.2C250.1,551.2 248.4,550.2 246.4,548.2C244.4,546.2 242.4,542.7 240.4,540.2C238.4,537.7 236.7,535.3 234.4,533.2C232,531 229,529 226.3,527.1C223.7,525.3 220.7,524 218.3,522.1C216,520.3 213.6,518.1 212.3,516.1C211,514.1 209.3,511.7 210.3,510.1Z" fill="#ff3200"/>
<path d="M365.1,490C370,488.5 390.3,488.1 395.3,490C400.4,491.9 398.6,499.6 395.3,501.7C392.1,503.8 380.1,502.7 375.8,502.7C371.6,502.7 371.6,502.3 370,501.7C368.4,501 366.9,500.7 366.1,498.8C365.3,496.8 360.3,491.5 365.1,490Z" fill="#ff3200"/>
<path d="M210,509.5C210.5,507.5 213.3,507.3 215.8,507.1C218.3,507 222.4,506.8 225,508.5C227.6,510.2 231,514.5 231.4,517.3C231.9,520 229.5,523.8 227.5,525.1C225.6,526.3 222.2,525.6 219.7,524.7C217.3,523.7 214.5,521.8 212.9,519.2C211.3,516.7 209.5,511.5 210,509.5Z" fill="#ff3200"/>
<path d="M244.8,596.4C245.4,594.7 247.9,593.4 249.4,593.4C251,593.4 253.2,595 254,596.4C254.9,597.7 255,600 254.4,601.4C253.8,602.8 251.8,604.5 250.4,604.8C249,605.1 246.9,604.8 246,603.4C245.1,602 244.2,598 244.8,596.4Z" fill="#ff3200"/>
<path d="M210.7,631.5C211.7,630.2 214.4,628.7 216.3,628.5C218.2,628.3 221.3,629.2 221.9,630.5C222.6,631.8 221.6,635.1 220.3,636.5C219,637.9 216,639 214.3,638.9C212.6,638.9 210.9,637.4 210.3,636.1C209.7,634.9 209.7,632.8 210.7,631.5Z" fill="#ff3200"/>
<path d="M293.1,606.9C293.6,605.8 295.3,604.2 296,604.5C296.7,604.9 297.3,607.4 297.1,608.8C297,610.3 295.7,612.8 295,613.1C294.3,613.4 293.2,611.8 292.9,610.8C292.5,609.7 292.5,607.9 293.1,606.9Z" fill="#ff3200"/>
<path d="M395.3,612.7C393.3,609.2 385.6,613.4 383.1,614.7C380.5,616 380.5,618.6 379.7,620.5C379,622.5 378.7,624.4 378.8,626.4C378.8,628.3 379.4,630.8 380.1,632.2C380.8,633.6 380.5,633.9 383.1,634.5C385.6,635.2 393.3,639.7 395.3,636.1C397.4,632.5 397.4,616.3 395.3,612.7Z" fill="#ffc03c"/>
<path d="M91.2,484.2C86.1,486.1 94.3,493.2 96,495.8C97.8,498.4 99.8,498.5 101.9,499.7C104,501 106.4,502 108.7,503.2C111,504.5 113.5,506.1 115.5,507.1C117.5,508.2 119.2,509.4 120.8,509.5C122.4,509.6 124.3,509.2 125.3,507.9C126.2,506.6 126.5,505.6 126.6,501.7C126.8,497.7 132.1,487.1 126.2,484.2C120.3,481.2 96.2,482.2 91.2,484.2Z" fill="#ffc03c"/>
<path d="M105.2,484.2C103.2,486.4 106.5,494.9 107.7,497.4C109,499.9 111,499.2 112.6,499.4C114.2,499.5 116.3,500.7 117.5,498.2C118.6,495.6 121.5,486.5 119.4,484.2C117.4,481.8 107.1,481.9 105.2,484.2Z" fill="#ffe878"/>
<path d="M187.2,528.1C188.5,526.4 193.1,525.7 196.2,525.7C199.4,525.7 204.2,526.6 206.3,528.1C208.3,529.7 209,533 208.7,535.2C208.3,537.3 206,539.6 204.3,541.2C202.5,542.8 200.2,544.4 198.2,544.6C196.2,544.8 193.9,544 192.2,542.6C190.5,541.2 189,538.6 188.2,536.2C187.4,533.8 185.9,529.9 187.2,528.1Z" fill="#ffc03c"/>
<path d="M169.7,578.3C170.3,576.5 171.7,574.8 173.2,574.3C174.6,573.8 176.9,574 178.2,575.3C179.4,576.6 180.6,580 180.6,582.3C180.6,584.7 179.4,588 178.2,589.4C176.9,590.7 174.6,591 173.2,590.4C171.7,589.7 170.3,587.3 169.7,585.3C169.2,583.3 169.2,580.2 169.7,578.3Z" fill="#ffc03c"/>
<path d="M56.1,551.4C59,549.7 69.4,551.1 73.6,551.9C77.9,552.8 79.3,554.5 81.4,556.2C83.5,557.9 86,560.6 86.3,562.1C86.6,563.5 85.5,564.7 83.4,565C81.3,565.3 78.2,564.5 73.6,564C69.1,563.5 59,564.2 56.1,562.1C53.2,560 53.2,553.1 56.1,551.4Z" fill="#ffc03c"/>
<path d="M42.5,601C52.9,593.2 59,600.4 63.9,599.1C68.8,597.8 69.1,595.2 71.7,593.2C74.3,591.3 76.6,589.2 79.5,587.4C82.4,585.6 86,583.7 89.2,582.5C92.5,581.4 95.4,581.1 99,580.6C102.5,580.1 107.4,580.4 110.6,579.6C113.9,578.8 117.5,577.7 118.4,575.7C119.4,573.8 116.5,570 116.5,567.9C116.5,565.8 116.8,564.2 118.4,563.1C120.1,561.9 123.5,560.9 126.2,561.1C129,561.3 133.3,564.8 135,564C136.7,563.2 135.7,558.8 136.4,556.2C137,553.6 137.8,550.7 138.9,548.4C140,546.2 141.5,544.7 142.8,542.6C144.1,540.5 145.6,538.2 146.7,535.8C147.8,533.3 148.5,530.7 149.6,528C150.7,525.2 151.7,521.7 153.1,519.2C154.6,516.8 156.2,514.8 158.4,513.4C160.6,511.9 163.6,510.8 166.2,510.5C168.8,510.1 172,510.3 174,511.4C175.9,512.6 177.5,515 177.9,517.3C178.2,519.5 177.2,522.5 175.9,525.1C174.6,527.7 172,529.9 170.1,532.9C168.1,535.8 166.2,539.7 164.2,542.6C162.3,545.5 160.1,547.8 158.4,550.4C156.7,553 154.8,555.3 153.9,558.2C153,561.1 153,565 153.1,567.9C153.2,570.8 153.6,572.8 154.5,575.7C155.4,578.6 156.8,582.2 158.4,585.5C160,588.7 162.1,592.4 164.2,595.2C166.3,598 168.3,599.9 171,602C173.8,604.1 177.7,605.4 180.8,607.9C183.9,610.3 186.9,613.5 189.5,616.6C192.1,619.7 194.8,623.1 196.4,626.4C197.9,629.6 198,633.4 198.7,636.1C199.4,638.9 200.8,639.8 200.7,642.9C200.6,645.9 198.8,651.1 198.2,654.4C197.7,657.7 197.3,660.2 197.4,662.7C197.5,665.2 198.1,667.8 199,669.3C200,670.8 201.4,671.4 203.2,671.8C205,672.2 207.3,672.3 209.8,671.8C212.3,671.2 215.6,670 218.1,668.5C220.5,667 223,665 224.7,662.7C226.4,660.3 227.3,656.8 228.3,654.4C229.3,652.1 228.9,650 230.5,648.6C232.1,647.3 235.4,646.7 237.9,646.5C240.4,646.3 243.5,646.4 245.3,647.5C247.2,648.5 248.6,650.5 249.1,652.8C249.7,655 248.7,658.1 248.6,661C248.6,663.9 247.7,667.6 248.6,670.1C249.6,672.6 251.8,674.8 254.4,675.9C257,677 262.9,676.4 264.3,676.7C265.7,677.1 261.2,677.9 262.9,678C264.6,678 270.6,676.7 274.5,677C278.4,677.3 282.3,679.3 286.2,679.9C290.1,680.6 294,681.1 297.9,680.9C301.8,680.7 305.7,679.3 309.6,679C313.5,678.6 317.4,679.1 321.3,679C325.2,678.8 328.8,678.6 333,678C337.2,677.3 342.7,676.2 346.6,675.1C350.5,673.9 353.4,673.1 356.4,671.2C359.3,669.2 361.2,666 364.2,663.4C367.1,660.8 370.7,657.7 373.9,655.6C377,653.5 378.8,652 383.1,650.7C387.3,649.4 393.9,633.3 399.2,647.8C404.5,662.2 415.5,709.5 414.8,737.4C414.2,765.3 457,802.3 395.3,815.3C333.6,828.3 110.3,843.6 44.7,815.3C-21,787.1 1.9,681.6 1.6,645.8C1.2,610.1 32.1,608.8 42.5,601Z" fill="#ffc03c"/>
<path d="M107.7,614.7C108.2,612.1 110.2,610.1 112.6,608.8C115,607.5 118.8,606.6 122.3,606.9C125.9,607.2 130.5,609.2 134,610.8C137.6,612.4 140.8,614.4 143.8,616.6C146.7,618.9 149,621.5 151.6,624.4C154.2,627.3 157.1,630.7 159.4,634.2C161.6,637.6 163.4,642.5 165.2,645.1C167,647.7 169.1,646.7 170.1,649.7C171,652.8 171.2,658.5 171,663.4C170.9,668.2 169.7,674.4 169.1,679C168.4,683.5 167.5,684.2 167.1,690.6C166.8,697.1 184.4,713.4 167.1,717.9C149.9,722.5 84.7,717.9 63.9,717.9C43.1,717.9 46,722.7 42.5,717.9C38.9,713.1 38.9,694 42.5,689.1C46,684.2 59.4,688.9 63.9,688.7C68.4,688.5 67.1,688.2 69.7,687.7C72.3,687.2 76.2,685.9 79.5,685.8C82.7,685.6 86,686.9 89.2,686.8C92.5,686.6 96,686.1 99,684.8C101.9,683.5 104.8,681.2 106.8,679C108.7,676.7 109.4,674.1 110.6,671.2C111.9,668.2 113.4,664.7 114.5,661.4C115.7,658.2 117.1,655.3 117.5,651.7C117.8,648.1 117.3,642.9 116.5,640C115.7,637.1 113.7,636.8 112.6,634.2C111.5,631.6 110.5,627.7 109.7,624.4C108.9,621.2 107.2,617.3 107.7,614.7Z" fill="#ffe878"/>
<path d="M197.9,632.9C200,634.3 198.3,639.3 197.9,642.9C197.5,646.4 195.9,651 195.2,654.4C194.6,657.9 194.1,660.8 194.1,663.5C194.1,666.3 194.3,668.7 195.2,671C196.2,673.2 197.7,674.9 199.9,676.7C202,678.5 205.4,680.6 208.1,681.7C210.9,682.8 214.5,683.8 216.4,683.3C218.3,682.9 218.6,680.6 219.7,679.2C220.8,677.8 221.4,675.9 223,675.1C224.7,674.3 227.7,674 229.6,674.3C231.6,674.5 233.2,675.5 234.6,676.7C236,678 238.1,681.5 237.9,681.7C237.7,681.9 233.4,677.3 233.6,678C233.9,678.7 236.9,683.5 239.5,685.8C242.1,688.1 245.6,690.2 249.2,691.6C252.8,693.1 257,693.9 260.9,694.5C264.8,695.2 269,694.9 272.6,695.5C276.2,696.2 279.4,697.1 282.3,698.4C285.3,699.7 287.7,702 290.1,703.3C292.6,704.6 295,706.2 296.9,706.2C298.9,706.2 299.4,704.6 301.8,703.3C304.3,702 308,699.7 311.6,698.4C315.1,697.1 319,696.5 323.2,695.5C327.5,694.5 332,693.4 336.9,692.6C341.8,691.8 347.3,691.3 352.5,690.6C357.7,690 363,689 368.1,688.7C373.1,688.4 377.9,688.7 383.1,688.7C388.2,688.7 396.5,680.6 399.2,688.7C401.9,696.8 429.1,729.3 399.2,737.4C369.4,745.5 255.7,749 220,737.4C184.3,725.8 190.8,684.8 185,667.6C179.2,650.5 182.9,640.4 185,634.6C187.1,628.8 195.7,631.6 197.9,632.9Z" fill="#ffe878"/>
<path d="M238.2,658.6C238.7,657.8 240.4,657.1 241.2,657.4C242,657.7 243.2,659.3 243.2,660.2C243.2,661.1 242,662.4 241.2,662.7C240.4,663 239,662.5 238.6,661.9C238.1,661.2 237.8,659.3 238.2,658.6Z" fill="#ffe878"/>
<path d="M142.8,546.5C144,543.9 145.2,541.6 146.7,538.7C148.1,535.8 149.8,531.6 151.6,529C153.3,526.4 155.3,524.3 157.4,523.1C159.5,522 162.6,521.2 164.2,522.1C165.8,523.1 167.3,526.2 167.1,529C167,531.7 164.7,535.8 163.2,538.7C161.8,541.6 160.3,543.9 158.4,546.5C156.4,549.1 153.3,551.7 151.6,554.3C149.8,556.9 148.2,559.2 147.7,562.1C147.1,565 147.4,568.6 148.1,571.8C148.7,575.1 150.3,578.3 151.6,581.6C152.9,584.8 154.1,588.4 155.8,591.3C157.6,594.2 160.1,597 162.3,599.1C164.5,601.2 166.7,602.3 169.1,604C171.5,605.6 174.3,606.7 176.9,608.8C179.5,610.9 182.2,614 184.7,616.6C187.1,619.2 189.7,621.5 191.5,624.4C193.3,627.3 194.6,630.7 195.4,634.2C196.2,637.6 199.8,643.2 196.4,645.1C193,646.9 178.8,647.5 174.9,645.1C171,642.6 174.1,633.9 173,630.3C171.9,626.7 169.9,625.4 168.1,623.4C166.3,621.5 164.2,620.5 162.3,618.6C160.3,616.6 158.2,614.2 156.4,611.8C154.6,609.3 153,606.7 151.6,604C150.1,601.2 148.9,598.1 147.7,595.2C146.4,592.3 145.2,589.2 144.2,586.4C143.1,583.7 142.3,581.4 141.4,578.6C140.6,575.9 139.4,572.6 138.9,569.9C138.4,567.1 138.2,564.7 138.3,562.1C138.4,559.5 138.7,556.9 139.5,554.3C140.2,551.7 141.6,549.1 142.8,546.5Z" fill="#ffe878"/>
<path d="M144.9,548.4C144.1,549.3 142.6,553.6 141.8,556.2C141,558.8 140.4,561.4 140.3,564C140.1,566.6 140.4,569.2 140.8,571.8C141.3,574.4 142,577 142.8,579.6C143.6,582.2 144.6,584.6 145.7,587.4C146.9,590.2 148.3,593.4 149.6,596.2C150.9,598.9 152,601.4 153.5,604C155,606.6 156.8,609.6 158.4,611.8C160,613.9 161.5,615.5 163.2,617C165,618.5 167.3,619.4 169.1,620.9C170.9,622.5 172.8,624.2 174,626.4C175.1,628.6 175.5,631 175.9,634.2C176.3,637.3 176.8,642.1 176.3,645.1C175.8,648 173.9,648.6 173,651.7C172,654.7 171.4,659.5 170.6,663.4C169.9,667.3 169.2,671.2 168.7,675.1C168.2,679 168.4,684.1 167.7,686.8C167,689.4 165.5,690.7 164.4,691C163.3,691.4 162.1,690.1 161.3,688.7C160.5,687.3 160.2,684.8 159.4,682.9C158.5,680.9 157.7,677.3 156.4,677C155.1,676.7 153.3,679.8 151.6,680.9C149.8,682 148,682.5 145.7,683.8C143.4,685.1 140.8,686.9 137.9,688.7C135,690.5 131.4,692.4 128.2,694.5C124.9,696.7 122,699.3 118.4,701.4C114.9,703.5 110.6,705.9 106.8,707.2C102.9,708.5 99.6,709 95.1,709.2C90.5,709.3 84.7,708.5 79.5,708.2C74.3,707.9 70.1,707.4 63.9,707.2C57.7,707 52.9,698.9 42.5,707.2C32.1,715.5 1.6,738.9 1.6,756.9C1.6,774.9 3.5,805.6 42.5,815.3C81.4,825.1 173.3,825.1 235.3,815.3C297.4,805.6 387.5,775.6 414.8,756.9C442.1,738.1 404.5,711.8 399.2,702.7C393.9,693.6 387.6,702.7 383.1,702.3C378.5,702 375.7,700.8 371.9,700.8C368.1,700.8 364.8,701.6 360.3,702.3C355.7,703.1 349.9,704.3 344.7,705.3C339.5,706.2 334.3,707 329.1,708.2C323.9,709.3 318.1,710.8 313.5,712.1C309,713.4 306.4,715.3 301.8,716C297.3,716.6 291.1,716.6 286.2,716C281.4,715.3 277.1,713.5 272.6,712.1C268.1,710.6 263.5,709.2 259,707.2C254.4,705.3 249.9,702.7 245.3,700.4C240.8,698.1 233.5,694.6 231.7,693.6C229.9,692.6 235.8,694.9 234.6,694.4C233.4,694 228,691.9 224.7,690.8C221.4,689.6 218.1,688.6 214.8,687.5C211.4,686.4 207.7,685.6 204.8,684.2C201.9,682.8 199.5,681.1 197.4,679.2C195.3,677.3 193.5,675.1 192.4,672.6C191.4,670.1 191.4,667.4 191.3,664.3C191.2,661.3 191.5,658 191.9,654.4C192.4,650.8 193.5,646.4 194.1,642.9C194.6,639.3 195.7,636.2 195.2,632.9C194.8,629.6 193.3,625.5 191.6,623C189.9,620.5 186.5,619.1 185,618.1C183.5,617 184.4,618.2 182.7,616.6C181,615.1 177.5,610.9 174.9,608.8C172.3,606.7 169.4,605.6 167.1,604C164.9,602.3 162.9,600.9 161.3,599.1C159.7,597.3 158.7,595.5 157.4,593.2C156.1,591 154.8,588.1 153.5,585.5C152.2,582.9 150.9,579.9 149.6,577.7C148.3,575.4 146.6,573.9 145.7,571.8C144.8,569.7 144.2,567.4 144.2,565C144.1,562.6 144.8,559.5 145.3,557.2C145.8,554.9 147.1,552.8 147.1,551.4C147,549.9 145.8,547.6 144.9,548.4Z" fill="#78b9fa" stroke="#0c8a1e" stroke-width="1.3"/>
<path d="M153.9,542.2C153.6,541.1 153.5,537.7 153.9,535.8C154.3,533.9 155.5,532 156.4,530.9C157.4,529.8 158.8,529 159.7,529C160.7,528.9 162,529.5 162.3,530.5C162.5,531.6 161.9,533.7 161.3,535.2C160.6,536.7 159.3,538.4 158.4,539.7C157.5,540.9 156.6,542.2 155.8,542.6C155.1,543 154.2,543.3 153.9,542.2Z" fill="#78b9fa" stroke="#0c8a1e" stroke-width="1.3"/>
<path d="M154.5,659.5C154.9,657.8 156.4,656 157.4,655.2C158.4,654.4 159.7,653.6 160.3,654.6C161,655.6 161.3,659.2 161.3,661.4C161.3,663.7 161,666.8 160.3,668.2C159.6,669.7 157.9,670.7 157,670.2C156.1,669.7 155.3,667.1 154.9,665.3C154.4,663.5 154.1,661.2 154.5,659.5Z" fill="#78b9fa" stroke="#0c8a1e" stroke-width="1.3"/>
<path d="M42.5,726.1C52.9,720.9 58.4,726.1 63.9,725.7C69.4,725.3 71.4,724.3 75.6,723.8C79.8,723.3 84.7,723.1 89.2,722.8C93.8,722.5 98.6,722.5 102.9,721.8C107.1,721.2 110.6,720 114.5,718.9C118.4,717.8 122.3,716.3 126.2,715C130.1,713.7 134.4,712.4 137.9,711.1C141.5,709.8 144.7,708.7 147.7,707.2C150.6,705.7 153.2,704 155.5,702.3C157.7,700.7 159,698.4 161.3,697.5C163.6,696.5 166.5,696.7 169.1,696.5C171.7,696.3 174.3,696 176.9,696.1C179.5,696.2 182.6,696.7 184.7,696.9C186.8,697.1 187.6,697 189.5,697.5C191.5,697.9 193.6,699.1 196.4,699.4C199.1,699.8 202.9,699.7 206.1,699.6C209.4,699.5 213.5,699 215.8,698.8C218.1,698.6 219.2,698.5 219.9,698.4C220.6,698.4 218.4,698 220,698.4C221.6,698.9 226.2,699.7 229.7,701.4C233.3,703 237.5,705.6 241.4,708.2C245.3,710.8 249.2,714.5 253.1,716.9C257,719.4 260.6,721.5 264.8,722.8C269,724.1 273.6,723.9 278.4,724.7C283.3,725.6 289.5,727.5 294,727.7C298.6,727.8 301.2,726.7 305.7,725.7C310.3,724.7 316.1,723.1 321.3,721.8C326.5,720.5 331.7,719.2 336.9,717.9C342.1,716.6 347.9,715 352.5,714C357,713.1 360.3,712.2 364.2,712.1C368.1,711.9 372.7,712.6 375.8,713.1C379,713.5 379.2,714.5 383.1,715C386.9,715.5 393.9,705.7 399.2,716C404.5,726.2 415.5,759.8 414.8,776.4C414.2,792.9 457,808.8 395.3,815.3C333.6,821.8 110.3,825.1 44.7,815.3C-21,805.6 1.9,771.8 1.6,756.9C1.2,742 32.1,731.3 42.5,726.1Z" fill="#3c96f5"/>
<path d="M42.5,742.3C52.9,736.6 58.4,742.1 63.9,742.3C69.4,742.4 71.4,742.8 75.6,743.2C79.8,743.7 84.7,744.5 89.2,745.2C93.8,745.8 98.6,747.1 102.9,747.1C107.1,747.1 110.6,746.3 114.5,745.2C118.4,744.1 122.3,741.9 126.2,740.3C130.1,738.7 134.7,736.9 137.9,735.5C141.2,734 143.4,733.2 145.7,731.6C148,729.9 149.6,728 151.6,725.7C153.5,723.4 155.6,720.8 157.4,717.9C159.2,715 161.1,709.3 162.3,708.2C163.5,707.1 163.5,712.2 164.6,711.4C165.6,710.7 167.2,706.7 168.3,703.9C169.4,701.1 170.4,697.6 171.2,694.4C172,691.3 172.6,687.8 173.1,685C173.5,682.2 172.3,678.7 174,677.4C175.7,676.2 181.7,676.2 183.4,677.4C185.1,678.7 184.3,682.5 184.2,685C184.1,687.5 183.4,690 183.1,692.6C182.7,695.1 182,697.6 181.9,700.1C181.9,702.6 181.9,705.1 182.7,707.7C183.5,710.2 185.9,712.4 186.8,715.2C187.8,718.1 188.3,721.5 188.2,724.7C188.1,727.8 186.4,731.6 186.3,734.1C186.1,736.6 185.5,739.5 187.2,739.8C189,740.1 193.5,737.9 196.7,736C199.8,734.1 203,731 206.1,728.4C209.3,725.9 213.2,722.8 215.6,720.9C217.9,719 218,717.4 220,716.9C222,716.5 225.2,716.9 227.8,717.9C230.4,718.9 233,720.5 235.6,722.8C238.2,725.1 240.8,728.8 243.4,731.6C246,734.3 248.6,737.4 251.2,739.4C253.8,741.3 256,743.1 259,743.2C261.9,743.4 265.5,740.5 268.7,740.3C271.9,740.2 275.2,741.5 278.4,742.3C281.7,743.1 284.3,744.9 288.2,745.2C292.1,745.5 297.6,745.2 301.8,744.2C306,743.2 309.6,740.6 313.5,739.4C317.4,738.1 320.6,737.4 325.2,736.4C329.7,735.5 335.6,734.8 340.8,733.5C346,732.2 351.8,729.9 356.4,728.6C360.9,727.3 363.6,726 368.1,725.7C372.5,725.4 377.9,726.7 383.1,726.7C388.2,726.7 393.9,717.4 399.2,725.7C404.5,734 415.5,761.4 414.8,776.4C414.2,791.3 457,808.8 395.3,815.3C333.6,821.8 110.3,821.8 44.7,815.3C-21,808.8 1.9,788.5 1.6,776.4C1.2,764.2 32.1,748 42.5,742.3Z" fill="#1e6eeb"/>
<path d="M42.5,767.6C52.9,762.9 58.4,767.1 63.9,767.6C69.4,768.1 71.4,769.4 75.6,770.5C79.8,771.7 84.7,773.1 89.2,774.4C93.8,775.7 98,777.5 102.9,778.3C107.7,779.1 113.6,779.4 118.4,779.3C123.3,779.1 127.9,778.1 132.1,777.3C136.3,776.5 140.6,774.9 143.8,774.4C147,774 148.5,775.1 151.3,774.7C154.2,774.3 158.6,773.3 160.8,771.9C163,770.5 163.8,768.7 164.6,766.2C165.3,763.7 165.2,759.9 165.5,756.8C165.8,753.6 166.1,750.5 166.4,747.3C166.8,744.2 167.1,741 167.4,737.9C167.7,734.7 167.9,731.6 168.3,728.4C168.8,725.3 169.1,721.5 170.2,719C171.3,716.5 173.2,713.8 174.9,713.3C176.7,712.9 179.2,714.6 180.6,716.2C182,717.7 183.2,720.1 183.4,722.8C183.7,725.5 182.5,729.1 181.9,732.2C181.4,735.4 180.6,738.5 180,741.7C179.5,744.8 178.8,748.4 178.7,751.1C178.7,753.8 177.9,756.2 179.7,757.7C181.4,759.3 185.7,760.4 189.1,760.6C192.6,760.7 196.7,760.2 200.4,758.7C204.2,757.1 208.6,753.3 211.8,751.1C214.9,748.9 216.8,746.9 219.3,745.4C221.9,744 223.7,742.6 226.9,742.6C230,742.6 234.5,744 238.2,745.4C242,746.9 246.1,749.5 249.6,751.1C253,752.7 255.9,754.9 259,754.9C262,755 264.8,752.4 267.7,751.4C270.6,750.5 273.4,748.8 276.5,749.1C279.6,749.4 282.7,751.7 286.2,753C289.8,754.3 293.4,756.1 297.9,756.9C302.5,757.7 308.3,757.4 313.5,757.9C318.7,758.3 323.9,759.6 329.1,759.8C334.3,760 339.5,759.6 344.7,758.8C349.9,758 355.7,756.9 360.3,754.9C364.8,753 368.1,749.7 371.9,747.1C375.7,744.5 378.5,741.3 383.1,739.4C387.6,737.4 393.9,726 399.2,735.5C404.5,744.9 415.5,782.5 414.8,795.8C414.2,809.2 457,812.1 395.3,815.3C333.6,818.6 110.3,818.6 44.7,815.3C-21,812.1 1.9,803.8 1.6,795.8C1.2,787.9 32.1,772.3 42.5,767.6Z" fill="#1464d2"/>
<path d="M177.8,805.9C178.7,795.5 181.6,797.1 183.4,792.7C185.3,788.3 186.9,782.8 189.1,779.5C191.3,776.1 193.5,774.3 196.7,772.8C199.8,771.4 204.2,771.6 208,771C211.8,770.3 215.6,769.7 219.3,769.1C223.1,768.4 226.9,767.7 230.7,767.2C234.5,766.6 238.2,766.2 242,765.9C245.8,765.5 249.6,765.5 253.3,765.3C257.1,765 261.2,765 264.7,764.3C268.1,763.7 271.3,762.4 274.1,761.5C277,760.6 279.7,759.3 281.7,758.7C283.7,758.1 283.5,757.7 286.2,757.9C288.9,758 293.4,759.2 297.9,759.8C302.5,760.5 308.3,761.3 313.5,761.8C318.7,762.2 323.9,762.7 329.1,762.7C334.3,762.7 339.5,762.4 344.7,761.8C349.9,761.1 355.7,759.8 360.3,758.8C364.8,757.9 368.1,756.7 371.9,755.9C375.7,755.1 378.5,754.3 383.1,754C387.6,753.6 393.9,747 399.2,754C404.5,760.9 415.5,785.6 414.8,795.8C414.2,806.1 434.8,805.5 395.3,815.3C355.8,825.2 214,856.6 177.8,855C141.5,853.4 176.8,816.3 177.8,805.9Z" fill="#1c50cc"/>
<path d="M171.2,736C172.1,736.5 173.6,739.5 174,741.7C174.4,743.9 174.1,747 173.6,749.2C173.2,751.4 172.1,754.3 171.2,754.9C170.3,755.5 168.9,754.6 168.3,753C167.8,751.4 167.9,747.8 168,745.4C168,743.1 168.2,740.4 168.7,738.8C169.2,737.3 170.3,735.5 171.2,736Z" fill="#1c50cc"/>
<path d="M231.7,795.8C228.1,793.4 235.6,792.8 237.5,791C239.5,789.2 241.1,786.5 243.4,785.1C245.6,783.7 247.9,782.8 251.2,782.6C254.4,782.4 259,783.7 262.9,783.8C266.8,783.9 271.1,783.3 274.5,783.2C278,783.1 281.6,781.9 283.3,783.2C285,784.5 284.4,788.9 284.7,791C285,793.1 289.5,793.4 285.3,795.8C281,798.3 267.9,805.6 259,805.6C250,805.6 235.3,798.3 231.7,795.8Z" fill="#483cc8" stroke="#0c8a1e" stroke-width="1.3"/>
<path d="M313.5,795.8C310.3,793.4 315.8,792.9 317.4,791C319,789 320.6,786.4 323.2,784.2C325.8,781.9 329.4,779.1 333,777.3C336.6,775.6 340.8,774.3 344.7,773.4C348.6,772.6 353,772.2 356.4,772.1C359.8,772 363.8,771.5 365.1,772.9C366.4,774.2 363.3,778.2 364.2,780.3C365,782.3 366.9,783.6 370,785.1C373.1,786.7 378.8,788.1 383.1,789.6C387.3,791.1 393.3,791.2 395.3,793.9C397.4,796.6 405.1,803.6 395.3,805.6C385.6,807.5 350.5,807.2 336.9,805.6C323.2,804 316.8,798.3 313.5,795.8Z" fill="#483cc8" stroke="#0c8a1e" stroke-width="1.3"/>
<path d="M298.9,774C299.2,773.4 303.4,772.6 305.7,772.5C308,772.4 311.7,772.6 312.5,773.4C313.3,774.3 312,776.9 310.6,777.3C309.1,777.8 305.7,776.9 303.8,776.4C301.8,775.8 298.6,774.7 298.9,774Z" fill="#1c50cc" stroke="#0c8a1e" stroke-width="1.3"/>
<path d="M144.6,583C144.2,584.4 146.3,588.7 147.5,591.6C148.8,594.4 150.3,597.3 152.1,600.1C153.8,603 155.8,606.1 157.8,608.7C159.8,611.4 161.8,613.9 163.9,615.9C165.9,617.9 168.2,619.2 170.1,620.9C171.9,622.6 173.8,623.9 175,625.9C176.1,628 176.6,630.2 177.1,633.1C177.5,636 177.9,639.5 177.7,643.1C177.6,646.8 177.2,652.3 176.3,655C175.3,657.7 173,657.1 172.1,659.5C171.2,661.9 171.1,666 171,669.2C171,672.5 171.6,675.7 171.9,679C172.2,682.2 172.5,685.5 172.8,688.7C173,691.9 171.6,696.8 173.2,698.4C174.8,700.1 180.8,700.1 182.5,698.4C184.2,696.8 182.9,691.9 183.4,688.7C183.8,685.5 184.4,682.2 185,679C185.5,675.7 186,672.5 186.6,669.2C187.2,666 187.7,661.9 188.5,659.5C189.2,657.1 190.4,657.7 191.2,655C191.9,652.3 192.6,646.8 192.8,643.1C193.1,639.5 193.1,636 192.8,633.1C192.5,630.2 191.9,628 191,625.9C190.1,623.9 188.7,622.6 187.3,620.9C185.9,619.2 185,617.9 182.8,615.9C180.5,613.9 177.2,611.4 173.8,608.7C170.4,606.1 165.4,603 162.4,600.1C159.4,597.3 158,594.4 155.9,591.6C153.8,588.7 151.6,584.4 149.8,583C147.9,581.5 145,581.5 144.6,583Z" fill="#3c96f5"/>
<path d="M150.1,591.6C150,593 151.6,597.3 153.2,600.1C154.8,603 157.5,606.1 159.6,608.7C161.7,611.4 163.9,613.9 166,615.9C168.1,617.9 170.2,619.2 172,620.9C173.8,622.6 175.6,623.9 176.8,625.9C177.9,628 178.4,630.2 178.8,633.1C179.3,636 179.6,639.5 179.4,643.1C179.3,646.8 178.8,652.3 177.9,655C177,657.7 174.8,657.1 174,659.5C173.1,661.9 172.9,666 172.8,669.2C172.7,672.5 173.2,675.7 173.4,679C173.6,682.2 173.8,685.5 173.9,688.7C174.1,691.9 173,696.8 174.2,698.4C175.5,700.1 180.2,700.1 181.5,698.4C182.8,696.8 181.8,691.9 182.2,688.7C182.5,685.5 183.1,682.2 183.5,679C184,675.7 184.4,672.5 184.9,669.2C185.4,666 185.9,661.9 186.6,659.5C187.4,657.1 188.7,657.7 189.5,655C190.2,652.3 190.9,646.8 191.1,643.1C191.4,639.5 191.3,636 191,633.1C190.7,630.2 190.1,628 189.2,625.9C188.3,623.9 186.8,622.6 185.4,620.9C183.9,619.2 182.9,617.9 180.6,615.9C178.4,613.9 175.3,611.4 172,608.7C168.8,606.1 164.3,603 161.2,600.1C158.1,597.3 155.2,593 153.3,591.6C151.5,590.1 150.1,590.1 150.1,591.6Z" fill="#1e6eeb"/>
<path d="M165.7,608.7C166,609.9 168.6,613.9 170.2,615.9C171.8,617.9 173.7,619.2 175.3,620.9C176.9,622.6 178.7,623.9 179.8,625.9C180.9,628 181.4,630.2 181.8,633.1C182.2,636 182.4,639.5 182.3,643.1C182.1,646.8 181.6,652.3 180.7,655C179.9,657.7 177.9,657.1 177,659.5C176.2,661.9 175.9,666 175.7,669.2C175.5,672.5 174.7,677.3 175.8,679C177,680.6 181.4,680.6 182.7,679C184,677.3 183.4,672.5 183.9,669.2C184.4,666 184.8,661.9 185.6,659.5C186.4,657.1 187.8,657.7 188.5,655C189.3,652.3 189.9,646.8 190.2,643.1C190.4,639.5 190.4,636 190,633.1C189.7,630.2 189.2,628 188.2,625.9C187.2,623.9 185.8,622.6 184.3,620.9C182.7,619.2 181.5,617.9 178.8,615.9C176.1,613.9 170.1,609.9 167.9,608.7C165.8,607.5 165.3,607.5 165.7,608.7Z" fill="#1464d2"/>
<path d="M183.4,625.9C183.2,627.1 184.8,630.2 185.1,633.1C185.5,636 185.7,639.5 185.5,643.1C185.3,646.8 184.7,652.3 183.9,655C183.1,657.7 180.4,658.7 180.5,659.5C180.5,660.2 183.1,660.2 184.2,659.5C185.3,658.7 186.5,657.7 187.2,655C188,652.3 188.6,646.8 188.9,643.1C189.1,639.5 189,636 188.7,633.1C188.3,630.2 187.4,627.1 186.6,625.9C185.7,624.7 183.7,624.7 183.4,625.9Z" fill="#1c50cc"/>
<path d="M181.8,657.5C181.7,656.3 182,653.2 182.3,651.7C182.7,650.1 183.4,648.2 183.9,648.2C184.4,648.2 185,650.1 185.1,651.7C185.1,653.2 184.7,656.3 184.3,657.5C183.9,658.8 183.1,659.1 182.7,659.1C182.3,659.1 181.8,658.8 181.8,657.5Z" fill="#483cc8" stroke="#0c8a1e" stroke-width="1.1"/>
<path d="M148.4,519.0L150.5,521.7L152.6,517.8L154.8,515.4L155.1,511.4L157.6,509.5L159.7,508.7L162.9,508.7L166.9,506.3L170.1,504.3L170.4,506.7L167.9,509.9L169.3,510.6L171.1,509.1L174.0,507.9L175.4,505.1L176.1,507.9L180.4,509.1L181.1,511.4L188.2,511.4L192.1,513.4L195.3,511.8L199.6,511.0L203.5,511.0L200.6,512.6L201.3,514.6L206.7,515.8L207.4,517.8L210.2,519.7L211.0,520.9L215.6,524.5L216.6,526.5L220.2,529.6L224.5,530.4L227.7,530.0L231.6,530.4L235.5,532.4L237.6,534.0L239.8,536.8L241.9,538.0L243.0,542.3L245.8,546.3L246.2,549.4L244.4,552.2L242.6,554.6L245.1,554.2L248.3,553.8L251.5,554.6L250.8,558.5L252.9,556.2L255.0,555.8L260.0,557.8L264.6,560.1L265.7,563.7L269.6,562.9L275.0,564.5L279.6,564.5L284.9,566.9L286.7,568.0L291.0,572.0L295.6,573.6L298.1,574.0L299.1,577.2L299.9,581.5L299.5,585.5L298.1,589.8L295.6,593.0L294.2,595.0L291.7,597.7L289.9,601.3L286.7,604.9L284.9,608.0L284.9,612.8L285.3,616.7L284.2,622.7L282.4,626.6L282.1,631.0L280.3,633.8L278.2,637.7L277.8,640.5L274.2,644.1L270.0,644.5L265.0,645.6L262.2,647.6L259.0,648.4L253.6,652.4L251.1,655.5L250.8,659.5L250.8,663.5L250.1,666.6L246.9,669.4L244.7,673.8L241.5,678.1L238.3,680.9L236.6,684.4L233.7,687.2L232.3,689.6L228.4,691.6L223.8,691.6L218.1,690.0L215.9,688.0L215.9,690.4L220.2,693.9L220.6,697.1L222.0,699.5L219.1,703.8L214.9,706.2L210.2,707.4L204.9,707.8L202.8,707.0L202.1,711.8L202.4,714.1L196.7,716.5L192.1,714.9L192.5,717.7L196.0,720.9L197.4,722.8L194.2,723.2L192.5,724.8L191.4,730.0L187.1,732.3L183.6,735.5L183.6,737.9L188.9,740.3L189.6,743.0L183.6,747.4L180.0,752.1L177.5,755.3L180.4,760.5L176.5,761.2L171.5,762.4L171.5,766.4L167.6,765.6L162.9,763.2L158.7,760.5L156.9,755.3L155.8,751.4L155.1,745.4L154.8,739.5L158.7,735.5L160.5,729.6L162.2,723.6L161.2,719.7L161.5,715.7L162.2,711.8L163.3,707.8L161.9,701.9L163.3,699.9L164.7,695.1L167.6,690.0L169.0,684.0L169.3,676.1L169.7,671.8L170.1,666.2L171.5,660.3L172.5,654.4L173.3,646.8L174.0,640.5L174.3,633.4L173.6,626.6L170.1,623.5L165.1,619.5L158.7,615.6L153.7,611.2L152.3,608.0L149.4,601.3L147.3,596.9L144.5,591.0L142.7,585.9L139.5,580.7L135.2,577.2L134.5,572.0L137.3,567.3L139.1,565.3L139.5,562.5L135.9,562.5L136.6,557.4L137.7,555.0L138.8,550.2L143.0,547.5L144.1,543.1L148.0,539.5L149.1,537.6L148.0,531.6L148.4,527.7L146.6,524.9ZM146.6,524.9L144.8,521.7L145.9,520.1L140.9,517.8L137.7,520.5L139.1,523.7L135.9,524.9L133.1,522.9L128.8,520.9L126.0,519.4L126.3,516.6L122.4,515.4L121.0,515.4L118.5,512.2L118.9,509.5L116.0,505.9L112.8,502.3L108.9,501.1L104.3,500.0L98.6,498.4L95.7,496.0L91.1,491.6L87.6,489.3M148.4,519.0L144.5,516.2L140.5,515.8L135.6,518.6L131.3,517.8L128.5,513.8L126.0,509.9L126.0,503.9L127.0,498.0L127.7,494.0L124.9,491.6L121.3,490.5M179.7,761.6L181.1,764.4L183.6,767.2L187.1,769.2L191.7,770.0L187.1,771.1L181.8,772.3L176.5,772.3L171.1,770.4L167.6,768.4L171.1,767.2L173.6,765.2L173.3,762.4L176.5,761.6L179.7,761.6M206.0,758.5L210.2,756.5L214.5,756.9L218.1,757.7L215.6,759.7L211.7,760.1L208.1,759.7L206.0,758.5M288.5,767.2L292.0,768.0L295.6,769.6L296.3,770.4L292.7,769.2L288.5,767.2M364.9,490.1L363.9,494.0L361.4,495.2L363.9,498.8L363.9,503.9L366.7,506.7L370.3,509.9L371.3,512.6L374.9,515.8L376.7,519.7L379.1,523.7L382.7,526.1L386.3,528.9M203.5,513.4L207.0,513.4L206.7,510.6L204.2,511.0L203.5,513.4M97.9,554.6L100.0,554.2L100.4,557.0L98.6,557.4L97.9,554.6M101.8,555.4L102.8,556.2L102.1,556.6L101.8,555.4M105.0,556.2L106.0,556.6L105.0,557.0M170.1,506.7L165.8,513.8L166.1,519.7L167.6,525.7L174.7,526.1L183.6,528.9L182.5,537.6L185.3,545.5L185.7,548.6M185.7,548.6L176.5,548.6L175.0,555.4L176.8,558.2L174.7,570.0M143.0,547.5L148.0,551.4L155.1,553.8L156.2,557.0L162.2,562.5L167.6,562.9L174.7,570.0M138.1,566.9L138.1,570.8L142.7,573.2L144.8,567.3L151.6,563.3L155.1,559.3L156.2,557.0M174.7,570.0L164.7,573.2L161.2,581.1L164.0,589.0L166.9,593.0L172.5,591.0L172.9,596.9L176.5,596.9M176.5,596.9L179.3,602.9L178.2,610.8L176.5,614.8L178.2,618.7L176.5,622.7L173.6,625.8M176.5,596.9L181.8,595.8L191.4,592.2L191.4,598.9L199.6,603.7L206.7,606.8L209.5,612.8L210.2,617.9L216.3,617.9L216.6,622.7L218.8,624.7L217.0,631.8L216.6,633.4M216.6,633.4L213.4,629.8L204.2,631.0L201.0,641.3M201.0,641.3L194.9,643.7L191.7,640.9L187.8,639.7L184.6,643.7M184.6,643.7L181.8,637.7L180.0,632.6L178.9,628.6L176.5,622.7M184.6,643.7L185.3,648.4L180.4,650.4L180.0,660.3L175.4,668.2L172.9,676.1L174.7,684.0L173.3,692.0L170.4,699.9L171.1,707.8L168.3,715.7L168.3,725.6L169.3,733.5L166.5,741.5L163.3,749.4L166.5,755.3L167.9,759.3L180.4,760.5M201.0,641.3L206.7,647.6L214.5,652.4L218.8,654.0L215.2,661.1L223.4,661.9L229.4,654.8M216.6,633.4L217.7,640.9L225.5,641.7L226.6,648.4L230.5,648.8L229.4,654.8M229.4,654.8L232.3,657.1L232.6,661.1L225.2,665.4L218.8,673.0M218.8,673.0L224.5,675.3L229.8,678.9L234.1,682.9L233.7,687.2M218.8,673.0L216.6,682.1L215.9,688.0M185.7,548.6L190.7,550.2L196.0,545.9L195.3,537.2L200.3,538.4L207.8,532.8M207.8,532.8L205.3,529.6L210.2,520.5M207.8,532.8L210.6,535.6L211.0,544.3L214.5,548.3L222.7,545.9M222.7,545.9L217.4,537.6L220.2,529.6M222.7,545.9L229.4,544.3M229.4,544.3L231.6,530.4M229.4,544.3L236.9,544.7L239.8,536.8M179.7,761.6L179.7,770.7M128.8,520.9L129.9,515.8M118.9,509.5L126.0,510.2M112.8,502.3L117.8,498.4L127.7,494.0M108.9,501.1L106.0,496.4L110.0,491.2M95.7,496.0L98.2,489.7M239.8,536.8L236.9,544.7M229.4,544.3L228.4,553.4L238.7,558.2L245.1,554.2M214.5,548.3L214.2,555.4L222.7,562.5L216.3,582.3L204.9,588.2L191.4,592.2M216.3,582.3L220.9,589.0L242.2,592.2L245.1,604.1L242.2,612.8L235.1,623.9L218.8,624.7M242.2,592.2L248.6,587.1L251.8,574.4L260.0,557.8M251.8,574.4L256.5,583.1L260.0,593.8L260.0,604.9L245.1,604.1M260.0,593.8L266.1,595.4L271.0,590.2L277.8,587.8L279.6,582.3L276.7,565.3M260.0,593.8L260.4,581.1L270.7,579.9L274.2,564.5M277.8,587.8L284.9,587.1L288.5,590.6L294.2,595.0M279.6,582.3L286.0,583.9L291.3,581.9L299.1,579.1M286.0,583.9L292.0,577.2L291.0,572.0M291.3,581.9L295.6,585.1L299.5,583.1M288.5,590.6L293.8,589.0L298.4,588.6M260.0,604.9L260.0,612.8L266.4,610.0L274.2,612.8L281.4,616.0L284.2,624.3M260.0,612.8L255.4,616.7L255.4,625.8L242.6,630.6L242.2,633.4M235.1,623.9L242.2,633.4L235.1,642.5L230.5,648.8M242.2,633.4L254.7,632.6L259.0,643.3L265.0,645.6M266.4,641.7L274.2,636.5L277.8,637.7M274.2,636.5L277.8,626.6L282.4,625.8M235.1,642.5L246.9,644.5L252.9,653.6M232.3,657.1L245.8,656.7L250.8,656.3M232.6,661.1L242.2,663.1L246.9,669.4M161.2,581.1L167.6,589.0L174.7,589.8L186.1,592.2L191.4,592.2M176.8,558.2L184.3,563.3L197.8,562.1L203.1,556.6L204.9,549.8L210.6,549.4M364.9,490.1L372.0,487.7L379.1,494.0L382.7,504.3L374.9,503.5L370.3,509.9M363.9,499.6L373.8,500.3L363.9,501.1M374.9,503.5L364.2,504.3M376.7,517.8L384.5,513.8L386.3,520.5L382.7,526.1M384.5,513.8L382.7,504.3" fill="none" stroke="#a4a4a4" stroke-width="0.7" stroke-linejoin="round"/><path d="M204.6,489.3L205.3,492.4L206.7,495.6L206.7,498.4L206.0,501.1L204.2,505.5M324.0,775.9L328.3,779.1L329.7,783.0L328.3,787.0L325.8,789.4" fill="none" stroke="#a8a8a8" stroke-width="1" stroke-dasharray="1.2,2.2"/><path d="M161.1,719.9L160.6,720.4L160.4,719.5L160.6,719.0L161.1,719.0ZM161.3,717.0L162.5,717.9L161.7,719.5ZM161.0,720.4L160.5,720.4L160.4,719.1L161.1,719.5ZM161.2,719.4L162.7,719.2L162.1,721.4ZM161.5,720.9L161.7,722.8L160.7,722.5ZM163.1,722.6L162.0,722.3L162.8,721.1ZM160.0,720.1L160.5,722.0L160.0,723.5L158.9,723.2L158.7,721.0ZM160.8,721.8L159.0,722.3L159.6,719.0ZM161.0,721.7L160.2,723.9L159.6,721.3ZM160.8,724.0L159.9,724.6L159.5,722.7L160.7,722.2ZM160.5,723.0L160.2,724.0L159.6,723.4L159.9,722.3ZM160.8,722.9L161.3,722.4L161.5,723.1L161.1,723.8ZM161.5,723.9L162.0,725.0L161.5,725.9L160.7,725.9L160.9,724.6ZM160.1,724.1L159.0,723.8L159.7,721.9ZM158.8,725.2L158.3,724.5L158.6,723.5L159.3,723.0L159.7,724.7ZM160.4,723.4L161.0,724.1L160.5,725.0L160.1,724.2ZM159.4,728.6L159.0,726.7L159.4,724.4L160.7,725.5L160.9,728.1ZM159.3,728.0L158.2,727.3L158.5,725.2L159.6,724.9L160.1,726.6ZM159.8,726.9L158.7,728.0L158.7,726.3ZM160.2,727.9L159.6,729.6L158.7,728.7L159.2,727.1ZM161.4,728.0L161.3,730.6L159.6,730.1L160.3,727.8ZM161.2,725.8L162.2,727.9L160.6,729.8L160.0,727.0ZM162.6,729.6L161.7,730.1L161.8,728.5ZM159.5,728.9L160.8,728.5L160.6,731.8ZM160.1,730.3L160.1,732.1L159.2,731.2ZM160.8,730.0L159.4,730.4L160.0,728.1ZM158.5,731.6L160.0,731.1L159.9,733.6ZM156.6,731.6L157.1,731.6L157.3,732.7L156.5,732.7ZM160.7,733.8L160.5,732.5L161.2,732.7ZM161.0,731.5L161.7,731.1L162.4,732.3L161.8,734.0L160.8,733.1ZM160.0,732.9L160.2,734.8L159.1,735.5L158.3,733.9L159.0,732.3ZM159.0,732.0L158.7,733.7L158.0,732.0ZM160.8,735.6L161.1,733.7L161.8,735.5ZM158.3,734.6L158.3,733.1L159.1,734.2ZM159.5,734.0L160.1,732.3L160.9,734.2L159.9,735.9ZM157.4,731.2L158.6,733.4L157.3,735.2L156.1,733.2ZM159.3,735.7L158.4,736.5L158.3,734.5L159.1,734.4ZM159.8,737.0L159.0,737.1L159.3,736.0ZM160.9,734.2L161.6,734.7L161.4,735.7L160.9,735.9L160.4,735.2ZM158.8,736.5L158.2,736.0L158.0,735.0L158.6,734.7L159.4,735.3ZM155.7,734.9L157.5,736.5L155.8,738.4ZM160.8,737.6L160.9,735.6L161.7,736.7ZM156.7,735.3L157.6,735.9L157.1,736.6ZM157.3,739.5L156.2,738.6L156.7,736.7L157.8,736.3L158.1,738.3ZM161.1,739.2L160.5,738.7L160.9,737.8L161.4,738.3ZM156.5,740.1L155.7,739.5L156.3,738.8ZM154.3,738.6L156.3,740.2L154.5,741.8ZM161.6,739.8L160.3,739.7L160.0,737.7L160.9,736.6L161.9,737.5ZM160.8,739.1L161.0,742.0L159.5,740.5ZM156.2,738.6L155.9,739.6L155.4,739.0L155.7,738.3ZM155.8,738.6L156.5,740.5L155.1,740.6ZM159.3,741.0L158.9,740.2L159.2,739.3L159.7,740.0ZM154.1,742.1L155.0,742.6L154.5,743.6ZM158.5,741.4L159.8,739.5L159.7,742.0ZM157.1,743.0L157.4,741.6L158.0,742.7L157.7,744.2ZM155.0,742.8L154.2,745.2L152.8,743.0L154.1,741.7ZM159.7,741.3L160.2,742.5L159.6,743.7L159.0,742.8L158.8,741.4ZM153.4,743.1L153.7,741.2L154.7,741.5L154.4,743.0ZM156.1,742.1L156.9,743.9L155.9,744.3ZM161.4,743.4L161.9,744.8L161.3,745.6L160.6,744.8ZM155.2,747.6L154.1,747.1L154.6,745.0L155.8,745.9ZM161.7,747.8L160.6,748.1L159.9,747.1L160.5,745.9L161.5,745.7ZM160.5,746.7L160.3,745.5L161.2,745.1L161.1,746.5ZM155.8,746.0L156.7,746.4L155.8,748.0ZM157.7,747.3L156.8,747.1L156.7,745.2L157.8,745.6ZM156.4,746.1L156.9,748.3L155.7,748.8L154.9,747.6L155.2,745.4ZM157.5,745.8L158.6,746.1L159.0,747.5L158.4,748.5L157.6,747.9ZM162.0,750.3L160.1,749.6L161.7,746.9ZM158.6,745.4L158.6,747.9L157.7,748.8L157.0,747.8L157.1,745.8ZM162.3,750.6L161.1,750.5L160.8,749.1L161.9,748.3ZM159.0,749.2L159.9,749.6L160.2,750.8L159.7,752.0L158.8,751.1ZM156.0,750.0L155.7,750.6L155.2,750.0L155.7,749.5ZM158.2,749.5L157.7,748.7L158.2,747.5L158.9,748.1L158.8,749.4ZM161.4,749.2L161.9,749.7L161.5,750.3L161.2,750.0ZM154.6,751.9L154.0,750.7L154.9,750.7ZM158.4,750.3L158.4,751.6L157.5,751.4L157.9,750.1ZM158.0,752.7L158.8,749.4L159.9,752.1ZM161.8,751.4L162.3,751.6L162.1,752.6L161.5,752.7L161.4,751.7ZM153.4,751.4L154.6,751.3L154.2,753.2ZM160.0,753.3L160.6,750.6L161.6,752.2ZM155.1,753.7L154.3,754.5L153.2,752.8L154.7,752.0ZM162.6,753.8L161.9,754.7L161.2,754.0L161.6,752.8L162.3,752.5ZM161.7,756.2L160.9,755.9L161.3,754.7ZM162.6,756.6L161.9,756.1L162.1,754.7L162.9,755.3ZM157.9,754.9L157.3,755.8L156.9,754.6L157.3,753.8L157.8,754.0ZM157.5,758.1L156.9,756.1L158.5,756.1ZM159.2,754.4L159.4,755.7L158.5,756.4L157.9,755.1L158.4,753.7ZM157.5,756.1L156.9,755.6L157.2,754.6L158.1,754.9ZM156.7,755.8L157.8,754.8L158.9,755.3L158.4,757.1L157.6,757.3ZM157.3,757.6L156.5,757.0L157.1,755.4L157.7,756.7ZM160.3,755.8L160.3,757.3L159.3,757.4L159.1,755.8L159.8,754.8ZM158.0,755.8L157.9,757.9L156.8,758.0L156.4,756.6L156.9,755.2ZM156.2,758.5L155.2,758.9L155.0,756.9L156.0,757.1ZM161.5,758.3L161.5,756.9L162.5,757.3L162.1,758.8ZM162.6,758.3L163.2,759.3L162.8,761.4L161.8,759.6ZM159.9,761.0L159.0,760.6L159.8,758.8ZM161.7,761.8L160.3,760.9L161.7,758.7ZM160.2,762.8L160.1,759.5L162.0,760.0ZM161.6,759.7L162.1,759.8L162.5,760.5L162.1,761.0L161.6,760.7ZM164.8,759.2L164.6,760.3L164.1,759.7L164.2,758.3ZM159.8,762.4L158.7,763.1L157.6,762.6L157.9,760.4L159.2,760.2ZM160.4,762.0L160.4,760.7L160.9,760.3L161.8,760.7L161.2,762.1ZM162.5,762.8L162.5,760.9L163.8,761.2L163.8,763.9ZM163.4,761.0L163.3,760.1L163.5,759.2L164.2,759.6L164.0,760.7ZM158.1,759.5L159.0,760.8L158.0,762.0L156.9,761.6L157.0,759.3ZM165.0,762.9L165.5,762.8L165.6,763.8L164.9,764.0ZM160.3,765.1L159.8,764.0L160.1,763.0L160.8,763.0L160.9,764.1ZM165.3,764.6L164.5,764.7L164.5,763.5L165.3,763.1ZM163.7,763.6L164.3,763.3L164.4,764.3L164.1,765.2L163.6,764.5ZM166.4,762.9L166.3,763.8L165.7,763.7L165.4,762.6L166.0,761.9ZM168.3,765.9L166.8,764.6L168.1,762.9ZM161.2,763.7L159.8,764.0L160.2,761.6ZM163.0,762.9L163.6,763.1L163.8,764.3L163.0,764.0ZM159.7,765.5L160.0,763.7L161.3,763.5L161.0,766.2ZM165.3,764.4L165.9,763.2L166.7,763.5L166.8,765.0L165.9,765.7ZM169.6,763.1L169.4,764.3L168.5,764.8L168.2,763.1L169.0,761.8ZM163.1,764.3L162.1,765.3L162.0,763.5ZM164.7,766.5L164.9,765.9L165.3,765.8L165.3,766.5L165.1,767.0ZM167.3,765.0L168.8,765.2L168.8,768.0L167.1,767.8ZM170.8,766.7L170.5,767.3L170.0,767.1L170.0,766.0L170.6,765.8ZM170.9,764.5L170.8,766.0L170.0,766.1L169.7,765.0L170.2,764.2ZM162.4,766.3L162.9,767.4L162.1,768.2L161.9,767.0ZM163.3,765.8L163.8,766.5L163.1,767.1ZM163.8,767.1L162.3,765.4L163.0,762.9L164.6,764.1ZM170.3,766.6L169.3,766.6L170.1,765.0ZM171.8,768.1L170.7,767.4L171.5,766.3ZM166.0,764.7L167.1,766.9L165.1,768.1ZM172.5,767.6L172.1,767.9L171.7,767.3L172.2,767.0ZM171.4,769.1L170.6,768.8L170.7,766.8L172.1,767.3ZM170.2,767.0L168.8,769.5L168.6,766.0ZM165.9,768.6L167.3,766.7L167.1,769.7ZM172.9,769.8L171.3,770.3L171.1,767.7L172.4,767.5ZM168.7,767.4L169.0,765.9L169.8,766.8L169.8,768.1L169.1,768.6ZM172.2,768.4L173.1,767.5L173.7,768.8L172.9,769.6ZM172.0,767.9L172.5,766.8L173.1,767.4L172.8,768.4ZM174.3,766.6L174.8,767.8L174.0,767.9ZM170.5,769.8L169.4,771.8L168.7,768.2ZM174.4,768.3L174.5,769.5L173.8,769.5L173.7,768.6L173.8,767.6ZM170.3,771.3L169.4,770.6L170.2,769.3ZM172.7,767.9L173.0,770.5L171.4,771.2L171.3,768.4ZM170.5,769.2L170.4,768.2L170.9,767.7L171.2,768.8ZM175.2,769.0L174.2,770.0L173.5,768.6L174.4,767.3ZM173.3,768.7L171.7,769.3L171.9,766.2ZM174.3,770.1L173.7,769.3L173.3,767.7L174.3,767.5L174.8,768.8ZM173.9,770.9L174.6,771.2L174.1,772.2L173.7,772.0L173.5,771.2ZM170.4,768.7L171.1,769.3L171.3,770.4L170.6,771.0L169.8,770.1ZM179.3,772.8L177.9,772.1L179.0,770.4ZM175.0,767.5L176.8,768.4L176.2,771.1L174.4,770.9ZM176.7,772.6L176.3,770.8L177.4,770.9ZM171.9,770.5L172.8,771.2L171.9,772.3ZM179.7,770.1L178.7,771.0L178.3,769.2L179.2,768.9ZM177.5,769.0L178.0,769.4L177.6,769.9ZM178.9,769.9L179.4,770.8L178.7,771.4L178.3,770.2ZM179.3,772.1L180.4,770.9L180.8,773.9ZM174.5,770.3L175.4,769.0L175.8,771.4ZM177.5,770.5L176.7,771.8L175.7,771.2L175.7,769.4L176.8,768.7ZM177.5,773.5L177.6,772.7L177.9,772.4L178.3,772.6L178.2,773.8ZM177.3,772.0L175.6,773.0L176.0,770.2ZM178.3,772.9L177.9,771.0L178.9,771.4ZM178.9,771.1L178.8,772.4L178.1,772.6L178.2,771.3ZM181.2,769.6L182.0,772.4L179.7,771.6ZM177.6,770.8L177.7,772.1L177.1,771.4ZM180.5,770.8L181.1,771.1L181.0,772.1L180.5,772.6L180.2,771.7ZM178.9,770.8L178.5,771.8L178.0,770.7ZM181.8,771.6L181.2,772.5L180.8,771.2L181.6,770.1ZM180.2,772.2L181.8,771.7L181.9,773.7L181.0,774.6ZM183.4,773.4L184.1,772.5L184.8,774.2L183.6,775.1ZM179.4,774.2L178.2,772.2L180.0,771.7ZM182.1,770.9L183.2,773.4L181.7,775.3L181.1,772.9ZM184.1,771.6L183.8,773.4L182.8,773.0L182.7,770.2ZM183.7,773.3L182.9,772.9L182.9,771.8L183.4,771.2L183.9,771.9ZM184.5,771.1L184.1,773.5L182.8,771.9L183.4,769.4ZM183.0,773.9L182.0,774.5L181.5,772.8L182.5,772.4ZM184.6,772.6L186.0,772.6L186.3,774.3L185.2,774.8ZM182.8,774.0L181.9,772.4L182.9,770.6L184.0,772.7ZM186.2,775.6L184.6,775.4L184.3,773.1L185.3,771.4L186.3,773.0Z" fill="none" stroke="#a9a9a9" stroke-width="0.65" stroke-linejoin="round"/>
<circle cx="385.3" cy="495.4" r="4.2" fill="#e11400" stroke="#0c8a1e" stroke-width="1.2"/>
<rect x="141" y="546.6" width="13.2" height="9.8" fill="#fff"/><text class="cl" x="147.6" y="555.5" text-anchor="middle">15</text>
<rect x="160.1" y="686.7" width="13.2" height="9.8" fill="#fff"/><text class="cl" x="166.7" y="695.6" text-anchor="middle">15</text>
<rect x="286.9" y="714" width="13.2" height="9.8" fill="#fff"/><text class="cl" x="293.5" y="722.9" text-anchor="middle">15</text>
</g>
<rect x="63.1" y="494" width="320.8" height="296.9" fill="none" stroke="#000" stroke-width="2.1"/>
<text class="tk" text-anchor="end" transform="translate(58.2,497.5) scale(0.91,1)">15N</text>
<text class="tk" text-anchor="end" transform="translate(58.2,517.3) scale(0.91,1)">10N</text>
<text class="tk" text-anchor="end" transform="translate(58.2,537.1) scale(0.91,1)">5N</text>
<text class="tk" text-anchor="end" transform="translate(58.2,556.9) scale(0.91,1)">EQ</text>
<text class="tk" text-anchor="end" transform="translate(58.2,576.7) scale(0.91,1)">5S</text>
<text class="tk" text-anchor="end" transform="translate(58.2,596.5) scale(0.91,1)">10S</text>
<text class="tk" text-anchor="end" transform="translate(58.2,616.3) scale(0.91,1)">15S</text>
<text class="tk" text-anchor="end" transform="translate(58.2,636.1) scale(0.91,1)">20S</text>
<text class="tk" text-anchor="end" transform="translate(58.2,655.8) scale(0.91,1)">25S</text>
<text class="tk" text-anchor="end" transform="translate(58.2,675.6) scale(0.91,1)">30S</text>
<text class="tk" text-anchor="end" transform="translate(58.2,695.4) scale(0.91,1)">35S</text>
<text class="tk" text-anchor="end" transform="translate(58.2,715.2) scale(0.91,1)">40S</text>
<text class="tk" text-anchor="end" transform="translate(58.2,735) scale(0.91,1)">45S</text>
<text class="tk" text-anchor="end" transform="translate(58.2,754.8) scale(0.91,1)">50S</text>
<text class="tk" text-anchor="end" transform="translate(58.2,774.6) scale(0.91,1)">55S</text>
<text class="tk" text-anchor="end" transform="translate(58.2,794.4) scale(0.91,1)">60S</text>
<text class="tk" text-anchor="middle" transform="translate(67.9,801.8) scale(0.91,1)">100W</text>
<text class="tk" text-anchor="middle" transform="translate(103.5,801.8) scale(0.91,1)">90W</text>
<text class="tk" text-anchor="middle" transform="translate(139,801.8) scale(0.91,1)">80W</text>
<text class="tk" text-anchor="middle" transform="translate(174.6,801.8) scale(0.91,1)">70W</text>
<text class="tk" text-anchor="middle" transform="translate(210.1,801.8) scale(0.91,1)">60W</text>
<text class="tk" text-anchor="middle" transform="translate(245.7,801.8) scale(0.91,1)">50W</text>
<text class="tk" text-anchor="middle" transform="translate(281.3,801.8) scale(0.91,1)">40W</text>
<text class="tk" text-anchor="middle" transform="translate(316.8,801.8) scale(0.91,1)">30W</text>
<text class="tk" text-anchor="middle" transform="translate(352.4,801.8) scale(0.91,1)">20W</text>
<path d="M62.2,494h-3.0M62.2,513.8h-3.0M62.2,533.6h-3.0M62.2,553.4h-3.0M62.2,573.2h-3.0M62.2,593h-3.0M62.2,612.8h-3.0M62.2,632.6h-3.0M62.2,652.3h-3.0M62.2,672.1h-3.0M62.2,691.9h-3.0M62.2,711.7h-3.0M62.2,731.5h-3.0M62.2,751.3h-3.0M62.2,771.1h-3.0M62.2,790.9h-3.0M67.9,791.8v3.0M103.5,791.8v3.0M139,791.8v3.0M174.6,791.8v3.0M210.1,791.8v3.0M245.7,791.8v3.0M281.3,791.8v3.0M316.8,791.8v3.0M352.4,791.8v3.0" stroke="#000" stroke-width="1.4" fill="none"/>
<clipPath id="cp4"><rect x="522.1" y="494" width="320.9" height="296.9"/></clipPath>
<g clip-path="url(#cp4)">
<rect x="519" y="490" width="330" height="310" fill="#ffa000"/>
<path d="M507.3,478.3C514.1,473.1 536.5,475.6 542.4,478.3C548.2,481 540.6,491.1 542.4,494.3C544.2,497.5 549.5,496 553.1,497.4C556.7,498.8 561,500.7 564.2,502.5C567.3,504.2 569.7,505.9 572,507.9C574.3,509.9 575.7,512.6 578,514.5C580.3,516.5 583.3,518.2 585.8,519.6C588.4,521 590.9,522.2 593.4,522.7C596,523.2 599.3,521.9 601.2,522.7C603.2,523.6 604.3,525.6 605.1,528C605.9,530.3 606.3,534.3 606.1,536.8C605.9,539.2 605.3,540.8 603.7,542.6C602.2,544.4 599.7,546.5 596.9,547.5C594.2,548.4 590.8,548.4 587.2,548.4C583.6,548.4 579.7,547.7 575.5,547.5C571.3,547.2 566.4,547 561.9,546.9C557.3,546.7 552.8,547 548.2,546.5C543.7,545.9 538.8,544.4 534.6,543.6C530.4,542.8 527.4,542 522.9,541.6C518.4,541.2 510.9,546.4 507.3,541C503.7,535.7 501.5,519.9 501.5,509.5C501.5,499 500.5,483.5 507.3,478.3Z" fill="#ff6000"/>
<path d="M586.2,478.3C541.6,481.6 586.3,493.4 586.6,497.8C586.9,502.2 587.2,502.7 588.2,504.6C589.1,506.5 590.6,507.8 592.1,509.1C593.5,510.4 593.1,511.6 596.9,512.2C600.8,512.8 609.7,513.3 615.1,512.5C620.5,511.7 624.8,508 629.1,507.5C633.5,506.9 636.8,508.5 641.2,509.3C645.5,510.1 651.2,511.1 655.2,512.3C659.2,513.4 662.3,514.5 665.3,516.3C668.3,518.1 670.6,520.8 673.3,523.1C676,525.4 678.6,528.1 681.3,530.1C684,532.1 687,533.2 689.4,535.2C691.7,537.2 693.9,539.7 695.4,542.2C696.9,544.7 698.4,547.7 698.4,550.2C698.4,552.7 697.2,555.9 695.4,557.2C693.5,558.6 690,558.4 687.3,558.2C684.7,558.1 681.7,557.2 679.3,556.2C677,555.2 675.3,553.2 673.3,552.2C671.3,551.2 669.3,550.2 667.3,550.2C665.3,550.2 663.3,551.2 661.3,552.2C659.2,553.2 657.6,555.7 655.2,556.2C652.9,556.7 649.7,554.9 647.2,555.2C644.7,555.6 641.2,556.6 640.2,558.2C639.2,559.9 640,563.3 641.2,565.3C642.4,567.3 644.9,568.8 647.2,570.3C649.5,571.8 653.2,572.5 655.2,574.3C657.2,576.1 657.6,579.6 659.2,581.3C660.9,583 662.9,583.5 665.3,584.3C667.6,585.2 671.6,585.3 673.3,586.3C675,587.3 675.6,588.3 675.3,590.4C675,592.4 672.3,595.7 671.3,598.4C670.3,601.1 669.1,604 669.3,606.4C669.4,608.9 672.5,610.9 672.1,613.1C671.7,615.3 668.5,617.2 667.1,619.7C665.8,622.2 664,624.9 663.8,628C663.7,631 664.9,635.3 666.3,637.9C667.7,640.5 669.8,642.6 672.1,643.7C674.4,644.8 677.9,645.1 680.4,644.5C682.8,644 684.8,641.5 687,640.4C689.2,639.3 691.4,638.4 693.6,637.9C695.8,637.3 698,637 700.2,637.1C702.4,637.1 704.6,637.8 706.8,638.2C709,638.6 711.5,638.5 713.4,639.5C715.3,640.6 717.8,642.6 718.4,644.5C718.9,646.4 716.7,649.2 716.7,651.1C716.7,653 716.7,654.7 718.4,656.1C720,657.5 723.6,658.4 726.6,659.4C729.7,660.3 733.3,661.3 736.6,661.9C739.9,662.4 743.2,663.4 746.5,662.7C749.8,662 753.1,658.7 756.4,657.7C759.7,656.8 763,657.2 766.3,656.9C769.6,656.6 773.8,657 776.2,656.1C778.7,655.1 779.9,652.5 781.2,651.1C782.5,649.7 782.7,651 784,647.8C785.3,644.7 788.4,636.8 789.1,632.2C789.7,627.7 787.8,624.1 788.1,620.5C788.4,616.9 789.1,613.2 791,610.8C793,608.3 796.4,607.2 799.8,605.9C803.2,604.6 808.2,604.4 811.5,603C814.7,601.5 816.7,599.4 819.3,597.1C821.9,594.9 824.5,591.9 827.1,589.4C829.6,586.8 832.3,584.3 834.8,581.6C837.3,578.8 838.8,575.7 842.1,572.8C845.3,569.9 850.3,571.3 854.3,564C858.3,556.7 866,543.2 866,529C866,514.7 901,486.8 854.3,478.3C807.7,469.9 630.8,475.1 586.2,478.3Z" fill="#ff6000"/>
<path d="M639.2,599.4C640,597.5 644.5,596.9 647.2,597.4C649.9,597.9 653.2,600.2 655.2,602.4C657.2,604.6 659.1,608.1 659.2,610.4C659.4,612.8 657.9,615.8 656.2,616.4C654.6,617.1 651.6,615.8 649.2,614.4C646.9,613.1 643.9,610.9 642.2,608.4C640.5,605.9 638.3,601.2 639.2,599.4Z" fill="#ff6000"/>
<path d="M642.3,599.9C643.2,597.2 646.6,596.9 649,596.9C651.3,596.9 654.6,598 656.4,599.9C658.2,601.7 659.6,605.5 659.7,608.1C659.8,610.8 658.7,614.2 657.2,615.6C655.7,617 652.8,616.8 650.6,616.4C648.4,616 645.4,615.9 644,613.1C642.6,610.3 641.5,602.6 642.3,599.9Z" fill="#ff6000"/>
<path d="M680.3,583.3C681,581.7 684.5,580.2 687.3,579.3C690.2,578.5 694.9,577.8 697.4,578.3C699.9,578.8 702.1,580.7 702.4,582.3C702.7,584 701.2,587 699.4,588.3C697.5,589.7 694,590.2 691.4,590.4C688.7,590.5 685.2,590.5 683.3,589.4C681.5,588.2 679.7,585 680.3,583.3Z" fill="#ffa000"/>
<path d="M738.5,575.3C739.6,574.6 742.7,575.3 744.5,576.3C746.4,577.3 749.1,579.6 749.6,581.3C750.1,583 748.9,585.7 747.6,586.3C746.2,587 743.1,586.3 741.5,585.3C739.9,584.3 738.4,582 737.9,580.3C737.4,578.6 737.4,576 738.5,575.3Z" fill="#ffa000"/>
<path d="M738.5,592.4C739.4,593.8 741.2,595.4 741.5,598.4C741.9,601.4 741,606.7 740.5,610.4C740,614.1 739.7,617.1 738.5,620.5C737.4,623.8 733.4,630.1 733.5,630.5C733.6,630.9 738.7,623 739,623C739.4,623 737.3,628 735.7,630.5C734.2,632.9 732.3,635.4 730,637.9C727.6,640.4 723.9,644.6 721.7,645.3C719.5,646 718.1,643.3 716.7,642C715.3,640.8 714.2,639.7 713.4,637.9C712.6,636.1 712.3,633.5 711.8,631.3C711.2,629.1 710.7,626.9 710.1,624.7C709.6,622.5 708.5,620.3 708.5,618.1C708.5,615.9 709,613.4 710.1,611.4C711.2,609.5 713.7,608.1 715.1,606.5C716.5,604.8 717.3,603.2 718.4,601.5C719.5,599.9 719.8,598.1 721.7,596.6C723.6,595.1 727.5,593.5 730,592.4C732.4,591.3 735.1,590 736.6,590C738,589.9 737.7,591 738.5,592.4Z" fill="#ffa000"/>
<path d="M689.5,623C690.1,620.7 692.4,620 693.6,620.5C694.8,621.1 696,624 696.6,626.3C697.2,628.7 697.7,632.5 697.2,634.6C696.7,636.7 694.8,638.7 693.6,638.7C692.4,638.7 690.6,637.2 690,634.6C689.3,632 688.8,625.4 689.5,623Z" fill="#ffa000"/>
<path d="M679,533.8C680.6,531.3 684.4,532.6 686.8,533.2C689.2,533.9 691.9,535.5 693.6,537.7C695.3,539.9 696.6,543.6 696.9,546.5C697.2,549.4 696.9,553.3 695.6,555.3C694.2,557.2 691.2,558 688.7,558.2C686.3,558.3 682.9,557.9 680.9,556.2C679,554.6 677.4,552.2 677.1,548.4C676.7,544.7 677.4,536.4 679,533.8Z" fill="#ffa000"/>
<path d="M680,581.6C681.3,579.9 685.7,579.1 688.7,578.6C691.8,578.1 696.1,577.8 698.5,578.6C700.8,579.4 702.8,581.9 702.8,583.5C702.8,585.1 700.8,587.4 698.5,588.4C696.1,589.4 691.7,589.4 688.7,589.4C685.8,589.4 682.4,589.7 680.9,588.4C679.5,587.1 678.7,583.2 680,581.6Z" fill="#ffa000"/>
<path d="M686.8,645.1C687.1,641.5 687.8,634.7 688.7,630.3C689.7,625.8 691,620.8 692.6,618.6C694.3,616.3 697.1,615.3 698.5,616.6C699.8,617.9 700.8,622.8 700.8,626.4C700.8,629.9 699,633.8 698.5,638.1C697.9,642.3 699.5,649.4 697.5,651.7C695.6,654 688.6,652.8 686.8,651.7C685,650.6 686.5,648.6 686.8,645.1Z" fill="#ffa000"/>
<path d="M588.2,484.2C576.5,487.4 587.7,499.4 589.1,503.6C590.6,507.9 594.3,508.1 596.9,509.5C599.5,510.8 602.1,512.2 604.7,511.8C607.3,511.4 609.9,508.6 612.5,507.1C615.1,505.7 617.7,504.1 620.3,503.2C622.9,502.4 625.5,502.1 628.1,502.1C630.7,502.1 633,502.7 635.9,503.2C638.8,503.8 642.7,505.5 645.6,505.6C648.5,505.6 651.1,505.3 653.4,503.6C655.7,502 658.3,499.1 659.3,495.8C660.2,492.6 671.1,486.1 659.3,484.2C647.4,482.2 599.8,480.9 588.2,484.2Z" fill="#ff3200"/>
<path d="M513.2,493.9C514.8,491.6 520,495.5 522.9,495.8C525.8,496.2 528.6,494.9 530.7,495.8C532.8,496.8 535.1,499.6 535.6,501.7C536,503.8 535.1,507.1 533.6,508.5C532.1,509.9 530.2,509.7 526.8,509.9C523.4,510 515.4,512.1 513.2,509.5C510.9,506.8 511.5,496.2 513.2,493.9Z" fill="#ff3200"/>
<path d="M556,504.6C556.5,503.7 559.4,502.5 560.9,502.7C562.3,502.8 564.5,504.6 564.8,505.6C565.1,506.6 564,508.1 562.8,508.5C561.7,508.9 559.1,508.6 558,507.9C556.8,507.3 555.5,505.5 556,504.6Z" fill="#ff3200"/>
<path d="M667.3,514.1C666.6,511.2 666.9,504.2 669.3,502C671.6,499.9 677.3,501 681.3,501C685.3,501 690,500.9 693.4,502C696.7,503.2 698.7,506.1 701.4,508.1C704.1,510.1 706.1,512.9 709.4,514.1C712.8,515.3 722.3,515.2 721.5,515.1C720.6,515 705.6,513.3 704.3,513.4C703.1,513.4 710.2,515.3 714.1,515.3C718,515.3 723.8,513.1 727.7,513.4C731.6,513.7 734.5,515.3 737.4,517.3C740.4,519.2 743,523 745.2,525.1C747.5,527.2 748.5,529.4 751.1,529.9C753.7,530.4 757.6,528.8 760.8,528C764.1,527.2 768.1,526.9 770.6,525.1C773,523.3 774.1,519.5 775.4,517.3C776.7,515 776.9,512.1 778.4,511.4C779.8,510.8 781.9,512.7 784.2,513.4C786.5,514 788.7,515.8 792,515.3C795.2,514.8 799.8,512.1 803.7,510.5C807.6,508.8 812.1,507 815.4,505.6C818.6,504.1 820.6,502.7 823.2,501.7C825.8,500.7 827.8,499.7 830.9,499.7C834.1,499.7 838.2,501.4 842.1,501.7C845.9,502 852.3,496.2 854.3,501.7C856.4,507.2 856.4,529.4 854.3,534.8C852.3,540.2 845.3,533.5 842.1,533.8C838.8,534.2 837.3,536.4 834.8,536.8C832.3,537.1 829,537.1 827.1,535.8C825.1,534.5 824.5,530.9 823.2,529C821.9,527 820.9,524.4 819.3,524.1C817.6,523.8 815.4,525.6 813.4,527C811.5,528.5 809.8,531.2 807.6,532.9C805.3,534.5 802.7,535.3 799.8,536.8C796.9,538.2 793,540.2 790,541.6C787.1,543.1 784.4,543.4 782.2,545.5C780.1,547.6 777.7,551.5 777.4,554.3C777.1,557 779.2,559.5 780.3,562.1C781.4,564.7 784.2,567.6 784.2,569.9C784.2,572.1 782.2,573.8 780.3,575.7C778.4,577.7 774.8,579.8 772.5,581.6C770.2,583.3 768.3,586.4 766.7,586.4C765,586.4 764.1,583.7 762.8,581.6C761.5,579.4 760.5,576 758.9,573.8C757.2,571.5 755.6,569.5 753,567.9C750.4,566.3 746.5,565.3 743.3,564C740,562.7 736.8,560.9 733.5,560.1C730.3,559.3 727.1,559.8 723.8,559.2C720.6,558.5 713.8,556.6 714.1,556.2C714.3,555.9 724.9,557.4 725.5,557.2C726,557.1 720.1,556.1 717.5,555.2C714.8,554.4 711.8,553.7 709.4,552.2C707.1,550.7 705.4,548.4 703.4,546.2C701.4,544 699.7,541.7 697.4,539.2C695,536.7 692,533.5 689.4,531.1C686.7,528.8 684,527.1 681.3,525.1C678.6,523.1 675.6,520.9 673.3,519.1C671,517.3 667.9,516.9 667.3,514.1Z" fill="#ff3200"/>
<path d="M653.2,484C649.7,486.8 652.9,497.2 654.2,501C655.6,504.9 658.7,505.6 661.3,507.1C663.8,508.6 666.9,510.6 669.3,510.1C671.6,509.6 674.3,508.4 675.3,504C676.3,499.7 679,487.3 675.3,484C671.6,480.6 656.7,481.1 653.2,484Z" fill="#ff3200"/>
<path d="M741.7,536.8C742.4,535.9 744.4,535.3 745.2,535.8C746,536.3 746.8,538.5 746.6,539.7C746.4,540.9 745.1,542.8 744.3,543C743.4,543.2 741.8,542.1 741.3,541C740.9,540 741.1,537.6 741.7,536.8Z" fill="#ff6000"/>
<path d="M824.1,490C829,489 849.3,488.7 854.3,490C859.4,491.3 857.6,496.3 854.3,497.8C851.1,499.3 839.1,498.8 834.8,498.8C830.6,498.8 830.6,498.3 829,497.8C827.4,497.3 825.9,497.1 825.1,495.8C824.3,494.5 819.3,491 824.1,490Z" fill="#ff3200"/>
<path d="M669,508.5C669.5,506.3 672.3,506.1 674.8,506C677.3,505.8 681.4,505.6 684,507.5C686.6,509.4 690,514.4 690.4,517.3C690.9,520.2 688.5,523.8 686.5,525.1C684.6,526.3 681.2,525.6 678.7,524.7C676.3,523.7 673.5,521.9 671.9,519.2C670.3,516.5 668.5,510.7 669,508.5Z" fill="#ff3200"/>
<path d="M696.4,595.4C697.5,593.7 700.4,592.4 702.4,592.4C704.4,592.4 707.3,593.5 708.4,595.4C709.6,597.2 710.1,601 709.4,603.4C708.8,605.8 706.2,609.2 704.4,610C702.6,610.9 699.9,609.7 698.4,608.4C696.9,607.1 695.7,604.6 695.4,602.4C695,600.2 695.2,597 696.4,595.4Z" fill="#ff3200"/>
<path d="M701.4,622.5C702.1,620.9 705.1,620.1 706.4,620.5C707.8,620.8 709.3,622.8 709.4,624.5C709.6,626.1 708.6,629.6 707.4,630.5C706.2,631.4 703.4,631.4 702.4,630.1C701.4,628.8 700.7,624.1 701.4,622.5Z" fill="#ff3200"/>
<path d="M669.7,628.5C670.5,627.4 673,626.1 674.3,626.5C675.6,626.8 677.4,628.9 677.7,630.5C678,632.1 677.4,635.1 676.3,636.1C675.2,637.1 672.5,637.1 671.3,636.5C670.1,636 669.6,634.2 669.3,632.9C669,631.6 668.8,629.6 669.7,628.5Z" fill="#ff3200"/>
<path d="M752.1,606.9C752.6,605.8 754.3,604.2 755,604.5C755.7,604.9 756.3,607.4 756.1,608.8C756,610.3 754.7,612.8 754,613.1C753.3,613.4 752.2,611.8 751.9,610.8C751.5,609.7 751.5,607.9 752.1,606.9Z" fill="#ff3200"/>
<path d="M854.3,614.7C852.3,612.9 845,615.7 842.1,616.6C839.1,617.5 838,619.2 836.8,620.1C835.6,621.1 834.7,621.6 834.8,622.5C835,623.3 836.6,624.7 837.8,625.4C839,626 839.3,626 842.1,626.4C844.8,626.7 852.3,629.3 854.3,627.3C856.4,625.4 856.4,616.5 854.3,614.7Z" fill="#ffc03c"/>
<path d="M550.2,484.2C545.1,486.1 553.3,493.2 555,495.8C556.8,498.4 558.8,498.5 560.9,499.7C563,501 565.4,502 567.7,503.2C570,504.5 572.5,506.1 574.5,507.1C576.5,508.2 578.2,509.4 579.8,509.5C581.4,509.6 583.3,509.2 584.3,507.9C585.2,506.6 585.5,505.6 585.6,501.7C585.8,497.7 591.1,487.1 585.2,484.2C579.3,481.2 555.2,482.2 550.2,484.2Z" fill="#ffc03c"/>
<path d="M564.2,484.2C562.2,486.4 565.5,494.9 566.7,497.4C568,499.9 570,499.2 571.6,499.4C573.2,499.5 575.3,500.7 576.5,498.2C577.6,495.6 580.5,486.5 578.4,484.2C576.4,481.8 566.1,481.9 564.2,484.2Z" fill="#ffe878"/>
<path d="M646.2,529.1C647.4,527.6 652.1,527.1 655.2,527.1C658.4,527.1 663.2,527.7 665.3,529.1C667.3,530.6 668,533.8 667.7,535.8C667.3,537.8 665,539.6 663.3,541.2C661.5,542.8 659.1,545 657.2,545.2C655.4,545.4 653.7,544.1 652.2,542.6C650.7,541.1 649.2,538.4 648.2,536.2C647.2,533.9 645,530.6 646.2,529.1Z" fill="#ffc03c"/>
<path d="M624.7,575.3C625.6,574 628.7,572.3 631.1,572.3C633.6,572.3 637.1,574 639.2,575.3C641.3,576.6 643.4,578.8 643.6,580.3C643.8,581.8 642.1,583.8 640.2,584.3C638.3,584.8 634.5,584 632.2,583.3C629.8,582.7 627.4,581.7 626.1,580.3C624.9,579 623.9,576.6 624.7,575.3Z" fill="#ffc03c"/>
<path d="M515.1,551.4C517.7,549.9 527,551.3 530.7,551.9C534.4,552.6 536,554 537.5,555.3C539,556.6 539.9,558.6 539.5,559.7C539,560.9 536.7,561.8 534.6,562.1C532.5,562.4 530,561.9 526.8,561.7C523.5,561.4 517.1,562.2 515.1,560.5C513.2,558.8 512.5,552.8 515.1,551.4Z" fill="#ffc03c"/>
<path d="M501.5,612.7C511.9,606.9 518.4,613.1 522.9,610.8C527.4,608.5 526.5,602.7 528.7,599.1C531,595.5 533.6,591.9 536.5,589.4C539.5,586.8 542.7,584.8 546.3,583.5C549.8,582.2 554.1,581.9 558,581.6C561.9,581.2 566.1,581.5 569.6,581.2C573.2,580.8 577.4,580.8 579.4,579.6C581.3,578.4 581.8,575.9 581.3,573.8C580.9,571.7 577.4,568.9 576.5,566.9C575.5,565 574.4,563.1 575.5,562.1C576.6,561 580.4,560.3 583.3,560.5C586.2,560.8 591,564.2 593,563.6C595,563.1 594.6,559.4 595.4,557.2C596.2,555 596.8,552.5 597.9,550.4C599,548.3 600.5,546.8 601.8,544.5C603.1,542.3 604.6,539.4 605.7,536.8C606.8,534.2 607.5,531.9 608.6,529C609.7,526 610.7,521.8 612.1,519.2C613.6,516.6 615.2,514.8 617.4,513.4C619.6,511.9 622.6,510.8 625.2,510.5C627.8,510.1 631,510.3 633,511.4C634.9,512.6 636.5,515 636.9,517.3C637.2,519.5 636.2,522.5 634.9,525.1C633.6,527.7 631,529.9 629.1,532.9C627.1,535.8 625.2,539.7 623.2,542.6C621.3,545.5 619.1,547.8 617.4,550.4C615.7,553 613.8,555.3 612.9,558.2C612,561.1 612,565 612.1,567.9C612.2,570.8 612.6,572.8 613.5,575.7C614.4,578.6 615.8,582.2 617.4,585.5C619,588.7 621.1,592.4 623.2,595.2C625.3,598 627.3,599.9 630,602C632.8,604.1 636.7,605.4 639.8,607.9C642.9,610.3 645.9,613.5 648.5,616.6C651.1,619.7 653.8,623.1 655.4,626.4C656.9,629.6 657,633.4 657.7,636.1C658.4,638.9 659.8,639.8 659.7,642.9C659.6,645.9 657.9,651.1 657.2,654.4C656.6,657.7 655.9,660.2 655.9,662.7C655.9,665.2 656.3,667.8 657.2,669.3C658.1,670.8 659.4,671.4 661.4,671.8C663.3,672.2 666.2,672.3 668.8,671.8C671.4,671.2 674.6,670 677.1,668.5C679.5,667 681.7,665 683.7,662.7C685.6,660.3 687.3,656.9 688.6,654.4C690,651.9 690.4,649.2 691.9,647.8C693.4,646.4 695.8,645.8 697.7,645.8C699.6,645.8 702.1,646.4 703.5,647.8C704.9,649.2 705.3,652.2 706,654.4C706.7,656.6 707.2,658.4 707.6,661C708,663.7 707.5,667.6 708.5,670.1C709.4,672.6 710.9,674.8 713.4,675.9C715.9,677 723.2,675.9 723.3,676.7C723.4,677.6 713.7,680.7 714.1,680.9C714.5,681.1 721.9,678.1 725.8,678C729.6,677.8 733.5,679 737.4,679.9C741.3,680.9 745.2,683.5 749.1,683.8C753,684.2 756.9,682.2 760.8,681.9C764.7,681.6 768.6,682.4 772.5,681.9C776.4,681.4 780.3,679.9 784.2,679C788.1,678 792,677 795.9,676C799.8,675.1 804.3,674.6 807.6,673.1C810.8,671.7 812.1,668.6 815.4,667.3C818.6,666 822.6,666.6 827.1,665.3C831.5,664 836.9,661.1 842.1,659.5C847.2,657.9 852.9,642.6 858.2,655.6C863.5,668.6 874.5,710.8 873.8,737.4C873.2,764 916,802.3 854.3,815.3C792.6,828.3 569.3,843.6 503.7,815.3C438,787.1 460.9,679.6 460.6,645.8C460.2,612.1 491.1,618.6 501.5,612.7Z" fill="#ffc03c"/>
<path d="M572.6,606.9C573.5,604.8 575.3,603.8 577.4,604C579.6,604.1 582.3,606.1 585.2,607.9C588.2,609.6 591.7,611.9 595,614.7C598.2,617.4 601.5,621.2 604.7,624.4C608,627.7 611.5,630.7 614.5,634.2C617.4,637.6 619.8,642.5 622.2,645.1C624.7,647.7 627.8,646.7 629.1,649.7C630.4,652.8 630.2,658.5 630,663.4C629.9,668.2 628.7,674.4 628.1,679C627.4,683.5 626.5,684.2 626.1,690.6C625.8,697.1 643.4,713.4 626.1,717.9C608.9,722.5 543.7,717.9 522.9,717.9C502.1,717.9 505,722.3 501.5,717.9C497.9,713.5 497.9,695.9 501.5,691.4C505,686.9 518.4,691.3 522.9,691C527.4,690.7 526.1,690.2 528.7,689.7C531.3,689.1 535.2,688.2 538.5,687.7C541.7,687.2 545,686.9 548.2,686.8C551.5,686.6 555,687.6 558,686.8C560.9,685.9 563.2,683.7 565.8,681.9C568.4,680.1 571.3,678.1 573.5,676C575.8,673.9 577.4,672 579.4,669.2C581.3,666.5 584.3,662.7 585.2,659.5C586.2,656.2 586.2,653 585.2,649.7C584.3,646.5 580.7,642.3 579.4,640C578.1,637.7 578.3,638.4 577.4,636.1C576.6,633.8 575.5,629.6 574.5,626.4C573.5,623.1 571.9,619.9 571.6,616.6C571.3,613.4 571.6,609 572.6,606.9Z" fill="#ffe878"/>
<path d="M656.9,632.9C659,634.3 657.3,639.3 656.9,642.9C656.5,646.4 655,651 654.2,654.4C653.5,657.9 652.5,660.8 652.3,663.5C652,666.3 651.8,668.7 652.6,671C653.4,673.2 655.1,674.9 657.2,676.7C659.4,678.5 662.7,680.5 665.5,681.7C668.2,682.9 671.7,684.1 673.8,683.8C675.8,683.6 676.5,681.1 677.9,680C679.3,679 680.2,678.1 682,677.6C683.8,677 686.7,676.6 688.6,676.7C690.6,676.9 692.3,677.3 693.6,678.4C694.8,679.5 696.2,681.6 696.1,683.3C695.9,685.1 691.3,687 692.6,688.7C694,690.4 700.1,692.4 704.3,693.6C708.5,694.7 713.7,695.4 718,695.5C722.2,695.7 726.1,694.1 729.6,694.5C733.2,695 736.5,697 739.4,698.4C742.3,699.9 744.6,702.2 747.2,703.3C749.8,704.4 752.4,705.4 755,705.3C757.6,705.1 759.8,703.6 762.8,702.3C765.7,701 768.9,698.9 772.5,697.5C776.1,696 780.3,694.7 784.2,693.6C788.1,692.4 791.3,691.3 795.9,690.6C800.4,690 806.3,690.2 811.5,689.7C816.7,689.2 822,688.1 827.1,687.7C832.1,687.4 836.9,687.7 842.1,687.7C847.2,687.7 855.5,679.4 858.2,687.7C860.9,696 888.1,729.1 858.2,737.4C828.4,745.7 714.7,749 679,737.4C643.3,725.8 649.8,684.8 644,667.6C638.2,650.5 641.9,640.4 644,634.6C646.1,628.8 654.7,631.6 656.9,632.9Z" fill="#ffe878"/>
<path d="M601.8,548.4C603,545.8 604.2,542.9 605.7,539.7C607.1,536.4 608.8,531.9 610.6,529C612.3,526 614.1,523.8 616.4,522.1C618.7,520.5 622.2,518.9 624.2,519.2C626.1,519.5 627.8,522 628.1,524.1C628.4,526.2 627.1,529.1 625.8,531.9C624.5,534.6 622,537.9 620.3,540.6C618.6,543.4 617.1,545.8 615.4,548.4C613.8,551 612,553.6 610.6,556.2C609.2,558.8 607.6,561.4 607.1,564C606.5,566.6 606.5,568.9 607.1,571.8C607.6,574.7 609.3,578.3 610.6,581.6C611.9,584.8 613.1,588.4 614.8,591.3C616.6,594.2 619.1,597 621.3,599.1C623.5,601.2 625.7,602.3 628.1,604C630.5,605.6 633.3,606.7 635.9,608.8C638.5,610.9 641.2,614 643.7,616.6C646.1,619.2 648.7,621.5 650.5,624.4C652.3,627.3 653.6,630.7 654.4,634.2C655.2,637.6 658.8,643.2 655.4,645.1C652,646.9 637.8,647.5 633.9,645.1C630,642.6 633.1,633.9 632,630.3C630.9,626.7 628.9,625.4 627.1,623.4C625.3,621.5 623.2,620.5 621.3,618.6C619.3,616.6 617.2,614.2 615.4,611.8C613.6,609.3 612,606.7 610.6,604C609.1,601.2 607.9,598.1 606.7,595.2C605.4,592.3 604.2,589.2 603.2,586.4C602.1,583.7 601.3,581.4 600.4,578.6C599.6,575.9 598.4,572.6 597.9,569.9C597.4,567.1 597.2,564.5 597.3,562.1C597.4,559.6 597.7,557.5 598.5,555.3C599.2,553 600.6,551 601.8,548.4Z" fill="#ffe878"/>
<path d="M602.8,552.3C601.9,553.1 601,556.1 600.4,558.2C599.8,560.3 599.4,562.6 599.3,565C599.2,567.4 599.4,570.2 599.8,572.8C600.3,575.4 601,578 601.8,580.6C602.6,583.2 603.6,585.6 604.7,588.4C605.9,591.1 607.3,594.4 608.6,597.1C609.9,599.9 611,602.4 612.5,604.9C614,607.5 615.8,610.2 617.4,612.3C619,614.4 620.5,616.1 622.2,617.6C624,619.1 626.3,620 628.1,621.5C629.9,623 631.8,624.6 633,626.8C634.1,628.9 634.5,631.5 634.9,634.5C635.3,637.6 635.8,642.5 635.3,645.1C634.8,647.6 633,647 632,649.7C630.9,652.5 629.9,657.5 629.1,661.4C628.3,665.3 627.5,669.1 627.1,673.1C626.7,677.2 627.1,682.9 626.5,685.8C625.9,688.6 624.5,690.4 623.4,690.3C622.3,690.1 620.6,687.3 619.9,684.8C619.2,682.3 619.3,678.3 619.3,675.1C619.4,671.8 620.3,668.6 620.3,665.3C620.3,662.1 620,657.7 619.3,655.6C618.7,653.5 617.5,652.7 616.4,652.7C615.3,652.7 613.4,654.1 612.9,655.6C612.4,657 613.1,659.2 613.5,661.4C613.9,663.7 615.3,666.6 615.4,669.2C615.6,671.8 615.3,674.9 614.5,677C613.6,679.1 612.5,680.1 610.6,681.9C608.6,683.7 605.4,686.3 602.8,687.7C600.2,689.2 597.9,689.5 595,690.6C592.1,691.8 588.2,692.9 585.2,694.5C582.3,696.2 580.7,698.6 577.4,700.4C574.2,702.2 570.3,704.1 565.8,705.3C561.2,706.4 555,706.8 550.2,707.2C545.3,707.6 541.1,708 536.5,707.8C532,707.6 528.7,706.5 522.9,706.2C517.1,706 511.9,697.8 501.5,706.2C491.1,714.7 460.6,738.7 460.6,756.9C460.6,775.1 462.5,805.6 501.5,815.3C540.4,825.1 632.3,825.1 694.3,815.3C756.4,805.6 846.5,776 873.8,756.9C901.1,737.8 863.5,710.1 858.2,700.8C852.9,691.4 846.6,700.8 842.1,700.8C837.5,700.7 834.7,700.3 830.9,700.4C827.1,700.5 823.8,700.9 819.3,701.4C814.7,701.9 808.9,702.1 803.7,703.3C798.5,704.5 793.3,707.1 788.1,708.6C782.9,710 777.1,710.8 772.5,712.1C768,713.3 765.4,715.3 760.8,716C756.3,716.7 750.1,717 745.2,716.4C740.4,715.7 736.1,713.3 731.6,712.1C727.1,710.9 722.5,710.8 718,709.2C713.4,707.5 708.9,704.6 704.3,702.3C699.8,700.1 693.3,696.9 690.7,695.5C688.1,694.1 690.1,694.7 688.6,694.1C687.2,693.4 684.8,692.6 682,691.6C679.3,690.6 675.4,689.5 672.1,688.3C668.8,687.1 665.2,685.7 662.2,684.2C659.2,682.7 656.1,681.1 653.9,679.2C651.7,677.3 649.8,675.1 649,672.6C648.1,670.1 648.7,667.4 649,664.3C649.2,661.3 649.9,658 650.6,654.4C651.3,650.8 652.4,646.4 653.1,642.9C653.8,639.3 655.2,636.2 654.7,632.9C654.3,629.6 652.4,625.5 650.6,623C648.8,620.5 645.3,619.1 644,618.1C642.7,617 644.2,618.1 642.7,616.6C641.2,615.2 637.5,611.2 634.9,609.2C632.3,607.2 629.5,606.2 627.1,604.5C624.7,602.9 622.5,601.3 620.7,599.5C618.9,597.7 617.8,595.9 616.4,593.6C615,591.4 613.8,588.4 612.5,585.8C611.2,583.2 609.8,580.3 608.6,578.1C607.4,575.8 605.9,574.3 605.1,572.2C604.3,570.1 603.7,567.9 603.5,565.6C603.4,563.2 604,560.2 604.3,558.2C604.7,556.1 605.9,554.3 605.7,553.3C605.4,552.3 603.6,551.5 602.8,552.3Z" fill="#78b9fa" stroke="#0c8a1e" stroke-width="1.3"/>
<path d="M614.1,535.8C614.2,534.3 614.6,531.5 615.4,529.9C616.3,528.4 618,527.2 619.3,526.6C620.6,526.1 622.4,525.9 623.2,526.6C624,527.3 624.5,529.4 624.2,530.9C623.9,532.4 622.4,534.4 621.3,535.8C620.1,537.1 618.5,538.6 617.4,539.1C616.2,539.6 615,539.3 614.5,538.7C613.9,538.1 613.9,537.2 614.1,535.8Z" fill="#78b9fa" stroke="#0c8a1e" stroke-width="1.3"/>
<path d="M501.5,722.8C511.9,717.1 517.4,723.1 522.9,722.8C528.4,722.5 530.4,721.3 534.6,720.8C538.8,720.4 543.7,720.4 548.2,719.9C552.8,719.4 557.3,718.6 561.9,717.9C566.4,717.3 571.3,716.8 575.5,716C579.7,715.2 583.6,714.2 587.2,713.1C590.8,711.9 594,710.6 596.9,709.2C599.8,707.7 602.1,705.7 604.7,704.3C607.3,702.8 609.9,701.5 612.5,700.4C615.1,699.3 617.7,698.1 620.3,697.5C622.9,696.8 625.5,696.7 628.1,696.5C630.7,696.3 633.3,696 635.9,696.1C638.5,696.2 641.6,696.3 643.7,696.9C645.8,697.5 646.6,699 648.5,699.8C650.5,700.6 652.6,701.4 655.4,701.8C658.1,702.1 661.9,701.7 665.1,701.9C668.4,702.2 672.5,703 674.8,703.1C677.1,703.2 678.2,702.7 678.9,702.7C679.6,702.8 677,702.7 679,703.3C681,703.9 686.8,704.8 690.7,706.2C694.6,707.7 698.5,709.8 702.4,712.1C706.3,714.4 710.2,718.1 714.1,719.9C718,721.7 721.9,722 725.8,722.8C729.6,723.6 732.9,724.3 737.4,724.7C742,725.2 748.2,725.7 753,725.7C757.9,725.7 762.1,725.4 766.7,724.7C771.2,724.1 775.4,723 780.3,721.8C785.2,720.7 790.7,719.2 795.9,717.9C801.1,716.6 806.9,715.2 811.5,714C816,712.9 819.3,711.6 823.2,711.1C827.1,710.6 831.7,710.8 834.8,711.1C838,711.4 838.2,712.6 842.1,713.1C845.9,713.5 852.9,703.5 858.2,714C863.5,724.6 874.5,759.5 873.8,776.4C873.2,793.2 916,808.8 854.3,815.3C792.6,821.8 569.3,825.1 503.7,815.3C438,805.6 460.9,772.3 460.6,756.9C460.2,741.5 491.1,728.5 501.5,722.8Z" fill="#3c96f5"/>
<path d="M501.5,744.2C511.9,738.9 517.7,744.2 522.9,744.2C528.1,744.2 529.7,744.9 532.6,744.2C535.6,743.6 537.5,740.8 540.4,740.3C543.4,739.8 546.6,741.3 550.2,741.3C553.7,741.3 558,740.6 561.9,740.3C565.8,740 569.6,739.8 573.5,739.4C577.4,738.9 581.3,738.1 585.2,737.4C589.1,736.8 593.7,736.8 596.9,735.5C600.2,734.2 602.4,731.9 604.7,729.6C607,727.3 608.6,724.1 610.6,721.8C612.5,719.5 614.5,718.1 616.4,716C618.4,713.9 621.1,709.9 622.2,709.2C623.4,708.4 622.7,712.3 623.6,711.4C624.4,710.6 626.2,706.7 627.3,703.9C628.4,701.1 629.4,697.6 630.2,694.4C631,691.3 631.6,687.8 632.1,685C632.5,682.2 631.3,678.7 633,677.4C634.7,676.2 640.7,676.2 642.4,677.4C644.1,678.7 643.3,682.5 643.2,685C643.1,687.5 642.4,690 642.1,692.6C641.7,695.1 641,697.6 640.9,700.1C640.9,702.6 640.9,705.1 641.7,707.7C642.5,710.2 644.9,712.4 645.8,715.2C646.8,718.1 647.3,721.5 647.2,724.7C647.1,727.8 645.4,731.6 645.3,734.1C645.1,736.6 644.5,739.5 646.2,739.8C648,740.1 652.5,737.9 655.7,736C658.8,734.1 662,731 665.1,728.4C668.3,725.9 672.2,722.6 674.6,720.9C676.9,719.1 676.6,717.8 679,717.9C681.4,718.1 685.5,719.5 688.7,721.8C692,724.1 695.2,728.6 698.5,731.6C701.7,734.5 705,737.6 708.2,739.4C711.5,741.1 714.7,742.1 718,742.3C721.2,742.4 724.8,740.5 727.7,740.3C730.6,740.2 732.6,740.5 735.5,741.3C738.4,742.1 741.7,744.4 745.2,745.2C748.8,746 753,746.5 756.9,746.2C760.8,745.8 764.7,744.5 768.6,743.2C772.5,741.9 775.8,739.7 780.3,738.4C784.8,737.1 790.7,736.8 795.9,735.5C801.1,734.2 806.9,732.2 811.5,730.6C816,729 819.3,726.9 823.2,725.7C827.1,724.6 831.7,723.8 834.8,723.8C838,723.8 838.2,725.4 842.1,725.7C845.9,726 852.9,717.3 858.2,725.7C863.5,734.2 874.5,761.4 873.8,776.4C873.2,791.3 916,808.8 854.3,815.3C792.6,821.8 569.3,821.8 503.7,815.3C438,808.8 460.9,788.2 460.6,776.4C460.2,764.5 491.1,749.6 501.5,744.2Z" fill="#1e6eeb"/>
<path d="M501.5,768.6C511.9,764 517.4,768.2 522.9,768.6C528.4,768.9 530.4,769.5 534.6,770.5C538.8,771.5 543.7,773.3 548.2,774.4C552.8,775.6 557,776.7 561.9,777.3C566.7,778 572.6,778.5 577.4,778.3C582.3,778.1 586.9,777.3 591.1,776.4C595.3,775.4 599.6,772.7 602.8,772.5C606,772.2 607.5,774.8 610.3,774.7C613.2,774.6 617.6,773.3 619.8,771.9C622,770.5 622.8,768.7 623.6,766.2C624.3,763.7 624.2,759.9 624.5,756.8C624.8,753.6 625.1,750.5 625.4,747.3C625.8,744.2 626.1,741 626.4,737.9C626.7,734.7 626.9,731.6 627.3,728.4C627.8,725.3 628.1,721.5 629.2,719C630.3,716.5 632.2,713.8 633.9,713.3C635.7,712.9 638.2,714.6 639.6,716.2C641,717.7 642.2,720.1 642.4,722.8C642.7,725.5 641.5,729.1 640.9,732.2C640.4,735.4 639.6,738.5 639,741.7C638.5,744.8 637.8,748.4 637.7,751.1C637.7,753.8 636.9,756.2 638.7,757.7C640.4,759.3 644.7,760.4 648.1,760.6C651.6,760.7 655.7,760.2 659.4,758.7C663.2,757.1 667.6,753.3 670.8,751.1C673.9,748.9 675.8,746.9 678.3,745.4C680.9,744 682.7,742.6 685.9,742.6C689,742.6 693.5,744 697.2,745.4C701,746.9 705.1,749.5 708.6,751.1C712,752.7 714.9,754.9 718,754.9C721,755 724.1,752.2 726.7,751.4C729.3,750.6 730.8,749.8 733.5,750.1C736.3,750.3 739.4,752 743.3,753C747.2,754 752.1,755.3 756.9,755.9C761.8,756.6 767.3,756.6 772.5,756.9C777.7,757.2 782.9,757.9 788.1,757.9C793.3,757.9 798.5,757.7 803.7,756.9C808.9,756.1 814.7,754.8 819.3,753C823.8,751.2 827.1,748.8 830.9,746.2C834.7,743.6 837.5,739.5 842.1,737.4C846.6,735.3 852.9,723.8 858.2,733.5C863.5,743.2 874.5,782.2 873.8,795.8C873.2,809.5 916,812.1 854.3,815.3C792.6,818.6 569.3,818.6 503.7,815.3C438,812.1 460.9,803.6 460.6,795.8C460.2,788.1 491.1,773.1 501.5,768.6Z" fill="#1464d2"/>
<path d="M636.8,805.9C637.7,795.5 640.6,797.1 642.4,792.7C644.3,788.3 645.9,782.8 648.1,779.5C650.3,776.1 652.5,774.3 655.7,772.8C658.8,771.4 663.2,771.6 667,771C670.8,770.3 674.6,769.7 678.3,769.1C682.1,768.4 685.9,767.7 689.7,767.2C693.5,766.6 697.2,766.2 701,765.9C704.8,765.5 708.6,765.5 712.3,765.3C716.1,765 720.2,765 723.7,764.3C727.1,763.7 730.3,762.4 733.1,761.5C736,760.6 739.3,758.8 740.7,758.7C742,758.6 739.3,760.6 741.3,760.8C743.4,761 748.5,759.5 753,759.8C757.6,760.1 763.4,761.9 768.6,762.7C773.8,763.5 779,764.4 784.2,764.7C789.4,765 794.6,765.2 799.8,764.7C805,764.2 810.2,763.1 815.4,761.8C820.6,760.5 826.5,758.3 830.9,756.9C835.4,755.4 837.5,753.8 842.1,753C846.6,752.2 852.9,744.9 858.2,752C863.5,759.2 874.5,785.3 873.8,795.8C873.2,806.4 893.8,805.5 854.3,815.3C814.8,825.2 673,856.6 636.8,855C600.5,853.4 635.8,816.3 636.8,805.9Z" fill="#1c50cc"/>
<path d="M629.2,722.8C630.3,722 632.9,723.4 633.9,725.6C635,727.8 635.3,732.1 635.3,736C635.3,739.9 634.7,745.9 633.9,749.2C633.2,752.5 631.8,755.2 630.7,755.8C629.6,756.5 628,755.4 627.3,753C626.6,750.6 626.6,745.4 626.6,741.7C626.6,737.9 626.9,733.5 627.3,730.3C627.8,727.2 628.1,723.6 629.2,722.8Z" fill="#1c50cc"/>
<path d="M623.6,741.3C624.2,740.3 625.6,739 626.5,739C627.5,739 628.9,740.3 629.3,741.3C629.6,742.3 629.2,744.3 628.5,745.2C627.8,746.1 626,746.8 625.2,746.8C624.3,746.7 623.5,745.7 623.2,744.8C623,743.9 623.1,742.3 623.6,741.3Z" fill="#483cc8" stroke="#0c8a1e" stroke-width="1.3"/>
<path d="M825.1,782.2C825.1,781 830.1,779.2 832.9,778.7C835.7,778.2 839.1,778.7 842.1,779.3C845,779.9 850.4,781.1 850.4,782.2C850.4,783.3 845,785.5 842.1,786.1C839.1,786.7 835.7,786.4 832.9,785.7C830.1,785.1 825.1,783.4 825.1,782.2Z" fill="#1464d2"/>
<path d="M682.9,795.8C677.9,793.4 685.8,792.9 687.8,791C689.7,789 692.1,786.1 694.6,784.2C697,782.2 699.8,780.3 702.4,779.3C705,778.3 706.9,778 710.2,778.3C713.4,778.6 718,780.5 721.9,781.2C725.8,781.9 730.3,782.2 733.5,782.6C736.8,783 739.8,781.6 741.3,783.8C742.9,786 746.6,792.2 742.7,795.8C738.8,799.5 727.9,805.6 718,805.6C708,805.6 687.9,798.3 682.9,795.8Z" fill="#483cc8" stroke="#0c8a1e" stroke-width="1.3"/>
<path d="M604,583C603.7,584.4 605.3,588.7 606.5,591.6C607.7,594.4 609.3,597.3 611.1,600.1C612.8,603 614.8,606.1 616.8,608.7C618.8,611.4 620.8,613.9 622.9,615.9C624.9,617.9 627.2,619.2 629.1,620.9C630.9,622.6 632.8,623.9 634,625.9C635.1,628 635.6,630.2 636.1,633.1C636.5,636 636.9,639.5 636.7,643.1C636.6,646.8 636.2,652.3 635.3,655C634.3,657.7 632,657.1 631.1,659.5C630.2,661.9 630.1,666 630,669.2C630,672.5 630.6,675.7 630.9,679C631.2,682.2 631.5,685.5 631.8,688.7C632,691.9 630.6,696.8 632.2,698.4C633.8,700.1 639.8,700.1 641.5,698.4C643.2,696.8 641.9,691.9 642.4,688.7C642.8,685.5 643.4,682.2 644,679C644.5,675.7 645,672.5 645.6,669.2C646.2,666 646.7,661.9 647.5,659.5C648.2,657.1 649.4,657.7 650.2,655C650.9,652.3 651.6,646.8 651.8,643.1C652.1,639.5 652.1,636 651.8,633.1C651.5,630.2 650.9,628 650,625.9C649.1,623.9 647.7,622.6 646.3,620.9C644.9,619.2 644,617.9 641.8,615.9C639.5,613.9 636.2,611.4 632.8,608.7C629.4,606.1 624.4,603 621.4,600.1C618.4,597.3 617,594.4 614.9,591.6C612.7,588.7 610.2,584.4 608.3,583C606.5,581.5 604.3,581.5 604,583Z" fill="#3c96f5"/>
<path d="M609.2,591.6C609.3,593 610.7,597.3 612.2,600.1C613.8,603 616.5,606.1 618.6,608.7C620.7,611.4 622.9,613.9 625,615.9C627.1,617.9 629.2,619.2 631,620.9C632.8,622.6 634.6,623.9 635.8,625.9C636.9,628 637.4,630.2 637.8,633.1C638.3,636 638.6,639.5 638.4,643.1C638.3,646.8 637.8,652.3 636.9,655C636,657.7 633.8,657.1 633,659.5C632.1,661.9 631.9,666 631.8,669.2C631.7,672.5 632.2,675.7 632.4,679C632.6,682.2 632.8,685.5 632.9,688.7C633.1,691.9 632,696.8 633.2,698.4C634.5,700.1 639.2,700.1 640.5,698.4C641.8,696.8 640.8,691.9 641.2,688.7C641.5,685.5 642.1,682.2 642.5,679C643,675.7 643.4,672.5 643.9,669.2C644.4,666 644.9,661.9 645.6,659.5C646.4,657.1 647.7,657.7 648.5,655C649.2,652.3 649.9,646.8 650.1,643.1C650.4,639.5 650.3,636 650,633.1C649.7,630.2 649.1,628 648.2,625.9C647.3,623.9 645.8,622.6 644.4,620.9C642.9,619.2 641.9,617.9 639.6,615.9C637.4,613.9 634.3,611.4 631,608.7C627.8,606.1 623.4,603 620.2,600.1C617.1,597.3 614,593 612.1,591.6C610.3,590.1 609.2,590.1 609.2,591.6Z" fill="#1e6eeb"/>
<path d="M624.7,608.7C625,609.9 627.6,613.9 629.2,615.9C630.8,617.9 632.7,619.2 634.3,620.9C635.9,622.6 637.7,623.9 638.8,625.9C639.9,628 640.4,630.2 640.8,633.1C641.2,636 641.4,639.5 641.3,643.1C641.1,646.8 640.6,652.3 639.7,655C638.9,657.7 636.9,657.1 636,659.5C635.2,661.9 634.9,666 634.7,669.2C634.5,672.5 633.7,677.3 634.8,679C636,680.6 640.4,680.6 641.7,679C643,677.3 642.4,672.5 642.9,669.2C643.4,666 643.8,661.9 644.6,659.5C645.4,657.1 646.8,657.7 647.5,655C648.3,652.3 648.9,646.8 649.2,643.1C649.4,639.5 649.4,636 649,633.1C648.7,630.2 648.2,628 647.2,625.9C646.2,623.9 644.8,622.6 643.3,620.9C641.7,619.2 640.5,617.9 637.8,615.9C635.1,613.9 629.1,609.9 626.9,608.7C624.8,607.5 624.3,607.5 624.7,608.7Z" fill="#1464d2"/>
<path d="M642.4,625.9C642.2,627.1 643.8,630.2 644.1,633.1C644.5,636 644.7,639.5 644.5,643.1C644.3,646.8 643.7,652.3 642.9,655C642.1,657.7 639.4,658.7 639.5,659.5C639.5,660.2 642.1,660.2 643.2,659.5C644.3,658.7 645.5,657.7 646.2,655C647,652.3 647.6,646.8 647.9,643.1C648.1,639.5 648,636 647.6,633.1C647.3,630.2 646.4,627.1 645.6,625.9C644.7,624.7 642.7,624.7 642.4,625.9Z" fill="#1c50cc"/>
<path d="M638.2,659.5C638.1,658.1 638.8,654.3 639.4,652.7C640,651 641,649.7 641.7,649.7C642.4,649.7 643.5,651.2 643.7,652.7C643.8,654.1 643.3,657.1 642.7,658.5C642.1,659.9 640.9,660.9 640.2,661C639.4,661.2 638.4,660.9 638.2,659.5Z" fill="#483cc8" stroke="#0c8a1e" stroke-width="1.1"/>
<path d="M607.4,519.0L609.5,521.7L611.6,517.8L613.8,515.4L614.1,511.4L616.6,509.5L618.7,508.7L621.9,508.7L625.9,506.3L629.1,504.3L629.4,506.7L626.9,509.9L628.3,510.6L630.1,509.1L633.0,507.9L634.4,505.1L635.1,507.9L639.4,509.1L640.1,511.4L647.2,511.4L651.1,513.4L654.3,511.8L658.6,511.0L662.5,511.0L659.6,512.6L660.4,514.6L665.7,515.8L666.4,517.8L669.2,519.7L670.0,520.9L674.6,524.5L675.6,526.5L679.2,529.6L683.5,530.4L686.7,530.0L690.6,530.4L694.5,532.4L696.6,534.0L698.8,536.8L700.9,538.0L702.0,542.3L704.8,546.3L705.2,549.4L703.4,552.2L701.6,554.6L704.1,554.2L707.3,553.8L710.5,554.6L709.8,558.5L711.9,556.2L714.0,555.8L719.0,557.8L723.6,560.1L724.7,563.7L728.6,562.9L734.0,564.5L738.6,564.5L743.9,566.9L745.7,568.0L750.0,572.0L754.6,573.6L757.1,574.0L758.1,577.2L758.9,581.5L758.5,585.5L757.1,589.8L754.6,593.0L753.2,595.0L750.7,597.7L748.9,601.3L745.7,604.9L743.9,608.0L743.9,612.8L744.3,616.7L743.2,622.7L741.4,626.6L741.1,631.0L739.3,633.8L737.2,637.7L736.8,640.5L733.2,644.1L729.0,644.5L724.0,645.6L721.2,647.6L718.0,648.4L712.6,652.4L710.1,655.5L709.8,659.5L709.8,663.5L709.1,666.6L705.9,669.4L703.7,673.8L700.5,678.1L697.3,680.9L695.6,684.4L692.7,687.2L691.3,689.6L687.4,691.6L682.8,691.6L677.1,690.0L674.9,688.0L674.9,690.4L679.2,693.9L679.6,697.1L681.0,699.5L678.1,703.8L673.9,706.2L669.2,707.4L663.9,707.8L661.8,707.0L661.1,711.8L661.4,714.1L655.7,716.5L651.1,714.9L651.5,717.7L655.0,720.9L656.4,722.8L653.2,723.2L651.5,724.8L650.4,730.0L646.1,732.3L642.6,735.5L642.6,737.9L647.9,740.3L648.6,743.0L642.6,747.4L639.0,752.1L636.5,755.3L639.4,760.5L635.5,761.2L630.5,762.4L630.5,766.4L626.6,765.6L621.9,763.2L617.7,760.5L615.9,755.3L614.8,751.4L614.1,745.4L613.8,739.5L617.7,735.5L619.5,729.6L621.2,723.6L620.2,719.7L620.5,715.7L621.2,711.8L622.3,707.8L620.9,701.9L622.3,699.9L623.7,695.1L626.6,690.0L628.0,684.0L628.3,676.1L628.7,671.8L629.1,666.2L630.5,660.3L631.5,654.4L632.3,646.8L633.0,640.5L633.3,633.4L632.6,626.6L629.1,623.5L624.1,619.5L617.7,615.6L612.7,611.2L611.3,608.0L608.4,601.3L606.3,596.9L603.5,591.0L601.7,585.9L598.5,580.7L594.2,577.2L593.5,572.0L596.3,567.3L598.1,565.3L598.5,562.5L594.9,562.5L595.6,557.4L596.7,555.0L597.8,550.2L602.0,547.5L603.1,543.1L607.0,539.5L608.1,537.6L607.0,531.6L607.4,527.7L605.6,524.9ZM605.6,524.9L603.8,521.7L604.9,520.1L599.9,517.8L596.7,520.5L598.1,523.7L594.9,524.9L592.1,522.9L587.8,520.9L585.0,519.4L585.3,516.6L581.4,515.4L580.0,515.4L577.5,512.2L577.9,509.5L575.0,505.9L571.8,502.3L567.9,501.1L563.3,500.0L557.6,498.4L554.7,496.0L550.1,491.6L546.6,489.3M607.4,519.0L603.5,516.2L599.5,515.8L594.6,518.6L590.3,517.8L587.5,513.8L585.0,509.9L585.0,503.9L586.0,498.0L586.7,494.0L583.9,491.6L580.3,490.5M638.7,761.6L640.1,764.4L642.6,767.2L646.1,769.2L650.7,770.0L646.1,771.1L640.8,772.3L635.5,772.3L630.1,770.4L626.6,768.4L630.1,767.2L632.6,765.2L632.3,762.4L635.5,761.6L638.7,761.6M665.0,758.5L669.2,756.5L673.5,756.9L677.1,757.7L674.6,759.7L670.7,760.1L667.1,759.7L665.0,758.5M747.5,767.2L751.0,768.0L754.6,769.6L755.3,770.4L751.7,769.2L747.5,767.2M823.9,490.1L822.9,494.0L820.4,495.2L822.9,498.8L822.9,503.9L825.7,506.7L829.3,509.9L830.3,512.6L833.9,515.8L835.7,519.7L838.1,523.7L841.7,526.1L845.3,528.9M662.5,513.4L666.0,513.4L665.7,510.6L663.2,511.0L662.5,513.4M556.9,554.6L559.0,554.2L559.4,557.0L557.6,557.4L556.9,554.6M560.8,555.4L561.8,556.2L561.1,556.6L560.8,555.4M564.0,556.2L565.0,556.6L564.0,557.0M629.1,506.7L624.8,513.8L625.1,519.7L626.6,525.7L633.7,526.1L642.6,528.9L641.5,537.6L644.3,545.5L644.7,548.6M644.7,548.6L635.5,548.6L634.0,555.4L635.8,558.2L633.7,570.0M602.0,547.5L607.0,551.4L614.1,553.8L615.2,557.0L621.2,562.5L626.6,562.9L633.7,570.0M597.1,566.9L597.1,570.8L601.7,573.2L603.8,567.3L610.6,563.3L614.1,559.3L615.2,557.0M633.7,570.0L623.7,573.2L620.2,581.1L623.0,589.0L625.9,593.0L631.5,591.0L631.9,596.9L635.5,596.9M635.5,596.9L638.3,602.9L637.2,610.8L635.5,614.8L637.2,618.7L635.5,622.7L632.6,625.8M635.5,596.9L640.8,595.8L650.4,592.2L650.4,598.9L658.6,603.7L665.7,606.8L668.5,612.8L669.2,617.9L675.3,617.9L675.6,622.7L677.8,624.7L676.0,631.8L675.6,633.4M675.6,633.4L672.4,629.8L663.2,631.0L660.0,641.3M660.0,641.3L653.9,643.7L650.7,640.9L646.8,639.7L643.6,643.7M643.6,643.7L640.8,637.7L639.0,632.6L637.9,628.6L635.5,622.7M643.6,643.7L644.3,648.4L639.4,650.4L639.0,660.3L634.4,668.2L631.9,676.1L633.7,684.0L632.3,692.0L629.4,699.9L630.1,707.8L627.3,715.7L627.3,725.6L628.3,733.5L625.5,741.5L622.3,749.4L625.5,755.3L626.9,759.3L639.4,760.5M660.0,641.3L665.7,647.6L673.5,652.4L677.8,654.0L674.2,661.1L682.4,661.9L688.4,654.8M675.6,633.4L676.7,640.9L684.5,641.7L685.6,648.4L689.5,648.8L688.4,654.8M688.4,654.8L691.3,657.1L691.6,661.1L684.2,665.4L677.8,673.0M677.8,673.0L683.5,675.3L688.8,678.9L693.1,682.9L692.7,687.2M677.8,673.0L675.6,682.1L674.9,688.0M644.7,548.6L649.7,550.2L655.0,545.9L654.3,537.2L659.3,538.4L666.8,532.8M666.8,532.8L664.3,529.6L669.2,520.5M666.8,532.8L669.6,535.6L670.0,544.3L673.5,548.3L681.7,545.9M681.7,545.9L676.4,537.6L679.2,529.6M681.7,545.9L688.4,544.3M688.4,544.3L690.6,530.4M688.4,544.3L695.9,544.7L698.8,536.8M638.7,761.6L638.7,770.7M587.8,520.9L588.9,515.8M577.9,509.5L585.0,510.2M571.8,502.3L576.8,498.4L586.7,494.0M567.9,501.1L565.0,496.4L569.0,491.2M554.7,496.0L557.2,489.7M698.8,536.8L695.9,544.7M688.4,544.3L687.4,553.4L697.7,558.2L704.1,554.2M673.5,548.3L673.2,555.4L681.7,562.5L675.3,582.3L663.9,588.2L650.4,592.2M675.3,582.3L679.9,589.0L701.2,592.2L704.1,604.1L701.2,612.8L694.1,623.9L677.8,624.7M701.2,592.2L707.6,587.1L710.8,574.4L719.0,557.8M710.8,574.4L715.5,583.1L719.0,593.8L719.0,604.9L704.1,604.1M719.0,593.8L725.1,595.4L730.0,590.2L736.8,587.8L738.6,582.3L735.7,565.3M719.0,593.8L719.4,581.1L729.7,579.9L733.2,564.5M736.8,587.8L743.9,587.1L747.5,590.6L753.2,595.0M738.6,582.3L745.0,583.9L750.3,581.9L758.1,579.1M745.0,583.9L751.0,577.2L750.0,572.0M750.3,581.9L754.6,585.1L758.5,583.1M747.5,590.6L752.8,589.0L757.4,588.6M719.0,604.9L719.0,612.8L725.4,610.0L733.2,612.8L740.4,616.0L743.2,624.3M719.0,612.8L714.4,616.7L714.4,625.8L701.6,630.6L701.2,633.4M694.1,623.9L701.2,633.4L694.1,642.5L689.5,648.8M701.2,633.4L713.7,632.6L718.0,643.3L724.0,645.6M725.4,641.7L733.2,636.5L736.8,637.7M733.2,636.5L736.8,626.6L741.4,625.8M694.1,642.5L705.9,644.5L711.9,653.6M691.3,657.1L704.8,656.7L709.8,656.3M691.6,661.1L701.2,663.1L705.9,669.4M620.2,581.1L626.6,589.0L633.7,589.8L645.1,592.2L650.4,592.2M635.8,558.2L643.3,563.3L656.8,562.1L662.1,556.6L663.9,549.8L669.6,549.4M823.9,490.1L831.0,487.7L838.1,494.0L841.7,504.3L833.9,503.5L829.3,509.9M822.9,499.6L832.8,500.3L822.9,501.1M833.9,503.5L823.2,504.3M835.7,517.8L843.5,513.8L845.3,520.5L841.7,526.1M843.5,513.8L841.7,504.3" fill="none" stroke="#a4a4a4" stroke-width="0.7" stroke-linejoin="round"/><path d="M663.6,489.3L664.3,492.4L665.7,495.6L665.7,498.4L665.0,501.1L663.2,505.5M783.0,775.9L787.3,779.1L788.7,783.0L787.3,787.0L784.8,789.4" fill="none" stroke="#a8a8a8" stroke-width="1" stroke-dasharray="1.2,2.2"/><path d="M620.1,719.9L619.6,720.4L619.4,719.5L619.6,719.0L620.1,719.0ZM620.3,717.0L621.5,717.9L620.7,719.5ZM620.0,720.4L619.5,720.4L619.4,719.1L620.1,719.5ZM620.2,719.4L621.7,719.2L621.1,721.4ZM620.5,720.9L620.7,722.8L619.7,722.5ZM622.1,722.6L621.0,722.3L621.8,721.1ZM619.0,720.1L619.5,722.0L619.0,723.5L617.9,723.2L617.7,721.0ZM619.8,721.8L618.0,722.3L618.6,719.0ZM620.0,721.7L619.2,723.9L618.6,721.3ZM619.8,724.0L618.9,724.6L618.5,722.7L619.7,722.2ZM619.5,723.0L619.2,724.0L618.6,723.4L618.9,722.3ZM619.8,722.9L620.3,722.4L620.5,723.1L620.1,723.8ZM620.5,723.9L621.0,725.0L620.5,725.9L619.7,725.9L619.9,724.6ZM619.1,724.1L618.0,723.8L618.7,721.9ZM617.8,725.2L617.3,724.5L617.6,723.5L618.3,723.0L618.7,724.7ZM619.4,723.4L620.0,724.1L619.5,725.0L619.1,724.2ZM618.4,728.6L618.0,726.7L618.4,724.4L619.7,725.5L619.9,728.1ZM618.3,728.0L617.2,727.3L617.5,725.2L618.6,724.9L619.1,726.6ZM618.8,726.9L617.7,728.0L617.7,726.3ZM619.2,727.9L618.6,729.6L617.7,728.7L618.2,727.1ZM620.4,728.0L620.3,730.6L618.6,730.1L619.3,727.8ZM620.2,725.8L621.2,727.9L619.6,729.8L619.0,727.0ZM621.6,729.6L620.7,730.1L620.8,728.5ZM618.5,728.9L619.8,728.5L619.6,731.8ZM619.1,730.3L619.1,732.1L618.2,731.2ZM619.8,730.0L618.4,730.4L619.0,728.1ZM617.5,731.6L619.0,731.1L618.9,733.6ZM615.6,731.6L616.1,731.6L616.3,732.7L615.5,732.7ZM619.7,733.8L619.5,732.5L620.2,732.7ZM620.0,731.5L620.7,731.1L621.4,732.3L620.8,734.0L619.8,733.1ZM619.0,732.9L619.2,734.8L618.1,735.5L617.3,733.9L618.0,732.3ZM618.0,732.0L617.7,733.7L617.0,732.0ZM619.8,735.6L620.1,733.7L620.8,735.5ZM617.3,734.6L617.3,733.1L618.1,734.2ZM618.5,734.0L619.1,732.3L619.9,734.2L618.9,735.9ZM616.4,731.2L617.6,733.4L616.3,735.2L615.1,733.2ZM618.3,735.7L617.4,736.5L617.3,734.5L618.1,734.4ZM618.8,737.0L618.0,737.1L618.3,736.0ZM619.9,734.2L620.6,734.7L620.4,735.7L619.9,735.9L619.4,735.2ZM617.8,736.5L617.2,736.0L617.0,735.0L617.6,734.7L618.4,735.3ZM614.7,734.9L616.5,736.5L614.8,738.4ZM619.8,737.6L619.9,735.6L620.7,736.7ZM615.7,735.3L616.6,735.9L616.1,736.6ZM616.3,739.5L615.2,738.6L615.7,736.7L616.8,736.3L617.1,738.3ZM620.1,739.2L619.5,738.7L619.9,737.8L620.4,738.3ZM615.5,740.1L614.7,739.5L615.3,738.8ZM613.3,738.6L615.3,740.2L613.5,741.8ZM620.6,739.8L619.3,739.7L619.0,737.7L619.9,736.6L620.9,737.5ZM619.8,739.1L620.0,742.0L618.5,740.5ZM615.2,738.6L614.9,739.6L614.4,739.0L614.7,738.3ZM614.8,738.6L615.5,740.5L614.1,740.6ZM618.3,741.0L617.9,740.2L618.2,739.3L618.7,740.0ZM613.1,742.1L614.0,742.6L613.5,743.6ZM617.5,741.4L618.8,739.5L618.7,742.0ZM616.1,743.0L616.4,741.6L617.0,742.7L616.7,744.2ZM614.0,742.8L613.2,745.2L611.8,743.0L613.1,741.7ZM618.7,741.3L619.2,742.5L618.6,743.7L618.0,742.8L617.8,741.4ZM612.4,743.1L612.7,741.2L613.7,741.5L613.4,743.0ZM615.1,742.1L615.9,743.9L614.9,744.3ZM620.4,743.4L620.9,744.8L620.3,745.6L619.6,744.8ZM614.2,747.6L613.1,747.1L613.6,745.0L614.8,745.9ZM620.7,747.8L619.6,748.1L618.9,747.1L619.5,745.9L620.5,745.7ZM619.5,746.7L619.3,745.5L620.2,745.1L620.1,746.5ZM614.8,746.0L615.7,746.4L614.8,748.0ZM616.7,747.3L615.8,747.1L615.7,745.2L616.8,745.6ZM615.4,746.1L615.9,748.3L614.7,748.8L613.9,747.6L614.2,745.4ZM616.5,745.8L617.6,746.1L618.0,747.5L617.4,748.5L616.6,747.9ZM621.0,750.3L619.1,749.6L620.7,746.9ZM617.6,745.4L617.6,747.9L616.7,748.8L616.0,747.8L616.1,745.8ZM621.3,750.6L620.1,750.5L619.8,749.1L620.9,748.3ZM618.0,749.2L618.9,749.6L619.2,750.8L618.7,752.0L617.8,751.1ZM615.0,750.0L614.7,750.6L614.2,750.0L614.7,749.5ZM617.2,749.5L616.7,748.7L617.2,747.5L617.9,748.1L617.8,749.4ZM620.4,749.2L620.9,749.7L620.5,750.3L620.2,750.0ZM613.6,751.9L613.0,750.7L613.9,750.7ZM617.4,750.3L617.4,751.6L616.5,751.4L616.9,750.1ZM617.0,752.7L617.8,749.4L618.9,752.1ZM620.8,751.4L621.3,751.6L621.1,752.6L620.5,752.7L620.4,751.7ZM612.4,751.4L613.6,751.3L613.2,753.2ZM619.0,753.3L619.6,750.6L620.6,752.2ZM614.1,753.7L613.3,754.5L612.2,752.8L613.7,752.0ZM621.6,753.8L620.9,754.7L620.2,754.0L620.6,752.8L621.3,752.5ZM620.7,756.2L619.9,755.9L620.3,754.7ZM621.6,756.6L620.9,756.1L621.1,754.7L621.9,755.3ZM616.9,754.9L616.3,755.8L615.9,754.6L616.3,753.8L616.8,754.0ZM616.5,758.1L615.9,756.1L617.5,756.1ZM618.2,754.4L618.4,755.7L617.5,756.4L616.9,755.1L617.4,753.7ZM616.5,756.1L615.9,755.6L616.2,754.6L617.1,754.9ZM615.7,755.8L616.8,754.8L617.9,755.3L617.4,757.1L616.6,757.3ZM616.3,757.6L615.5,757.0L616.1,755.4L616.7,756.7ZM619.3,755.8L619.3,757.3L618.3,757.4L618.1,755.8L618.8,754.8ZM617.0,755.8L616.9,757.9L615.8,758.0L615.4,756.6L615.9,755.2ZM615.2,758.5L614.2,758.9L614.0,756.9L615.0,757.1ZM620.5,758.3L620.5,756.9L621.5,757.3L621.1,758.8ZM621.6,758.3L622.2,759.3L621.8,761.4L620.8,759.6ZM618.9,761.0L618.0,760.6L618.8,758.8ZM620.7,761.8L619.3,760.9L620.7,758.7ZM619.2,762.8L619.1,759.5L621.0,760.0ZM620.6,759.7L621.1,759.8L621.5,760.5L621.1,761.0L620.6,760.7ZM623.8,759.2L623.6,760.3L623.1,759.7L623.2,758.3ZM618.8,762.4L617.7,763.1L616.6,762.6L616.9,760.4L618.2,760.2ZM619.4,762.0L619.4,760.7L619.9,760.3L620.8,760.7L620.2,762.1ZM621.5,762.8L621.5,760.9L622.8,761.2L622.8,763.9ZM622.4,761.0L622.3,760.1L622.5,759.2L623.2,759.6L623.0,760.7ZM617.1,759.5L618.0,760.8L617.0,762.0L615.9,761.6L616.0,759.3ZM624.0,762.9L624.5,762.8L624.6,763.8L623.9,764.0ZM619.3,765.1L618.8,764.0L619.1,763.0L619.8,763.0L619.9,764.1ZM624.3,764.6L623.5,764.7L623.5,763.5L624.3,763.1ZM622.7,763.6L623.3,763.3L623.4,764.3L623.1,765.2L622.6,764.5ZM625.4,762.9L625.3,763.8L624.7,763.7L624.4,762.6L625.0,761.9ZM627.3,765.9L625.8,764.6L627.1,762.9ZM620.2,763.7L618.8,764.0L619.2,761.6ZM622.0,762.9L622.6,763.1L622.8,764.3L622.0,764.0ZM618.7,765.5L619.0,763.7L620.3,763.5L620.0,766.2ZM624.3,764.4L624.9,763.2L625.7,763.5L625.8,765.0L624.9,765.7ZM628.6,763.1L628.4,764.3L627.5,764.8L627.2,763.1L628.0,761.8ZM622.1,764.3L621.1,765.3L621.0,763.5ZM623.7,766.5L623.9,765.9L624.3,765.8L624.3,766.5L624.1,767.0ZM626.3,765.0L627.8,765.2L627.8,768.0L626.1,767.8ZM629.8,766.7L629.5,767.3L629.0,767.1L629.0,766.0L629.6,765.8ZM629.9,764.5L629.8,766.0L629.0,766.1L628.7,765.0L629.2,764.2ZM621.4,766.3L621.9,767.4L621.1,768.2L620.9,767.0ZM622.3,765.8L622.8,766.5L622.1,767.1ZM622.8,767.1L621.3,765.4L622.0,762.9L623.6,764.1ZM629.3,766.6L628.3,766.6L629.1,765.0ZM630.8,768.1L629.7,767.4L630.5,766.3ZM625.0,764.7L626.1,766.9L624.1,768.1ZM631.5,767.6L631.1,767.9L630.7,767.3L631.2,767.0ZM630.4,769.1L629.6,768.8L629.7,766.8L631.1,767.3ZM629.2,767.0L627.8,769.5L627.6,766.0ZM624.9,768.6L626.3,766.7L626.1,769.7ZM631.9,769.8L630.3,770.3L630.1,767.7L631.4,767.5ZM627.7,767.4L628.0,765.9L628.8,766.8L628.8,768.1L628.1,768.6ZM631.2,768.4L632.1,767.5L632.7,768.8L631.9,769.6ZM631.0,767.9L631.5,766.8L632.1,767.4L631.8,768.4ZM633.3,766.6L633.8,767.8L633.0,767.9ZM629.5,769.8L628.4,771.8L627.7,768.2ZM633.4,768.3L633.5,769.5L632.8,769.5L632.7,768.6L632.8,767.6ZM629.3,771.3L628.4,770.6L629.2,769.3ZM631.7,767.9L632.0,770.5L630.4,771.2L630.3,768.4ZM629.5,769.2L629.4,768.2L629.9,767.7L630.2,768.8ZM634.2,769.0L633.2,770.0L632.5,768.6L633.4,767.3ZM632.3,768.7L630.7,769.3L630.9,766.2ZM633.3,770.1L632.7,769.3L632.3,767.7L633.3,767.5L633.8,768.8ZM632.9,770.9L633.6,771.2L633.1,772.2L632.7,772.0L632.5,771.2ZM629.4,768.7L630.1,769.3L630.3,770.4L629.6,771.0L628.8,770.1ZM638.3,772.8L636.9,772.1L638.0,770.4ZM634.0,767.5L635.8,768.4L635.2,771.1L633.4,770.9ZM635.7,772.6L635.3,770.8L636.4,770.9ZM630.9,770.5L631.8,771.2L630.9,772.3ZM638.7,770.1L637.7,771.0L637.3,769.2L638.2,768.9ZM636.5,769.0L637.0,769.4L636.6,769.9ZM637.9,769.9L638.4,770.8L637.7,771.4L637.3,770.2ZM638.3,772.1L639.4,770.9L639.8,773.9ZM633.5,770.3L634.4,769.0L634.8,771.4ZM636.5,770.5L635.7,771.8L634.7,771.2L634.7,769.4L635.8,768.7ZM636.5,773.5L636.6,772.7L636.9,772.4L637.3,772.6L637.2,773.8ZM636.3,772.0L634.6,773.0L635.0,770.2ZM637.3,772.9L636.9,771.0L637.9,771.4ZM637.9,771.1L637.8,772.4L637.1,772.6L637.2,771.3ZM640.2,769.6L641.0,772.4L638.7,771.6ZM636.6,770.8L636.7,772.1L636.1,771.4ZM639.5,770.8L640.1,771.1L640.0,772.1L639.5,772.6L639.2,771.7ZM637.9,770.8L637.5,771.8L637.0,770.7ZM640.8,771.6L640.2,772.5L639.8,771.2L640.6,770.1ZM639.2,772.2L640.8,771.7L640.9,773.7L640.0,774.6ZM642.4,773.4L643.1,772.5L643.8,774.2L642.6,775.1ZM638.4,774.2L637.2,772.2L639.0,771.7ZM641.1,770.9L642.2,773.4L640.7,775.3L640.1,772.9ZM643.1,771.6L642.8,773.4L641.8,773.0L641.7,770.2ZM642.7,773.3L641.9,772.9L641.9,771.8L642.4,771.2L642.9,771.9ZM643.5,771.1L643.1,773.5L641.8,771.9L642.4,769.4ZM642.0,773.9L641.0,774.5L640.5,772.8L641.5,772.4ZM643.6,772.6L645.0,772.6L645.3,774.3L644.2,774.8ZM641.8,774.0L640.9,772.4L641.9,770.6L643.0,772.7ZM645.2,775.6L643.6,775.4L643.3,773.1L644.3,771.4L645.3,773.0Z" fill="none" stroke="#a9a9a9" stroke-width="0.65" stroke-linejoin="round"/>
<circle cx="844.3" cy="495.4" r="4.2" fill="#e11400" stroke="#0c8a1e" stroke-width="1.2"/>
<ellipse cx="830.2" cy="502.3" rx="2.3" ry="3.2" fill="#e11400" stroke="#0c8a1e" stroke-width="1.1"/>
<rect x="596.2" y="549.9" width="13.2" height="9.8" fill="#fff"/><text class="cl" x="602.8" y="558.8" text-anchor="middle">15</text>
<rect x="616.2" y="686.5" width="13.2" height="9.8" fill="#fff"/><text class="cl" x="622.8" y="695.4" text-anchor="middle">15</text>
<rect x="536.3" y="702.3" width="13.2" height="9.8" fill="#fff"/><text class="cl" x="542.9" y="711.2" text-anchor="middle">15</text>
<rect x="745.8" y="713.8" width="13.2" height="9.8" fill="#fff"/><text class="cl" x="752.4" y="722.7" text-anchor="middle">15</text>
</g>
<rect x="522.1" y="494" width="320.9" height="296.9" fill="none" stroke="#000" stroke-width="2.1"/>
<text class="tk" text-anchor="end" transform="translate(517.2,497.5) scale(0.91,1)">15N</text>
<text class="tk" text-anchor="end" transform="translate(517.2,517.3) scale(0.91,1)">10N</text>
<text class="tk" text-anchor="end" transform="translate(517.2,537.1) scale(0.91,1)">5N</text>
<text class="tk" text-anchor="end" transform="translate(517.2,556.9) scale(0.91,1)">EQ</text>
<text class="tk" text-anchor="end" transform="translate(517.2,576.7) scale(0.91,1)">5S</text>
<text class="tk" text-anchor="end" transform="translate(517.2,596.5) scale(0.91,1)">10S</text>
<text class="tk" text-anchor="end" transform="translate(517.2,616.3) scale(0.91,1)">15S</text>
<text class="tk" text-anchor="end" transform="translate(517.2,636.1) scale(0.91,1)">20S</text>
<text class="tk" text-anchor="end" transform="translate(517.2,655.8) scale(0.91,1)">25S</text>
<text class="tk" text-anchor="end" transform="translate(517.2,675.6) scale(0.91,1)">30S</text>
<text class="tk" text-anchor="end" transform="translate(517.2,695.4) scale(0.91,1)">35S</text>
<text class="tk" text-anchor="end" transform="translate(517.2,715.2) scale(0.91,1)">40S</text>
<text class="tk" text-anchor="end" transform="translate(517.2,735) scale(0.91,1)">45S</text>
<text class="tk" text-anchor="end" transform="translate(517.2,754.8) scale(0.91,1)">50S</text>
<text class="tk" text-anchor="end" transform="translate(517.2,774.6) scale(0.91,1)">55S</text>
<text class="tk" text-anchor="end" transform="translate(517.2,794.4) scale(0.91,1)">60S</text>
<text class="tk" text-anchor="middle" transform="translate(526.9,801.8) scale(0.91,1)">100W</text>
<text class="tk" text-anchor="middle" transform="translate(562.5,801.8) scale(0.91,1)">90W</text>
<text class="tk" text-anchor="middle" transform="translate(598,801.8) scale(0.91,1)">80W</text>
<text class="tk" text-anchor="middle" transform="translate(633.6,801.8) scale(0.91,1)">70W</text>
<text class="tk" text-anchor="middle" transform="translate(669.1,801.8) scale(0.91,1)">60W</text>
<text class="tk" text-anchor="middle" transform="translate(704.7,801.8) scale(0.91,1)">50W</text>
<text class="tk" text-anchor="middle" transform="translate(740.3,801.8) scale(0.91,1)">40W</text>
<text class="tk" text-anchor="middle" transform="translate(775.8,801.8) scale(0.91,1)">30W</text>
<text class="tk" text-anchor="middle" transform="translate(811.4,801.8) scale(0.91,1)">20W</text>
<path d="M521.2,494h-3.0M521.2,513.8h-3.0M521.2,533.6h-3.0M521.2,553.4h-3.0M521.2,573.2h-3.0M521.2,593h-3.0M521.2,612.8h-3.0M521.2,632.6h-3.0M521.2,652.3h-3.0M521.2,672.1h-3.0M521.2,691.9h-3.0M521.2,711.7h-3.0M521.2,731.5h-3.0M521.2,751.3h-3.0M521.2,771.1h-3.0M521.2,790.9h-3.0M526.9,791.8v3.0M562.5,791.8v3.0M598,791.8v3.0M633.6,791.8v3.0M669.1,791.8v3.0M704.7,791.8v3.0M740.3,791.8v3.0M775.8,791.8v3.0M811.4,791.8v3.0" stroke="#000" stroke-width="1.4" fill="none"/>
<defs><pattern id="dt1" width="3.2" height="3.2" patternUnits="userSpaceOnUse"><rect width="3.2" height="3.2" fill="#cd3737"/><rect x="1" y="1" width="0.8" height="0.8" fill="#e59a8a"/></pattern><pattern id="dt2" width="2.6" height="2.6" patternUnits="userSpaceOnUse"><rect width="2.6" height="2.6" fill="#b52020"/><rect x="0.8" y="0.8" width="0.7" height="0.7" fill="#d98070"/></pattern></defs>
<rect x="427" y="150" width="12.2" height="15.3" fill="#c00000" stroke="#000" stroke-width="1.2"/>
<rect x="427" y="165.3" width="12.2" height="15.3" fill="url(#dt1)" stroke="#000" stroke-width="1.2"/>
<rect x="427" y="180.6" width="12.2" height="15.3" fill="#e11400" stroke="#000" stroke-width="1.2"/>
<rect x="427" y="195.9" width="12.2" height="15.3" fill="#ff3200" stroke="#000" stroke-width="1.2"/>
<rect x="427" y="211.2" width="12.2" height="15.3" fill="#ff6000" stroke="#000" stroke-width="1.2"/>
<rect x="427" y="226.5" width="12.2" height="15.3" fill="#ffa000" stroke="#000" stroke-width="1.2"/>
<rect x="427" y="241.8" width="12.2" height="15.3" fill="#ffc03c" stroke="#000" stroke-width="1.2"/>
<rect x="427" y="257.1" width="12.2" height="15.3" fill="#ffe878" stroke="#000" stroke-width="1.2"/>
<rect x="427" y="272.4" width="12.2" height="15.3" fill="#78b9fa" stroke="#000" stroke-width="1.2"/>
<rect x="427" y="287.6" width="12.2" height="15.3" fill="#3c96f5" stroke="#000" stroke-width="1.2"/>
<rect x="427" y="302.9" width="12.2" height="15.3" fill="#1e6eeb" stroke="#000" stroke-width="1.2"/>
<rect x="427" y="318.2" width="12.2" height="15.3" fill="#1464d2" stroke="#000" stroke-width="1.2"/>
<rect x="427" y="333.5" width="12.2" height="15.3" fill="#1c50cc" stroke="#000" stroke-width="1.2"/>
<rect x="427" y="348.8" width="12.2" height="15.3" fill="#483cc8" stroke="#000" stroke-width="1.2"/>
<rect x="427" y="364.1" width="12.2" height="15.3" fill="#7060dc" stroke="#000" stroke-width="1.2"/>
<rect x="427" y="379.4" width="12.2" height="15.3" fill="#8070eb" stroke="#000" stroke-width="1.2"/>
<rect x="427" y="394.7" width="12.2" height="15.3" fill="#a08cff" stroke="#000" stroke-width="1.2"/>
<rect x="427" y="410" width="12.2" height="15.3" fill="#c0b4ff" stroke="#000" stroke-width="1.2"/>
<path d="M427,150L433.1,134.5L439.2,150Z" fill="url(#dt2)" stroke="#000" stroke-width="1.2" stroke-linejoin="miter"/>
<path d="M427,425.3L433.1,441L439.2,425.3Z" fill="#dcdcff" stroke="#000" stroke-width="1.2"/>
<text class="cb" transform="translate(442.6,154) scale(1.24,1)">39</text>
<text class="cb" transform="translate(442.6,169.3) scale(1.24,1)">36</text>
<text class="cb" transform="translate(442.6,184.6) scale(1.24,1)">33</text>
<text class="cb" transform="translate(442.6,199.9) scale(1.24,1)">30</text>
<text class="cb" transform="translate(442.6,215.2) scale(1.24,1)">27</text>
<text class="cb" transform="translate(442.6,230.5) scale(1.24,1)">24</text>
<text class="cb" transform="translate(442.6,245.8) scale(1.24,1)">21</text>
<text class="cb" transform="translate(442.6,261.1) scale(1.24,1)">18</text>
<text class="cb" transform="translate(442.6,276.4) scale(1.24,1)">15</text>
<text class="cb" transform="translate(442.6,291.6) scale(1.24,1)">12</text>
<text class="cb" transform="translate(442.6,306.9) scale(1.24,1)">9</text>
<text class="cb" transform="translate(442.6,322.2) scale(1.24,1)">6</text>
<text class="cb" transform="translate(442.6,337.5) scale(1.24,1)">3</text>
<text class="cb" transform="translate(442.6,352.8) scale(1.24,1)">0</text>
<text class="cb" x="442.2" y="368.1" textLength="8.8" lengthAdjust="spacingAndGlyphs">-</text>
<text class="cb" transform="translate(451,368.1) scale(1.24,1)">3</text>
<text class="cb" x="442.2" y="383.4" textLength="8.8" lengthAdjust="spacingAndGlyphs">-</text>
<text class="cb" transform="translate(451,383.4) scale(1.24,1)">6</text>
<text class="cb" x="442.2" y="398.7" textLength="8.8" lengthAdjust="spacingAndGlyphs">-</text>
<text class="cb" transform="translate(451,398.7) scale(1.24,1)">9</text>
<text class="cb" x="442.2" y="414" textLength="8.8" lengthAdjust="spacingAndGlyphs">-</text>
<text class="cb" transform="translate(451,414) scale(1.24,1)">12</text>
<text class="cb" x="442.2" y="429.3" textLength="8.8" lengthAdjust="spacingAndGlyphs">-</text>
<text class="cb" transform="translate(451,429.3) scale(1.24,1)">15</text>
</svg></body></html>
